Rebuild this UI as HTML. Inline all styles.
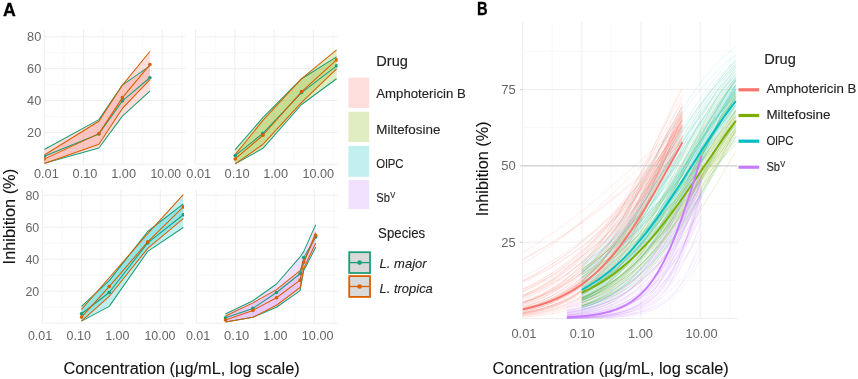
<!DOCTYPE html>
<html><head><meta charset="utf-8"><style>
html,body{margin:0;padding:0;background:#fff;width:858px;height:379px;overflow:hidden}
svg text{font-family:"Liberation Sans", sans-serif}
svg{filter:blur(0.3px)}
</style></head><body>
<svg width="858" height="379" viewBox="0 0 858 379" style="display:block;font-family:'Liberation Sans', sans-serif"><line x1="44.30" y1="148.28" x2="185.40" y2="148.28" stroke="#F5F5F5" stroke-width="0.6"/>
<line x1="44.30" y1="116.44" x2="185.40" y2="116.44" stroke="#F5F5F5" stroke-width="0.6"/>
<line x1="44.30" y1="84.60" x2="185.40" y2="84.60" stroke="#F5F5F5" stroke-width="0.6"/>
<line x1="44.30" y1="52.76" x2="185.40" y2="52.76" stroke="#F5F5F5" stroke-width="0.6"/>
<line x1="63.94" y1="29.50" x2="63.94" y2="164.20" stroke="#F5F5F5" stroke-width="0.6"/>
<line x1="103.20" y1="29.50" x2="103.20" y2="164.20" stroke="#F5F5F5" stroke-width="0.6"/>
<line x1="142.48" y1="29.50" x2="142.48" y2="164.20" stroke="#F5F5F5" stroke-width="0.6"/>
<line x1="181.75" y1="29.50" x2="181.75" y2="164.20" stroke="#F5F5F5" stroke-width="0.6"/>
<line x1="44.30" y1="164.20" x2="185.40" y2="164.20" stroke="#EEEEEE" stroke-width="1"/>
<line x1="44.30" y1="132.36" x2="185.40" y2="132.36" stroke="#EEEEEE" stroke-width="1"/>
<line x1="44.30" y1="100.52" x2="185.40" y2="100.52" stroke="#EEEEEE" stroke-width="1"/>
<line x1="44.30" y1="68.68" x2="185.40" y2="68.68" stroke="#EEEEEE" stroke-width="1"/>
<line x1="44.30" y1="36.84" x2="185.40" y2="36.84" stroke="#EEEEEE" stroke-width="1"/>
<line x1="44.30" y1="29.50" x2="44.30" y2="164.20" stroke="#EEEEEE" stroke-width="1"/>
<line x1="83.57" y1="29.50" x2="83.57" y2="164.20" stroke="#EEEEEE" stroke-width="1"/>
<line x1="122.84" y1="29.50" x2="122.84" y2="164.20" stroke="#EEEEEE" stroke-width="1"/>
<line x1="162.11" y1="29.50" x2="162.11" y2="164.20" stroke="#EEEEEE" stroke-width="1"/>
<line x1="195.60" y1="148.28" x2="337.60" y2="148.28" stroke="#F5F5F5" stroke-width="0.6"/>
<line x1="195.60" y1="116.44" x2="337.60" y2="116.44" stroke="#F5F5F5" stroke-width="0.6"/>
<line x1="195.60" y1="84.60" x2="337.60" y2="84.60" stroke="#F5F5F5" stroke-width="0.6"/>
<line x1="195.60" y1="52.76" x2="337.60" y2="52.76" stroke="#F5F5F5" stroke-width="0.6"/>
<line x1="215.23" y1="29.50" x2="215.23" y2="164.20" stroke="#F5F5F5" stroke-width="0.6"/>
<line x1="254.50" y1="29.50" x2="254.50" y2="164.20" stroke="#F5F5F5" stroke-width="0.6"/>
<line x1="293.77" y1="29.50" x2="293.77" y2="164.20" stroke="#F5F5F5" stroke-width="0.6"/>
<line x1="333.05" y1="29.50" x2="333.05" y2="164.20" stroke="#F5F5F5" stroke-width="0.6"/>
<line x1="195.60" y1="164.20" x2="337.60" y2="164.20" stroke="#EEEEEE" stroke-width="1"/>
<line x1="195.60" y1="132.36" x2="337.60" y2="132.36" stroke="#EEEEEE" stroke-width="1"/>
<line x1="195.60" y1="100.52" x2="337.60" y2="100.52" stroke="#EEEEEE" stroke-width="1"/>
<line x1="195.60" y1="68.68" x2="337.60" y2="68.68" stroke="#EEEEEE" stroke-width="1"/>
<line x1="195.60" y1="36.84" x2="337.60" y2="36.84" stroke="#EEEEEE" stroke-width="1"/>
<line x1="195.60" y1="29.50" x2="195.60" y2="164.20" stroke="#EEEEEE" stroke-width="1"/>
<line x1="234.87" y1="29.50" x2="234.87" y2="164.20" stroke="#EEEEEE" stroke-width="1"/>
<line x1="274.14" y1="29.50" x2="274.14" y2="164.20" stroke="#EEEEEE" stroke-width="1"/>
<line x1="313.41" y1="29.50" x2="313.41" y2="164.20" stroke="#EEEEEE" stroke-width="1"/>
<line x1="42.40" y1="307.20" x2="184.00" y2="307.20" stroke="#F5F5F5" stroke-width="0.6"/>
<line x1="42.40" y1="275.20" x2="184.00" y2="275.20" stroke="#F5F5F5" stroke-width="0.6"/>
<line x1="42.40" y1="243.20" x2="184.00" y2="243.20" stroke="#F5F5F5" stroke-width="0.6"/>
<line x1="42.40" y1="211.20" x2="184.00" y2="211.20" stroke="#F5F5F5" stroke-width="0.6"/>
<line x1="62.05" y1="189.50" x2="62.05" y2="323.20" stroke="#F5F5F5" stroke-width="0.6"/>
<line x1="101.35" y1="189.50" x2="101.35" y2="323.20" stroke="#F5F5F5" stroke-width="0.6"/>
<line x1="140.65" y1="189.50" x2="140.65" y2="323.20" stroke="#F5F5F5" stroke-width="0.6"/>
<line x1="179.95" y1="189.50" x2="179.95" y2="323.20" stroke="#F5F5F5" stroke-width="0.6"/>
<line x1="42.40" y1="323.20" x2="184.00" y2="323.20" stroke="#EEEEEE" stroke-width="1"/>
<line x1="42.40" y1="291.20" x2="184.00" y2="291.20" stroke="#EEEEEE" stroke-width="1"/>
<line x1="42.40" y1="259.20" x2="184.00" y2="259.20" stroke="#EEEEEE" stroke-width="1"/>
<line x1="42.40" y1="227.20" x2="184.00" y2="227.20" stroke="#EEEEEE" stroke-width="1"/>
<line x1="42.40" y1="195.20" x2="184.00" y2="195.20" stroke="#EEEEEE" stroke-width="1"/>
<line x1="42.40" y1="189.50" x2="42.40" y2="323.20" stroke="#EEEEEE" stroke-width="1"/>
<line x1="81.70" y1="189.50" x2="81.70" y2="323.20" stroke="#EEEEEE" stroke-width="1"/>
<line x1="121.00" y1="189.50" x2="121.00" y2="323.20" stroke="#EEEEEE" stroke-width="1"/>
<line x1="160.30" y1="189.50" x2="160.30" y2="323.20" stroke="#EEEEEE" stroke-width="1"/>
<line x1="196.30" y1="307.20" x2="337.60" y2="307.20" stroke="#F5F5F5" stroke-width="0.6"/>
<line x1="196.30" y1="275.20" x2="337.60" y2="275.20" stroke="#F5F5F5" stroke-width="0.6"/>
<line x1="196.30" y1="243.20" x2="337.60" y2="243.20" stroke="#F5F5F5" stroke-width="0.6"/>
<line x1="196.30" y1="211.20" x2="337.60" y2="211.20" stroke="#F5F5F5" stroke-width="0.6"/>
<line x1="215.97" y1="189.50" x2="215.97" y2="323.20" stroke="#F5F5F5" stroke-width="0.6"/>
<line x1="255.30" y1="189.50" x2="255.30" y2="323.20" stroke="#F5F5F5" stroke-width="0.6"/>
<line x1="294.62" y1="189.50" x2="294.62" y2="323.20" stroke="#F5F5F5" stroke-width="0.6"/>
<line x1="333.96" y1="189.50" x2="333.96" y2="323.20" stroke="#F5F5F5" stroke-width="0.6"/>
<line x1="196.30" y1="323.20" x2="337.60" y2="323.20" stroke="#EEEEEE" stroke-width="1"/>
<line x1="196.30" y1="291.20" x2="337.60" y2="291.20" stroke="#EEEEEE" stroke-width="1"/>
<line x1="196.30" y1="259.20" x2="337.60" y2="259.20" stroke="#EEEEEE" stroke-width="1"/>
<line x1="196.30" y1="227.20" x2="337.60" y2="227.20" stroke="#EEEEEE" stroke-width="1"/>
<line x1="196.30" y1="195.20" x2="337.60" y2="195.20" stroke="#EEEEEE" stroke-width="1"/>
<line x1="196.30" y1="189.50" x2="196.30" y2="323.20" stroke="#EEEEEE" stroke-width="1"/>
<line x1="235.63" y1="189.50" x2="235.63" y2="323.20" stroke="#EEEEEE" stroke-width="1"/>
<line x1="274.96" y1="189.50" x2="274.96" y2="323.20" stroke="#EEEEEE" stroke-width="1"/>
<line x1="314.29" y1="189.50" x2="314.29" y2="323.20" stroke="#EEEEEE" stroke-width="1"/>
<clipPath id="cf0"><rect x="44.3" y="20" width="141.10" height="150"/></clipPath><g clip-path="url(#cf0)">
<polygon points="44.30,149.55 98.90,119.62 122.40,85.08 149.90,65.81 149.90,91.13 122.40,116.12 98.90,147.96 44.30,163.24" fill="#F8766D" fill-opacity="0.24" stroke="none"/>
<polygon points="44.30,154.97 98.90,121.22 122.40,85.08 149.90,51.49 149.90,79.66 122.40,108.48 98.90,144.30 44.30,163.56" fill="#F8766D" fill-opacity="0.24" stroke="none"/>
<polyline points="44.30,149.55 98.90,119.62 122.40,85.08 149.90,65.81" fill="none" stroke="#1B9E77" stroke-width="1.05" stroke-linejoin="round"/>
<polyline points="44.30,163.24 98.90,147.96 122.40,116.12 149.90,91.13" fill="none" stroke="#1B9E77" stroke-width="1.05" stroke-linejoin="round"/>
<polyline points="44.30,154.97 98.90,121.22 122.40,85.08 149.90,51.49" fill="none" stroke="#D95F02" stroke-width="1.05" stroke-linejoin="round"/>
<polyline points="44.30,163.56 98.90,144.30 122.40,108.48 149.90,79.66" fill="none" stroke="#D95F02" stroke-width="1.05" stroke-linejoin="round"/>
<polyline points="44.30,156.24 98.90,133.95 122.40,100.84 149.90,77.75" fill="none" stroke="#1B9E77" stroke-width="1.05" stroke-linejoin="round"/>
<circle cx="44.30" cy="156.24" r="1.8" fill="#1B9E77"/>
<circle cx="98.90" cy="133.95" r="1.8" fill="#1B9E77"/>
<circle cx="122.40" cy="100.84" r="1.8" fill="#1B9E77"/>
<circle cx="149.90" cy="77.75" r="1.8" fill="#1B9E77"/>
<polyline points="44.30,159.11 98.90,133.63 122.40,97.65 149.90,64.54" fill="none" stroke="#D95F02" stroke-width="1.05" stroke-linejoin="round"/>
<circle cx="44.30" cy="159.11" r="1.8" fill="#D95F02"/>
<circle cx="98.90" cy="133.63" r="1.8" fill="#D95F02"/>
<circle cx="122.40" cy="97.65" r="1.8" fill="#D95F02"/>
<circle cx="149.90" cy="64.54" r="1.8" fill="#D95F02"/>
</g>
<clipPath id="cf1"><rect x="195.6" y="20" width="142.00" height="150"/></clipPath><g clip-path="url(#cf1)">
<polygon points="235.20,149.71 262.90,117.71 301.60,78.71 336.60,56.90 336.60,78.71 301.60,104.50 262.90,148.28 235.20,163.88" fill="#7CAE00" fill-opacity="0.24" stroke="none"/>
<polygon points="235.20,154.65 262.90,120.42 301.60,78.71 336.60,49.89 336.60,68.84 301.60,102.43 262.90,144.46 235.20,163.88" fill="#7CAE00" fill-opacity="0.24" stroke="none"/>
<polyline points="235.20,149.71 262.90,117.71 301.60,78.71 336.60,56.90" fill="none" stroke="#1B9E77" stroke-width="1.05" stroke-linejoin="round"/>
<polyline points="235.20,163.88 262.90,148.28 301.60,104.50 336.60,78.71" fill="none" stroke="#1B9E77" stroke-width="1.05" stroke-linejoin="round"/>
<polyline points="235.20,154.65 262.90,120.42 301.60,78.71 336.60,49.89" fill="none" stroke="#D95F02" stroke-width="1.05" stroke-linejoin="round"/>
<polyline points="235.20,163.88 262.90,144.46 301.60,102.43 336.60,68.84" fill="none" stroke="#D95F02" stroke-width="1.05" stroke-linejoin="round"/>
<polyline points="235.20,155.60 262.90,133.32 301.60,92.56 336.60,65.81" fill="none" stroke="#1B9E77" stroke-width="1.05" stroke-linejoin="round"/>
<circle cx="235.20" cy="155.60" r="1.8" fill="#1B9E77"/>
<circle cx="262.90" cy="133.32" r="1.8" fill="#1B9E77"/>
<circle cx="301.60" cy="92.56" r="1.8" fill="#1B9E77"/>
<circle cx="336.60" cy="65.81" r="1.8" fill="#1B9E77"/>
<polyline points="235.20,158.95 262.90,135.23 301.60,91.60 336.60,59.92" fill="none" stroke="#D95F02" stroke-width="1.05" stroke-linejoin="round"/>
<circle cx="235.20" cy="158.95" r="1.8" fill="#D95F02"/>
<circle cx="262.90" cy="135.23" r="1.8" fill="#D95F02"/>
<circle cx="301.60" cy="91.60" r="1.8" fill="#D95F02"/>
<circle cx="336.60" cy="59.92" r="1.8" fill="#D95F02"/>
</g>
<clipPath id="cf2"><rect x="42.4" y="180" width="141.60" height="150"/></clipPath><g clip-path="url(#cf2)">
<polygon points="81.50,306.40 109.20,280.64 147.70,231.52 183.30,203.84 183.30,227.52 147.70,251.36 109.20,306.40 81.50,321.12" fill="#00BFC4" fill-opacity="0.24" stroke="none"/>
<polygon points="81.50,309.28 109.20,277.76 147.70,233.60 183.30,194.56 183.30,218.56 147.70,248.32 109.20,296.48 81.50,321.12" fill="#00BFC4" fill-opacity="0.24" stroke="none"/>
<polyline points="81.50,306.40 109.20,280.64 147.70,231.52 183.30,203.84" fill="none" stroke="#1B9E77" stroke-width="1.05" stroke-linejoin="round"/>
<polyline points="81.50,321.12 109.20,306.40 147.70,251.36 183.30,227.52" fill="none" stroke="#1B9E77" stroke-width="1.05" stroke-linejoin="round"/>
<polyline points="81.50,309.28 109.20,277.76 147.70,233.60 183.30,194.56" fill="none" stroke="#D95F02" stroke-width="1.05" stroke-linejoin="round"/>
<polyline points="81.50,321.12 109.20,296.48 147.70,248.32 183.30,218.56" fill="none" stroke="#D95F02" stroke-width="1.05" stroke-linejoin="round"/>
<polyline points="81.50,313.76 109.20,292.48 147.70,242.88 183.30,214.72" fill="none" stroke="#1B9E77" stroke-width="1.05" stroke-linejoin="round"/>
<circle cx="81.50" cy="313.76" r="1.8" fill="#1B9E77"/>
<circle cx="109.20" cy="292.48" r="1.8" fill="#1B9E77"/>
<circle cx="147.70" cy="242.88" r="1.8" fill="#1B9E77"/>
<circle cx="183.30" cy="214.72" r="1.8" fill="#1B9E77"/>
<polyline points="81.50,317.12 109.20,286.56 147.70,241.92 183.30,206.88" fill="none" stroke="#D95F02" stroke-width="1.05" stroke-linejoin="round"/>
<circle cx="81.50" cy="317.12" r="1.8" fill="#D95F02"/>
<circle cx="109.20" cy="286.56" r="1.8" fill="#D95F02"/>
<circle cx="147.70" cy="241.92" r="1.8" fill="#D95F02"/>
<circle cx="183.30" cy="206.88" r="1.8" fill="#D95F02"/>
</g>
<clipPath id="cf3"><rect x="196.3" y="180" width="141.30" height="150"/></clipPath><g clip-path="url(#cf3)">
<polygon points="225.50,314.00 252.90,300.80 276.50,284.00 300.10,256.96 303.70,251.60 315.70,224.64 315.70,247.36 303.70,270.56 300.10,290.56 276.50,307.20 252.90,317.28 225.50,321.92" fill="#C77CFF" fill-opacity="0.24" stroke="none"/>
<polygon points="225.50,316.00 252.90,302.88 276.50,289.60 300.10,270.56 303.70,262.40 315.70,232.80 315.70,243.20 303.70,268.48 300.10,287.52 276.50,305.28 252.90,317.28 225.50,321.92" fill="#C77CFF" fill-opacity="0.24" stroke="none"/>
<polyline points="225.50,314.00 252.90,300.80 276.50,284.00 300.10,256.96 303.70,251.60 315.70,224.64" fill="none" stroke="#1B9E77" stroke-width="1.05" stroke-linejoin="round"/>
<polyline points="225.50,321.92 252.90,317.28 276.50,307.20 300.10,290.56 303.70,270.56 315.70,247.36" fill="none" stroke="#1B9E77" stroke-width="1.05" stroke-linejoin="round"/>
<polyline points="225.50,316.00 252.90,302.88 276.50,289.60 300.10,270.56 303.70,262.40 315.70,232.80" fill="none" stroke="#D95F02" stroke-width="1.05" stroke-linejoin="round"/>
<polyline points="225.50,321.92 252.90,317.28 276.50,305.28 300.10,287.52 303.70,268.48 315.70,243.20" fill="none" stroke="#D95F02" stroke-width="1.05" stroke-linejoin="round"/>
<polyline points="225.50,317.76 252.90,308.40 276.50,292.48 300.10,273.76 303.70,257.60 315.70,236.96" fill="none" stroke="#1B9E77" stroke-width="1.05" stroke-linejoin="round"/>
<circle cx="225.50" cy="317.76" r="1.8" fill="#1B9E77"/>
<circle cx="252.90" cy="308.40" r="1.8" fill="#1B9E77"/>
<circle cx="276.50" cy="292.48" r="1.8" fill="#1B9E77"/>
<circle cx="300.10" cy="273.76" r="1.8" fill="#1B9E77"/>
<circle cx="303.70" cy="257.60" r="1.8" fill="#1B9E77"/>
<circle cx="315.70" cy="236.96" r="1.8" fill="#1B9E77"/>
<polyline points="225.50,320.00 252.90,310.40 276.50,297.76 300.10,280.16 303.70,262.24 315.70,235.20" fill="none" stroke="#D95F02" stroke-width="1.05" stroke-linejoin="round"/>
<circle cx="225.50" cy="320.00" r="1.8" fill="#D95F02"/>
<circle cx="252.90" cy="310.40" r="1.8" fill="#D95F02"/>
<circle cx="276.50" cy="297.76" r="1.8" fill="#D95F02"/>
<circle cx="300.10" cy="280.16" r="1.8" fill="#D95F02"/>
<circle cx="303.70" cy="262.24" r="1.8" fill="#D95F02"/>
<circle cx="315.70" cy="235.20" r="1.8" fill="#D95F02"/>
</g>
<text x="41.30" y="136.86" font-size="12.7" fill="#666666" text-anchor="end" font-weight="normal" font-style="normal" textLength="14.20" lengthAdjust="spacingAndGlyphs" >20</text>
<text x="39.30" y="295.70" font-size="12.7" fill="#666666" text-anchor="end" font-weight="normal" font-style="normal" textLength="13.90" lengthAdjust="spacingAndGlyphs" >20</text>
<text x="41.30" y="105.02" font-size="12.7" fill="#666666" text-anchor="end" font-weight="normal" font-style="normal" textLength="14.20" lengthAdjust="spacingAndGlyphs" >40</text>
<text x="39.30" y="263.70" font-size="12.7" fill="#666666" text-anchor="end" font-weight="normal" font-style="normal" textLength="13.90" lengthAdjust="spacingAndGlyphs" >40</text>
<text x="41.30" y="73.18" font-size="12.7" fill="#666666" text-anchor="end" font-weight="normal" font-style="normal" textLength="14.20" lengthAdjust="spacingAndGlyphs" >60</text>
<text x="39.30" y="231.70" font-size="12.7" fill="#666666" text-anchor="end" font-weight="normal" font-style="normal" textLength="13.90" lengthAdjust="spacingAndGlyphs" >60</text>
<text x="41.30" y="41.34" font-size="12.7" fill="#666666" text-anchor="end" font-weight="normal" font-style="normal" textLength="14.20" lengthAdjust="spacingAndGlyphs" >80</text>
<text x="39.30" y="199.70" font-size="12.7" fill="#666666" text-anchor="end" font-weight="normal" font-style="normal" textLength="13.90" lengthAdjust="spacingAndGlyphs" >80</text>
<text x="34.00" y="178.20" font-size="12.7" fill="#666666" text-anchor="start" font-weight="normal" font-style="normal" textLength="24.70" lengthAdjust="spacingAndGlyphs" >0.01</text>
<text x="72.60" y="178.20" font-size="12.7" fill="#666666" text-anchor="start" font-weight="normal" font-style="normal" textLength="24.80" lengthAdjust="spacingAndGlyphs" >0.10</text>
<text x="111.20" y="178.20" font-size="12.7" fill="#666666" text-anchor="start" font-weight="normal" font-style="normal" textLength="24.80" lengthAdjust="spacingAndGlyphs" >1.00</text>
<text x="150.50" y="178.20" font-size="12.7" fill="#666666" text-anchor="start" font-weight="normal" font-style="normal" textLength="30.50" lengthAdjust="spacingAndGlyphs" >10.00</text>
<text x="186.30" y="178.20" font-size="12.7" fill="#666666" text-anchor="start" font-weight="normal" font-style="normal" textLength="24.80" lengthAdjust="spacingAndGlyphs" >0.01</text>
<text x="224.60" y="178.20" font-size="12.7" fill="#666666" text-anchor="start" font-weight="normal" font-style="normal" textLength="25.10" lengthAdjust="spacingAndGlyphs" >0.10</text>
<text x="263.20" y="178.20" font-size="12.7" fill="#666666" text-anchor="start" font-weight="normal" font-style="normal" textLength="24.80" lengthAdjust="spacingAndGlyphs" >1.00</text>
<text x="302.40" y="178.20" font-size="12.7" fill="#666666" text-anchor="start" font-weight="normal" font-style="normal" textLength="31.70" lengthAdjust="spacingAndGlyphs" >10.00</text>
<text x="27.90" y="340.20" font-size="12.7" fill="#666666" text-anchor="start" font-weight="normal" font-style="normal" textLength="24.20" lengthAdjust="spacingAndGlyphs" >0.01</text>
<text x="66.60" y="340.20" font-size="12.7" fill="#666666" text-anchor="start" font-weight="normal" font-style="normal" textLength="24.30" lengthAdjust="spacingAndGlyphs" >0.10</text>
<text x="105.20" y="340.20" font-size="12.7" fill="#666666" text-anchor="start" font-weight="normal" font-style="normal" textLength="24.20" lengthAdjust="spacingAndGlyphs" >1.00</text>
<text x="144.40" y="340.20" font-size="12.7" fill="#666666" text-anchor="start" font-weight="normal" font-style="normal" textLength="31.10" lengthAdjust="spacingAndGlyphs" >10.00</text>
<text x="185.90" y="340.20" font-size="12.7" fill="#666666" text-anchor="start" font-weight="normal" font-style="normal" textLength="24.40" lengthAdjust="spacingAndGlyphs" >0.01</text>
<text x="224.10" y="340.20" font-size="12.7" fill="#666666" text-anchor="start" font-weight="normal" font-style="normal" textLength="25.20" lengthAdjust="spacingAndGlyphs" >0.10</text>
<text x="263.20" y="340.20" font-size="12.7" fill="#666666" text-anchor="start" font-weight="normal" font-style="normal" textLength="24.30" lengthAdjust="spacingAndGlyphs" >1.00</text>
<text x="301.80" y="340.20" font-size="12.7" fill="#666666" text-anchor="start" font-weight="normal" font-style="normal" textLength="31.70" lengthAdjust="spacingAndGlyphs" >10.00</text>
<text x="0.00" y="0.00" font-size="16" fill="#111" text-anchor="start" font-weight="normal" font-style="normal" stroke="#111" stroke-width="0.1" textLength="95.50" lengthAdjust="spacingAndGlyphs" transform="translate(15.2,264.4) rotate(-90)">Inhibition (%)</text>
<text x="63.40" y="373.60" font-size="16" fill="#111" text-anchor="start" font-weight="normal" font-style="normal" stroke="#111" stroke-width="0.1" textLength="236.30" lengthAdjust="spacingAndGlyphs" >Concentration (µg/mL, log scale)</text>
<text x="3.00" y="15.90" font-size="18" fill="#000" text-anchor="start" font-weight="bold" font-style="normal" stroke="#000" stroke-width="0.3" textLength="12.80" lengthAdjust="spacingAndGlyphs" >A</text>
<text x="376.30" y="66.10" font-size="15.2" fill="#222" text-anchor="start" font-weight="normal" font-style="normal" stroke="#222" stroke-width="0.15" textLength="31.60" lengthAdjust="spacingAndGlyphs" >Drug</text>
<rect x="348.4" y="77.7" width="20.8" height="30.2" fill="#F8766D" fill-opacity="0.24"/>
<text x="376.30" y="98.20" font-size="13.0" fill="#222" text-anchor="start" font-weight="normal" font-style="normal" stroke="#222" stroke-width="0.12" textLength="89.40" lengthAdjust="spacingAndGlyphs" >Amphotericin B</text>
<rect x="348.4" y="111.8" width="20.8" height="30.3" fill="#7CAE00" fill-opacity="0.24"/>
<text x="376.30" y="133.80" font-size="13.0" fill="#222" text-anchor="start" font-weight="normal" font-style="normal" stroke="#222" stroke-width="0.12" textLength="64.10" lengthAdjust="spacingAndGlyphs" >Miltefosine</text>
<rect x="348.4" y="145.9" width="20.8" height="30.9" fill="#00BFC4" fill-opacity="0.24"/>
<text x="376.30" y="168.00" font-size="13.0" fill="#222" text-anchor="start" font-weight="normal" font-style="normal" stroke="#222" stroke-width="0.12" textLength="27.20" lengthAdjust="spacingAndGlyphs" >OlPC</text>
<rect x="348.4" y="180.0" width="20.8" height="29.1" fill="#C77CFF" fill-opacity="0.24"/>
<text x="376.30" y="201.80" font-size="13.0" fill="#222" text-anchor="start" font-weight="normal" font-style="normal" stroke="#222" stroke-width="0.12" textLength="13.60" lengthAdjust="spacingAndGlyphs" >Sb</text>
<text x="390.20" y="197.80" font-size="9.5" fill="#222" text-anchor="start" font-weight="normal" font-style="normal" stroke="#222" stroke-width="0.15" textLength="5.00" lengthAdjust="spacingAndGlyphs" >V</text>
<text x="378.10" y="238.10" font-size="15.2" fill="#222" text-anchor="start" font-weight="normal" font-style="normal" stroke="#222" stroke-width="0.15" textLength="47.10" lengthAdjust="spacingAndGlyphs" >Species</text>
<rect x="349.2" y="252.2" width="20.8" height="20.8" fill="#D9D9D9" stroke="#1B9E77" stroke-width="1.8"/>
<line x1="350" y1="262.6" x2="369.2" y2="262.6" stroke="#1B9E77" stroke-width="1.3"/>
<circle cx="359.6" cy="262.6" r="2.3" fill="#1B9E77"/>
<text x="379.60" y="268.10" font-size="13.0" fill="#222" text-anchor="start" font-weight="normal" font-style="italic" stroke="#222" stroke-width="0.12" textLength="47.00" lengthAdjust="spacingAndGlyphs" >L. major</text>
<rect x="349.2" y="276.1" width="20.8" height="20.8" fill="#D9D9D9" stroke="#D95F02" stroke-width="1.8"/>
<line x1="350" y1="286.5" x2="369.2" y2="286.5" stroke="#D95F02" stroke-width="1.3"/>
<circle cx="359.6" cy="286.5" r="2.3" fill="#D95F02"/>
<text x="379.60" y="293.20" font-size="13.0" fill="#222" text-anchor="start" font-weight="normal" font-style="italic" stroke="#222" stroke-width="0.12" textLength="53.20" lengthAdjust="spacingAndGlyphs" >L. tropica</text>
<line x1="522.6" y1="280.35" x2="737.7" y2="280.35" stroke="#F5F5F5" stroke-width="0.6"/>
<line x1="522.6" y1="204.05" x2="737.7" y2="204.05" stroke="#F5F5F5" stroke-width="0.6"/>
<line x1="522.6" y1="127.75" x2="737.7" y2="127.75" stroke="#F5F5F5" stroke-width="0.6"/>
<line x1="522.6" y1="51.45" x2="737.7" y2="51.45" stroke="#F5F5F5" stroke-width="0.6"/>
<line x1="552.20" y1="21.7" x2="552.20" y2="319.0" stroke="#F5F5F5" stroke-width="0.6"/>
<line x1="611.40" y1="21.7" x2="611.40" y2="319.0" stroke="#F5F5F5" stroke-width="0.6"/>
<line x1="670.60" y1="21.7" x2="670.60" y2="319.0" stroke="#F5F5F5" stroke-width="0.6"/>
<line x1="729.80" y1="21.7" x2="729.80" y2="319.0" stroke="#F5F5F5" stroke-width="0.6"/>
<line x1="522.6" y1="318.50" x2="737.7" y2="318.50" stroke="#EEEEEE" stroke-width="1"/>
<line x1="522.6" y1="242.20" x2="737.7" y2="242.20" stroke="#EEEEEE" stroke-width="1"/>
<line x1="522.6" y1="89.60" x2="737.7" y2="89.60" stroke="#EEEEEE" stroke-width="1"/>
<line x1="522.60" y1="21.7" x2="522.60" y2="319.0" stroke="#EEEEEE" stroke-width="1"/>
<line x1="581.80" y1="21.7" x2="581.80" y2="319.0" stroke="#EEEEEE" stroke-width="1"/>
<line x1="641.00" y1="21.7" x2="641.00" y2="319.0" stroke="#EEEEEE" stroke-width="1"/>
<line x1="700.20" y1="21.7" x2="700.20" y2="319.0" stroke="#EEEEEE" stroke-width="1"/>
<line x1="519.8" y1="242.20" x2="522.6" y2="242.20" stroke="#BDBDBD" stroke-width="0.8"/>
<line x1="519.8" y1="165.90" x2="522.6" y2="165.90" stroke="#BDBDBD" stroke-width="0.8"/>
<line x1="519.8" y1="89.60" x2="522.6" y2="89.60" stroke="#BDBDBD" stroke-width="0.8"/>
<defs><clipPath id="clipB"><rect x="522.6" y="21.7" width="215.1" height="297.3"/></clipPath></defs>
<g clip-path="url(#clipB)">
<path d="M522.60,304.31 L526.59,303.09 L530.59,301.77 L534.58,300.34 L538.58,298.80 L542.57,297.13 L546.57,295.34 L550.56,293.41 L554.56,291.34 L558.55,289.11 L562.54,286.72 L566.54,284.16 L570.53,281.43 L574.53,278.50 L578.52,275.39 L582.52,272.07 L586.51,268.55 L590.51,264.81 L594.50,260.86 L598.50,256.69 L602.49,252.30 L606.48,247.68 L610.48,242.85 L614.47,237.80 L618.47,232.54 L622.46,227.08 L626.46,221.42 L630.45,215.58 L634.45,209.57 L638.44,203.42 L642.43,197.13 L646.43,190.72 L650.42,184.23 L654.42,177.67 L658.41,171.06 L662.41,164.44 L666.40,157.82 L670.40,151.23 L674.39,144.69 L678.38,138.24 L682.38,131.88" fill="none" stroke="#F8766D" stroke-opacity="0.16" stroke-width="0.9"/>
<path d="M522.60,302.37 L526.59,300.97 L530.59,299.47 L534.58,297.84 L538.58,296.09 L542.57,294.20 L546.57,292.17 L550.56,289.99 L554.56,287.64 L558.55,285.12 L562.54,282.43 L566.54,279.55 L570.53,276.47 L574.53,273.20 L578.52,269.71 L582.52,266.01 L586.51,262.10 L590.51,257.96 L594.50,253.59 L598.50,249.00 L602.49,244.19 L606.48,239.16 L610.48,233.91 L614.47,228.45 L618.47,222.79 L622.46,216.94 L626.46,210.92 L630.45,204.74 L634.45,198.43 L638.44,191.99 L642.43,185.46 L646.43,178.85 L650.42,172.19 L654.42,165.51 L658.41,158.83 L662.41,152.18 L666.40,145.58 L670.40,139.06 L674.39,132.64 L678.38,126.33 L682.38,120.17" fill="none" stroke="#F8766D" stroke-opacity="0.16" stroke-width="0.9"/>
<path d="M522.60,291.32 L526.59,289.53 L530.59,287.64 L534.58,285.64 L538.58,283.53 L542.57,281.30 L546.57,278.95 L550.56,276.47 L554.56,273.86 L558.55,271.13 L562.54,268.25 L566.54,265.24 L570.53,262.09 L574.53,258.79 L578.52,255.35 L582.52,251.77 L586.51,248.04 L590.51,244.17 L594.50,240.16 L598.50,236.01 L602.49,231.72 L606.48,227.31 L610.48,222.76 L614.47,218.10 L618.47,213.32 L622.46,208.43 L626.46,203.45 L630.45,198.39 L634.45,193.24 L638.44,188.04 L642.43,182.78 L646.43,177.48 L650.42,172.15 L654.42,166.80 L658.41,161.45 L662.41,156.12 L666.40,150.80 L670.40,145.53 L674.39,140.30 L678.38,135.14 L682.38,130.04" fill="none" stroke="#F8766D" stroke-opacity="0.16" stroke-width="0.9"/>
<path d="M522.60,313.90 L526.59,313.32 L530.59,312.67 L534.58,311.93 L538.58,311.11 L542.57,310.19 L546.57,309.15 L550.56,307.99 L554.56,306.70 L558.55,305.25 L562.54,303.63 L566.54,301.82 L570.53,299.81 L574.53,297.57 L578.52,295.09 L582.52,292.34 L586.51,289.30 L590.51,285.95 L594.50,282.26 L598.50,278.22 L602.49,273.81 L606.48,269.00 L610.48,263.78 L614.47,258.14 L618.47,252.07 L622.46,245.57 L626.46,238.66 L630.45,231.33 L634.45,223.61 L638.44,215.54 L642.43,207.13 L646.43,198.46 L650.42,189.55 L654.42,180.48 L658.41,171.30 L662.41,162.08 L666.40,152.89 L670.40,143.79 L674.39,134.85 L678.38,126.13 L682.38,117.68" fill="none" stroke="#F8766D" stroke-opacity="0.16" stroke-width="0.9"/>
<path d="M522.60,313.37 L526.59,312.74 L530.59,312.02 L534.58,311.22 L538.58,310.33 L542.57,309.33 L546.57,308.21 L550.56,306.95 L554.56,305.56 L558.55,304.00 L562.54,302.27 L566.54,300.34 L570.53,298.19 L574.53,295.82 L578.52,293.19 L582.52,290.29 L586.51,287.09 L590.51,283.57 L594.50,279.72 L598.50,275.51 L602.49,270.93 L606.48,265.95 L610.48,260.57 L614.47,254.78 L618.47,248.57 L622.46,241.95 L626.46,234.93 L630.45,227.51 L634.45,219.74 L638.44,211.63 L642.43,203.22 L646.43,194.57 L650.42,185.72 L654.42,176.74 L658.41,167.68 L662.41,158.60 L666.40,149.58 L670.40,140.67 L674.39,131.94 L678.38,123.43 L682.38,115.20" fill="none" stroke="#F8766D" stroke-opacity="0.16" stroke-width="0.9"/>
<path d="M522.60,309.63 L526.59,308.70 L530.59,307.67 L534.58,306.54 L538.58,305.30 L542.57,303.94 L546.57,302.44 L550.56,300.80 L554.56,299.00 L558.55,297.03 L562.54,294.88 L566.54,292.54 L570.53,289.98 L574.53,287.20 L578.52,284.19 L582.52,280.92 L586.51,277.40 L590.51,273.59 L594.50,269.50 L598.50,265.11 L602.49,260.42 L606.48,255.42 L610.48,250.11 L614.47,244.49 L618.47,238.56 L622.46,232.33 L626.46,225.82 L630.45,219.04 L634.45,212.01 L638.44,204.76 L642.43,197.32 L646.43,189.72 L650.42,181.99 L654.42,174.18 L658.41,166.33 L662.41,158.47 L666.40,150.66 L670.40,142.92 L674.39,135.30 L678.38,127.84 L682.38,120.57" fill="none" stroke="#F8766D" stroke-opacity="0.16" stroke-width="0.9"/>
<path d="M522.60,276.72 L526.59,274.81 L530.59,272.84 L534.58,270.79 L538.58,268.67 L542.57,266.47 L546.57,264.20 L550.56,261.85 L554.56,259.42 L558.55,256.91 L562.54,254.32 L566.54,251.66 L570.53,248.91 L574.53,246.09 L578.52,243.19 L582.52,240.22 L586.51,237.16 L590.51,234.04 L594.50,230.83 L598.50,227.56 L602.49,224.22 L606.48,220.81 L610.48,217.34 L614.47,213.81 L618.47,210.22 L622.46,206.57 L626.46,202.87 L630.45,199.13 L634.45,195.34 L638.44,191.52 L642.43,187.66 L646.43,183.78 L650.42,179.87 L654.42,175.94 L658.41,172.00 L662.41,168.05 L666.40,164.10 L670.40,160.15 L674.39,156.20 L678.38,152.28 L682.38,148.36" fill="none" stroke="#F8766D" stroke-opacity="0.16" stroke-width="0.9"/>
<path d="M522.60,310.97 L526.59,310.15 L530.59,309.25 L534.58,308.25 L538.58,307.15 L542.57,305.93 L546.57,304.60 L550.56,303.12 L554.56,301.50 L558.55,299.72 L562.54,297.77 L566.54,295.63 L570.53,293.28 L574.53,290.73 L578.52,287.94 L582.52,284.90 L586.51,281.60 L590.51,278.03 L594.50,274.17 L598.50,270.01 L602.49,265.54 L606.48,260.75 L610.48,255.63 L614.47,250.18 L618.47,244.41 L622.46,238.31 L626.46,231.90 L630.45,225.19 L634.45,218.20 L638.44,210.95 L642.43,203.47 L646.43,195.79 L650.42,187.96 L654.42,180.00 L658.41,171.96 L662.41,163.89 L666.40,155.83 L670.40,147.83 L674.39,139.93 L678.38,132.17 L682.38,124.58" fill="none" stroke="#F8766D" stroke-opacity="0.16" stroke-width="0.9"/>
<path d="M522.60,263.87 L526.59,261.54 L530.59,259.13 L534.58,256.65 L538.58,254.08 L542.57,251.45 L546.57,248.73 L550.56,245.94 L554.56,243.07 L558.55,240.12 L562.54,237.11 L566.54,234.02 L570.53,230.85 L574.53,227.62 L578.52,224.32 L582.52,220.96 L586.51,217.53 L590.51,214.04 L594.50,210.50 L598.50,206.90 L602.49,203.26 L606.48,199.56 L610.48,195.83 L614.47,192.06 L618.47,188.25 L622.46,184.42 L626.46,180.56 L630.45,176.68 L634.45,172.79 L638.44,168.89 L642.43,164.99 L646.43,161.08 L650.42,157.19 L654.42,153.30 L658.41,149.43 L662.41,145.58 L666.40,141.76 L670.40,137.97 L674.39,134.22 L678.38,130.50 L682.38,126.83" fill="none" stroke="#F8766D" stroke-opacity="0.16" stroke-width="0.9"/>
<path d="M522.60,291.14 L526.59,289.32 L530.59,287.39 L534.58,285.35 L538.58,283.19 L542.57,280.90 L546.57,278.50 L550.56,275.96 L554.56,273.29 L558.55,270.48 L562.54,267.53 L566.54,264.44 L570.53,261.21 L574.53,257.82 L578.52,254.29 L582.52,250.61 L586.51,246.79 L590.51,242.81 L594.50,238.69 L598.50,234.43 L602.49,230.03 L606.48,225.50 L610.48,220.84 L614.47,216.06 L618.47,211.16 L622.46,206.17 L626.46,201.07 L630.45,195.90 L634.45,190.64 L638.44,185.33 L642.43,179.97 L646.43,174.58 L650.42,169.16 L654.42,163.74 L658.41,158.32 L662.41,152.92 L666.40,147.55 L670.40,142.23 L674.39,136.97 L678.38,131.77 L682.38,126.66" fill="none" stroke="#F8766D" stroke-opacity="0.16" stroke-width="0.9"/>
<path d="M522.60,308.46 L526.59,307.44 L530.59,306.31 L534.58,305.07 L538.58,303.72 L542.57,302.24 L546.57,300.61 L550.56,298.84 L554.56,296.90 L558.55,294.78 L562.54,292.48 L566.54,289.98 L570.53,287.27 L574.53,284.33 L578.52,281.14 L582.52,277.71 L586.51,274.02 L590.51,270.05 L594.50,265.79 L598.50,261.25 L602.49,256.42 L606.48,251.28 L610.48,245.85 L614.47,240.12 L618.47,234.11 L622.46,227.81 L626.46,221.26 L630.45,214.46 L634.45,207.44 L638.44,200.23 L642.43,192.85 L646.43,185.33 L650.42,177.72 L654.42,170.06 L658.41,162.37 L662.41,154.69 L666.40,147.08 L670.40,139.56 L674.39,132.16 L678.38,124.93 L682.38,117.90" fill="none" stroke="#F8766D" stroke-opacity="0.16" stroke-width="0.9"/>
<path d="M522.60,308.83 L526.59,307.79 L530.59,306.64 L534.58,305.37 L538.58,303.96 L542.57,302.42 L546.57,300.73 L550.56,298.86 L554.56,296.82 L558.55,294.58 L562.54,292.13 L566.54,289.46 L570.53,286.55 L574.53,283.38 L578.52,279.95 L582.52,276.23 L586.51,272.21 L590.51,267.88 L594.50,263.24 L598.50,258.27 L602.49,252.97 L606.48,247.35 L610.48,241.39 L614.47,235.11 L618.47,228.53 L622.46,221.65 L626.46,214.49 L630.45,207.10 L634.45,199.48 L638.44,191.69 L642.43,183.76 L646.43,175.73 L650.42,167.64 L654.42,159.54 L658.41,151.48 L662.41,143.50 L666.40,135.64 L670.40,127.95 L674.39,120.45 L678.38,113.19 L682.38,106.19" fill="none" stroke="#F8766D" stroke-opacity="0.16" stroke-width="0.9"/>
<path d="M522.60,309.40 L526.59,308.47 L530.59,307.44 L534.58,306.31 L538.58,305.08 L542.57,303.72 L546.57,302.24 L550.56,300.61 L554.56,298.84 L558.55,296.90 L562.54,294.78 L566.54,292.48 L570.53,289.97 L574.53,287.25 L578.52,284.31 L582.52,281.12 L586.51,277.69 L590.51,273.99 L594.50,270.01 L598.50,265.75 L602.49,261.21 L606.48,256.36 L610.48,251.22 L614.47,245.78 L618.47,240.04 L622.46,234.02 L626.46,227.72 L630.45,221.16 L634.45,214.35 L638.44,207.32 L642.43,200.10 L646.43,192.71 L650.42,185.19 L654.42,177.57 L658.41,169.89 L662.41,162.20 L666.40,154.52 L670.40,146.90 L674.39,139.37 L678.38,131.98 L682.38,124.75" fill="none" stroke="#F8766D" stroke-opacity="0.16" stroke-width="0.9"/>
<path d="M522.60,302.22 L526.59,301.00 L530.59,299.69 L534.58,298.29 L538.58,296.79 L542.57,295.19 L546.57,293.48 L550.56,291.66 L554.56,289.72 L558.55,287.65 L562.54,285.46 L566.54,283.12 L570.53,280.65 L574.53,278.03 L578.52,275.26 L582.52,272.33 L586.51,269.24 L590.51,265.99 L594.50,262.56 L598.50,258.97 L602.49,255.20 L606.48,251.26 L610.48,247.15 L614.47,242.87 L618.47,238.42 L622.46,233.80 L626.46,229.02 L630.45,224.09 L634.45,219.01 L638.44,213.80 L642.43,208.45 L646.43,202.99 L650.42,197.43 L654.42,191.78 L658.41,186.06 L662.41,180.27 L666.40,174.45 L670.40,168.60 L674.39,162.74 L678.38,156.89 L682.38,151.07" fill="none" stroke="#F8766D" stroke-opacity="0.16" stroke-width="0.9"/>
<path d="M522.60,312.36 L526.59,311.69 L530.59,310.94 L534.58,310.10 L538.58,309.18 L542.57,308.17 L546.57,307.04 L550.56,305.80 L554.56,304.43 L558.55,302.93 L562.54,301.27 L566.54,299.44 L570.53,297.43 L574.53,295.24 L578.52,292.83 L582.52,290.20 L586.51,287.32 L590.51,284.20 L594.50,280.80 L598.50,277.12 L602.49,273.14 L606.48,268.85 L610.48,264.23 L614.47,259.29 L618.47,254.01 L622.46,248.40 L626.46,242.45 L630.45,236.18 L634.45,229.59 L638.44,222.69 L642.43,215.52 L646.43,208.09 L650.42,200.44 L654.42,192.61 L658.41,184.62 L662.41,176.53 L666.40,168.38 L670.40,160.21 L674.39,152.08 L678.38,144.03 L682.38,136.09" fill="none" stroke="#F8766D" stroke-opacity="0.16" stroke-width="0.9"/>
<path d="M522.60,295.12 L526.59,293.39 L530.59,291.53 L534.58,289.56 L538.58,287.45 L542.57,285.22 L546.57,282.84 L550.56,280.31 L554.56,277.64 L558.55,274.81 L562.54,271.81 L566.54,268.65 L570.53,265.32 L574.53,261.82 L578.52,258.14 L582.52,254.28 L586.51,250.25 L590.51,246.04 L594.50,241.65 L598.50,237.09 L602.49,232.37 L606.48,227.48 L610.48,222.43 L614.47,217.24 L618.47,211.90 L622.46,206.45 L626.46,200.87 L630.45,195.20 L634.45,189.45 L638.44,183.62 L642.43,177.74 L646.43,171.82 L650.42,165.89 L654.42,159.96 L658.41,154.04 L662.41,148.16 L666.40,142.34 L670.40,136.58 L674.39,130.91 L678.38,125.34 L682.38,119.88" fill="none" stroke="#F8766D" stroke-opacity="0.16" stroke-width="0.9"/>
<path d="M522.60,301.47 L526.59,300.05 L530.59,298.53 L534.58,296.89 L538.58,295.13 L542.57,293.23 L546.57,291.20 L550.56,289.02 L554.56,286.69 L558.55,284.19 L562.54,281.53 L566.54,278.69 L570.53,275.66 L574.53,272.45 L578.52,269.04 L582.52,265.43 L586.51,261.62 L590.51,257.59 L594.50,253.36 L598.50,248.92 L602.49,244.27 L606.48,239.41 L610.48,234.34 L614.47,229.09 L618.47,223.64 L622.46,218.02 L626.46,212.23 L630.45,206.30 L634.45,200.23 L638.44,194.04 L642.43,187.75 L646.43,181.39 L650.42,174.97 L654.42,168.52 L658.41,162.06 L662.41,155.62 L666.40,149.21 L670.40,142.86 L674.39,136.59 L678.38,130.42 L682.38,124.37" fill="none" stroke="#F8766D" stroke-opacity="0.16" stroke-width="0.9"/>
<path d="M522.60,311.31 L526.59,310.51 L530.59,309.61 L534.58,308.63 L538.58,307.53 L542.57,306.32 L546.57,304.98 L550.56,303.50 L554.56,301.87 L558.55,300.07 L562.54,298.09 L566.54,295.91 L570.53,293.52 L574.53,290.91 L578.52,288.05 L582.52,284.93 L586.51,281.54 L590.51,277.85 L594.50,273.86 L598.50,269.54 L602.49,264.90 L606.48,259.91 L610.48,254.58 L614.47,248.90 L618.47,242.88 L622.46,236.51 L626.46,229.82 L630.45,222.82 L634.45,215.52 L638.44,207.96 L642.43,200.17 L646.43,192.19 L650.42,184.06 L654.42,175.82 L658.41,167.52 L662.41,159.21 L666.40,150.94 L670.40,142.76 L674.39,134.72 L678.38,126.85 L682.38,119.20" fill="none" stroke="#F8766D" stroke-opacity="0.16" stroke-width="0.9"/>
<path d="M522.60,297.15 L526.59,295.46 L530.59,293.65 L534.58,291.71 L538.58,289.63 L542.57,287.42 L546.57,285.05 L550.56,282.52 L554.56,279.83 L558.55,276.98 L562.54,273.94 L566.54,270.73 L570.53,267.32 L574.53,263.73 L578.52,259.94 L582.52,255.96 L586.51,251.78 L590.51,247.40 L594.50,242.83 L598.50,238.06 L602.49,233.10 L606.48,227.96 L610.48,222.65 L614.47,217.17 L618.47,211.54 L622.46,205.77 L626.46,199.87 L630.45,193.86 L634.45,187.77 L638.44,181.60 L642.43,175.38 L646.43,169.13 L650.42,162.86 L654.42,156.61 L658.41,150.39 L662.41,144.22 L666.40,138.12 L670.40,132.11 L674.39,126.21 L678.38,120.44 L682.38,114.80" fill="none" stroke="#F8766D" stroke-opacity="0.16" stroke-width="0.9"/>
<path d="M522.60,302.86 L526.59,301.63 L530.59,300.30 L534.58,298.88 L538.58,297.35 L542.57,295.71 L546.57,293.96 L550.56,292.09 L554.56,290.09 L558.55,287.95 L562.54,285.67 L566.54,283.24 L570.53,280.66 L574.53,277.92 L578.52,275.01 L582.52,271.93 L586.51,268.67 L590.51,265.24 L594.50,261.61 L598.50,257.80 L602.49,253.81 L606.48,249.62 L610.48,245.24 L614.47,240.68 L618.47,235.94 L622.46,231.01 L626.46,225.92 L630.45,220.66 L634.45,215.25 L638.44,209.70 L642.43,204.01 L646.43,198.21 L650.42,192.32 L654.42,186.34 L658.41,180.29 L662.41,174.20 L666.40,168.08 L670.40,161.96 L674.39,155.85 L678.38,149.77 L682.38,143.74" fill="none" stroke="#F8766D" stroke-opacity="0.16" stroke-width="0.9"/>
<path d="M522.60,295.35 L526.59,293.74 L530.59,292.02 L534.58,290.20 L538.58,288.27 L542.57,286.21 L546.57,284.04 L550.56,281.74 L554.56,279.31 L558.55,276.74 L562.54,274.04 L566.54,271.19 L570.53,268.19 L574.53,265.04 L578.52,261.74 L582.52,258.28 L586.51,254.67 L590.51,250.90 L594.50,246.97 L598.50,242.89 L602.49,238.65 L606.48,234.27 L610.48,229.73 L614.47,225.06 L618.47,220.25 L622.46,215.32 L626.46,210.27 L630.45,205.10 L634.45,199.85 L638.44,194.50 L642.43,189.08 L646.43,183.60 L650.42,178.08 L654.42,172.52 L658.41,166.94 L662.41,161.36 L666.40,155.80 L670.40,150.26 L674.39,144.76 L678.38,139.31 L682.38,133.94" fill="none" stroke="#F8766D" stroke-opacity="0.16" stroke-width="0.9"/>
<path d="M522.60,305.95 L526.59,304.64 L530.59,303.19 L534.58,301.61 L538.58,299.88 L542.57,297.98 L546.57,295.90 L550.56,293.63 L554.56,291.15 L558.55,288.45 L562.54,285.52 L566.54,282.34 L570.53,278.90 L574.53,275.18 L578.52,271.18 L582.52,266.88 L586.51,262.27 L590.51,257.35 L594.50,252.11 L598.50,246.56 L602.49,240.70 L606.48,234.53 L610.48,228.06 L614.47,221.32 L618.47,214.32 L622.46,207.08 L626.46,199.64 L630.45,192.02 L634.45,184.27 L638.44,176.42 L642.43,168.52 L646.43,160.60 L650.42,152.71 L654.42,144.89 L658.41,137.18 L662.41,129.62 L666.40,122.24 L670.40,115.08 L674.39,108.17 L678.38,101.51 L682.38,95.15" fill="none" stroke="#F8766D" stroke-opacity="0.16" stroke-width="0.9"/>
<path d="M522.60,309.12 L526.59,308.22 L530.59,307.24 L534.58,306.17 L538.58,305.00 L542.57,303.73 L546.57,302.34 L550.56,300.84 L554.56,299.20 L558.55,297.42 L562.54,295.49 L566.54,293.40 L570.53,291.14 L574.53,288.69 L578.52,286.05 L582.52,283.21 L586.51,280.15 L590.51,276.88 L594.50,273.36 L598.50,269.61 L602.49,265.61 L606.48,261.35 L610.48,256.83 L614.47,252.06 L618.47,247.02 L622.46,241.72 L626.46,236.17 L630.45,230.37 L634.45,224.34 L638.44,218.08 L642.43,211.62 L646.43,204.97 L650.42,198.16 L654.42,191.21 L658.41,184.16 L662.41,177.02 L666.40,169.84 L670.40,162.63 L674.39,155.44 L678.38,148.30 L682.38,141.24" fill="none" stroke="#F8766D" stroke-opacity="0.16" stroke-width="0.9"/>
<path d="M522.60,259.68 L526.59,257.59 L530.59,255.44 L534.58,253.24 L538.58,250.98 L542.57,248.66 L546.57,246.29 L550.56,243.86 L554.56,241.38 L558.55,238.85 L562.54,236.26 L566.54,233.62 L570.53,230.93 L574.53,228.19 L578.52,225.40 L582.52,222.56 L586.51,219.68 L590.51,216.75 L594.50,213.78 L598.50,210.76 L602.49,207.71 L606.48,204.63 L610.48,201.50 L614.47,198.35 L618.47,195.17 L622.46,191.96 L626.46,188.72 L630.45,185.47 L634.45,182.19 L638.44,178.90 L642.43,175.60 L646.43,172.29 L650.42,168.98 L654.42,165.66 L658.41,162.34 L662.41,159.03 L666.40,155.72 L670.40,152.42 L674.39,149.13 L678.38,145.86 L682.38,142.61" fill="none" stroke="#F8766D" stroke-opacity="0.16" stroke-width="0.9"/>
<path d="M522.60,302.32 L526.59,300.88 L530.59,299.31 L534.58,297.61 L538.58,295.78 L542.57,293.80 L546.57,291.67 L550.56,289.37 L554.56,286.89 L558.55,284.23 L562.54,281.38 L566.54,278.32 L570.53,275.05 L574.53,271.57 L578.52,267.85 L582.52,263.91 L586.51,259.73 L590.51,255.31 L594.50,250.66 L598.50,245.76 L602.49,240.62 L606.48,235.25 L610.48,229.65 L614.47,223.84 L618.47,217.83 L622.46,211.63 L626.46,205.25 L630.45,198.73 L634.45,192.08 L638.44,185.32 L642.43,178.49 L646.43,171.60 L650.42,164.69 L654.42,157.79 L658.41,150.92 L662.41,144.11 L666.40,137.39 L670.40,130.78 L674.39,124.31 L678.38,117.99 L682.38,111.85" fill="none" stroke="#F8766D" stroke-opacity="0.16" stroke-width="0.9"/>
<path d="M522.60,309.87 L526.59,308.94 L530.59,307.92 L534.58,306.78 L538.58,305.53 L542.57,304.16 L546.57,302.64 L550.56,300.98 L554.56,299.15 L558.55,297.15 L562.54,294.95 L566.54,292.55 L570.53,289.93 L574.53,287.08 L578.52,283.98 L582.52,280.61 L586.51,276.96 L590.51,273.03 L594.50,268.79 L598.50,264.24 L602.49,259.37 L606.48,254.17 L610.48,248.65 L614.47,242.80 L618.47,236.63 L622.46,230.15 L626.46,223.38 L630.45,216.33 L634.45,209.03 L638.44,201.52 L642.43,193.81 L646.43,185.96 L650.42,177.99 L654.42,169.96 L658.41,161.91 L662.41,153.87 L666.40,145.91 L670.40,138.05 L674.39,130.35 L678.38,122.83 L682.38,115.53" fill="none" stroke="#F8766D" stroke-opacity="0.16" stroke-width="0.9"/>
<path d="M522.60,282.62 L526.59,280.78 L530.59,278.87 L534.58,276.86 L538.58,274.78 L542.57,272.61 L546.57,270.35 L550.56,268.00 L554.56,265.56 L558.55,263.03 L562.54,260.40 L566.54,257.68 L570.53,254.87 L574.53,251.96 L578.52,248.96 L582.52,245.86 L586.51,242.67 L590.51,239.39 L594.50,236.01 L598.50,232.55 L602.49,229.00 L606.48,225.36 L610.48,221.64 L614.47,217.85 L618.47,213.98 L622.46,210.04 L626.46,206.04 L630.45,201.97 L634.45,197.86 L638.44,193.69 L642.43,189.48 L646.43,185.23 L650.42,180.95 L654.42,176.64 L658.41,172.32 L662.41,167.99 L666.40,163.66 L670.40,159.33 L674.39,155.01 L678.38,150.70 L682.38,146.43" fill="none" stroke="#F8766D" stroke-opacity="0.16" stroke-width="0.9"/>
<path d="M522.60,312.60 L526.59,311.93 L530.59,311.19 L534.58,310.36 L538.58,309.44 L542.57,308.43 L546.57,307.30 L550.56,306.05 L554.56,304.67 L558.55,303.15 L562.54,301.47 L566.54,299.61 L570.53,297.57 L574.53,295.32 L578.52,292.86 L582.52,290.15 L586.51,287.20 L590.51,283.98 L594.50,280.47 L598.50,276.66 L602.49,272.53 L606.48,268.07 L610.48,263.28 L614.47,258.13 L618.47,252.64 L622.46,246.79 L626.46,240.58 L630.45,234.04 L634.45,227.17 L638.44,219.99 L642.43,212.52 L646.43,204.80 L650.42,196.86 L654.42,188.74 L658.41,180.48 L662.41,172.14 L666.40,163.76 L670.40,155.40 L674.39,147.10 L678.38,138.90 L682.38,130.87" fill="none" stroke="#F8766D" stroke-opacity="0.16" stroke-width="0.9"/>
<path d="M522.60,314.96 L526.59,314.48 L530.59,313.93 L534.58,313.31 L538.58,312.61 L542.57,311.82 L546.57,310.92 L550.56,309.91 L554.56,308.76 L558.55,307.47 L562.54,306.01 L566.54,304.37 L570.53,302.53 L574.53,300.46 L578.52,298.14 L582.52,295.55 L586.51,292.65 L590.51,289.43 L594.50,285.86 L598.50,281.90 L602.49,277.54 L606.48,272.74 L610.48,267.49 L614.47,261.77 L618.47,255.57 L622.46,248.88 L626.46,241.71 L630.45,234.06 L634.45,225.95 L638.44,217.43 L642.43,208.52 L646.43,199.29 L650.42,189.80 L654.42,180.11 L658.41,170.31 L662.41,160.47 L666.40,150.67 L670.40,141.00 L674.39,131.53 L678.38,122.33 L682.38,113.46" fill="none" stroke="#F8766D" stroke-opacity="0.16" stroke-width="0.9"/>
<path d="M522.60,303.44 L526.59,302.00 L530.59,300.43 L534.58,298.72 L538.58,296.87 L542.57,294.85 L546.57,292.67 L550.56,290.30 L554.56,287.74 L558.55,284.98 L562.54,282.00 L566.54,278.79 L570.53,275.35 L574.53,271.66 L578.52,267.72 L582.52,263.52 L586.51,259.05 L590.51,254.31 L594.50,249.30 L598.50,244.01 L602.49,238.47 L606.48,232.66 L610.48,226.60 L614.47,220.31 L618.47,213.80 L622.46,207.08 L626.46,200.20 L630.45,193.16 L634.45,186.00 L638.44,178.74 L642.43,171.43 L646.43,164.10 L650.42,156.77 L654.42,149.48 L658.41,142.27 L662.41,135.17 L666.40,128.20 L670.40,121.39 L674.39,114.78 L678.38,108.37 L682.38,102.19" fill="none" stroke="#F8766D" stroke-opacity="0.16" stroke-width="0.9"/>
<path d="M522.60,309.58 L526.59,308.59 L530.59,307.50 L534.58,306.29 L538.58,304.95 L542.57,303.47 L546.57,301.84 L550.56,300.05 L554.56,298.08 L558.55,295.91 L562.54,293.53 L566.54,290.93 L570.53,288.08 L574.53,284.98 L578.52,281.60 L582.52,277.94 L586.51,273.96 L590.51,269.68 L594.50,265.06 L598.50,260.11 L602.49,254.81 L606.48,249.17 L610.48,243.18 L614.47,236.86 L618.47,230.21 L622.46,223.24 L626.46,215.99 L630.45,208.48 L634.45,200.73 L638.44,192.79 L642.43,184.70 L646.43,176.50 L650.42,168.24 L654.42,159.96 L658.41,151.72 L662.41,143.56 L666.40,135.53 L670.40,127.67 L674.39,120.02 L678.38,112.62 L682.38,105.49" fill="none" stroke="#F8766D" stroke-opacity="0.16" stroke-width="0.9"/>
<path d="M522.60,295.92 L526.59,294.15 L530.59,292.24 L534.58,290.21 L538.58,288.03 L542.57,285.71 L546.57,283.23 L550.56,280.60 L554.56,277.79 L558.55,274.81 L562.54,271.65 L566.54,268.31 L570.53,264.78 L574.53,261.05 L578.52,257.13 L582.52,253.01 L586.51,248.70 L590.51,244.19 L594.50,239.48 L598.50,234.59 L602.49,229.51 L606.48,224.26 L610.48,218.84 L614.47,213.26 L618.47,207.54 L622.46,201.69 L626.46,195.72 L630.45,189.66 L634.45,183.52 L638.44,177.33 L642.43,171.09 L646.43,164.84 L650.42,158.59 L654.42,152.37 L658.41,146.19 L662.41,140.08 L666.40,134.05 L670.40,128.12 L674.39,122.31 L678.38,116.64 L682.38,111.11" fill="none" stroke="#F8766D" stroke-opacity="0.16" stroke-width="0.9"/>
<path d="M522.60,289.27 L526.59,287.39 L530.59,285.41 L534.58,283.31 L538.58,281.10 L542.57,278.77 L546.57,276.32 L550.56,273.74 L554.56,271.03 L558.55,268.20 L562.54,265.22 L566.54,262.11 L570.53,258.86 L574.53,255.47 L578.52,251.94 L582.52,248.27 L586.51,244.46 L590.51,240.52 L594.50,236.43 L598.50,232.22 L602.49,227.87 L606.48,223.41 L610.48,218.82 L614.47,214.12 L618.47,209.32 L622.46,204.43 L626.46,199.44 L630.45,194.39 L634.45,189.26 L638.44,184.08 L642.43,178.86 L646.43,173.61 L650.42,168.34 L654.42,163.06 L658.41,157.79 L662.41,152.54 L666.40,147.32 L670.40,142.14 L674.39,137.02 L678.38,131.97 L682.38,127.00" fill="none" stroke="#F8766D" stroke-opacity="0.16" stroke-width="0.9"/>
<path d="M522.60,280.40 L526.59,278.46 L530.59,276.43 L534.58,274.32 L538.58,272.13 L542.57,269.84 L546.57,267.46 L550.56,265.00 L554.56,262.44 L558.55,259.78 L562.54,257.03 L566.54,254.19 L570.53,251.25 L574.53,248.21 L578.52,245.08 L582.52,241.86 L586.51,238.54 L590.51,235.13 L594.50,231.63 L598.50,228.05 L602.49,224.38 L606.48,220.63 L610.48,216.81 L614.47,212.91 L618.47,208.94 L622.46,204.90 L626.46,200.81 L630.45,196.67 L634.45,192.47 L638.44,188.24 L642.43,183.97 L646.43,179.66 L650.42,175.34 L654.42,171.00 L658.41,166.66 L662.41,162.31 L666.40,157.97 L670.40,153.64 L674.39,149.33 L678.38,145.05 L682.38,140.80" fill="none" stroke="#F8766D" stroke-opacity="0.16" stroke-width="0.9"/>
<path d="M522.60,315.18 L526.59,314.72 L530.59,314.21 L534.58,313.63 L538.58,312.97 L542.57,312.23 L546.57,311.38 L550.56,310.43 L554.56,309.35 L558.55,308.13 L562.54,306.75 L566.54,305.21 L570.53,303.46 L574.53,301.51 L578.52,299.31 L582.52,296.86 L586.51,294.11 L590.51,291.05 L594.50,287.65 L598.50,283.89 L602.49,279.72 L606.48,275.14 L610.48,270.11 L614.47,264.62 L618.47,258.65 L622.46,252.19 L626.46,245.25 L630.45,237.82 L634.45,229.93 L638.44,221.60 L642.43,212.87 L646.43,203.79 L650.42,194.41 L654.42,184.80 L658.41,175.04 L662.41,165.20 L666.40,155.36 L670.40,145.62 L674.39,136.04 L678.38,126.69 L682.38,117.66" fill="none" stroke="#F8766D" stroke-opacity="0.16" stroke-width="0.9"/>
<path d="M522.60,252.61 L526.59,250.20 L530.59,247.73 L534.58,245.20 L538.58,242.61 L542.57,239.96 L546.57,237.24 L550.56,234.47 L554.56,231.64 L558.55,228.76 L562.54,225.82 L566.54,222.82 L570.53,219.78 L574.53,216.68 L578.52,213.54 L582.52,210.35 L586.51,207.11 L590.51,203.84 L594.50,200.53 L598.50,197.19 L602.49,193.81 L606.48,190.40 L610.48,186.97 L614.47,183.52 L618.47,180.05 L622.46,176.56 L626.46,173.07 L630.45,169.56 L634.45,166.06 L638.44,162.55 L642.43,159.04 L646.43,155.54 L650.42,152.06 L654.42,148.59 L658.41,145.13 L662.41,141.70 L666.40,138.29 L670.40,134.91 L674.39,131.56 L678.38,128.25 L682.38,124.97" fill="none" stroke="#F8766D" stroke-opacity="0.16" stroke-width="0.9"/>
<path d="M522.60,307.30 L526.59,306.15 L530.59,304.88 L534.58,303.49 L538.58,301.96 L542.57,300.29 L546.57,298.46 L550.56,296.46 L554.56,294.28 L558.55,291.90 L562.54,289.32 L566.54,286.51 L570.53,283.46 L574.53,280.17 L578.52,276.62 L582.52,272.79 L586.51,268.68 L590.51,264.27 L594.50,259.57 L598.50,254.56 L602.49,249.25 L606.48,243.63 L610.48,237.71 L614.47,231.50 L618.47,225.01 L622.46,218.26 L626.46,211.27 L630.45,204.07 L634.45,196.68 L638.44,189.13 L642.43,181.47 L646.43,173.73 L650.42,165.94 L654.42,158.16 L658.41,150.42 L662.41,142.75 L666.40,135.21 L670.40,127.81 L674.39,120.61 L678.38,113.61 L682.38,106.86" fill="none" stroke="#F8766D" stroke-opacity="0.16" stroke-width="0.9"/>
<path d="M522.60,291.73 L526.59,290.08 L530.59,288.35 L534.58,286.53 L538.58,284.61 L542.57,282.59 L546.57,280.47 L550.56,278.24 L554.56,275.90 L558.55,273.44 L562.54,270.87 L566.54,268.18 L570.53,265.38 L574.53,262.45 L578.52,259.39 L582.52,256.21 L586.51,252.91 L590.51,249.48 L594.50,245.93 L598.50,242.25 L602.49,238.45 L606.48,234.53 L610.48,230.49 L614.47,226.34 L618.47,222.08 L622.46,217.71 L626.46,213.25 L630.45,208.70 L634.45,204.06 L638.44,199.35 L642.43,194.57 L646.43,189.73 L650.42,184.84 L654.42,179.90 L658.41,174.95 L662.41,169.97 L666.40,164.98 L670.40,159.99 L674.39,155.02 L678.38,150.07 L682.38,145.15" fill="none" stroke="#F8766D" stroke-opacity="0.16" stroke-width="0.9"/>
<path d="M522.60,313.52 L526.59,312.90 L530.59,312.19 L534.58,311.40 L538.58,310.52 L542.57,309.52 L546.57,308.41 L550.56,307.17 L554.56,305.78 L558.55,304.22 L562.54,302.49 L566.54,300.55 L570.53,298.41 L574.53,296.02 L578.52,293.38 L582.52,290.45 L586.51,287.22 L590.51,283.67 L594.50,279.77 L598.50,275.51 L602.49,270.86 L606.48,265.81 L610.48,260.34 L614.47,254.45 L618.47,248.13 L622.46,241.39 L626.46,234.24 L630.45,226.68 L634.45,218.76 L638.44,210.50 L642.43,201.94 L646.43,193.14 L650.42,184.14 L654.42,175.02 L658.41,165.83 L662.41,156.64 L666.40,147.51 L670.40,138.52 L674.39,129.72 L678.38,121.17 L682.38,112.91" fill="none" stroke="#F8766D" stroke-opacity="0.16" stroke-width="0.9"/>
<path d="M522.60,309.00 L526.59,308.04 L530.59,306.99 L534.58,305.83 L538.58,304.57 L542.57,303.19 L546.57,301.68 L550.56,300.03 L554.56,298.23 L558.55,296.26 L562.54,294.13 L566.54,291.81 L570.53,289.28 L574.53,286.55 L578.52,283.60 L582.52,280.41 L586.51,276.97 L590.51,273.28 L594.50,269.32 L598.50,265.08 L602.49,260.56 L606.48,255.75 L610.48,250.66 L614.47,245.27 L618.47,239.60 L622.46,233.65 L626.46,227.43 L630.45,220.96 L634.45,214.26 L638.44,207.34 L642.43,200.23 L646.43,192.96 L650.42,185.56 L654.42,178.06 L658.41,170.51 L662.41,162.93 L666.40,155.37 L670.40,147.86 L674.39,140.43 L678.38,133.13 L682.38,125.99" fill="none" stroke="#F8766D" stroke-opacity="0.16" stroke-width="0.9"/>
<path d="M522.60,315.62 L526.59,315.21 L530.59,314.75 L534.58,314.22 L538.58,313.62 L542.57,312.94 L546.57,312.17 L550.56,311.29 L554.56,310.30 L558.55,309.17 L562.54,307.89 L566.54,306.44 L570.53,304.80 L574.53,302.96 L578.52,300.88 L582.52,298.54 L586.51,295.91 L590.51,292.97 L594.50,289.68 L598.50,286.02 L602.49,281.96 L606.48,277.47 L610.48,272.52 L614.47,267.09 L618.47,261.15 L622.46,254.71 L626.46,247.75 L630.45,240.27 L634.45,232.30 L638.44,223.85 L642.43,214.96 L646.43,205.69 L650.42,196.09 L654.42,186.24 L658.41,176.21 L662.41,166.09 L666.40,155.97 L670.40,145.93 L674.39,136.07 L678.38,126.46 L682.38,117.17" fill="none" stroke="#F8766D" stroke-opacity="0.16" stroke-width="0.9"/>
<path d="M522.60,311.13 L526.59,310.33 L530.59,309.44 L534.58,308.46 L538.58,307.37 L542.57,306.18 L546.57,304.86 L550.56,303.41 L554.56,301.81 L558.55,300.06 L562.54,298.13 L566.54,296.02 L570.53,293.71 L574.53,291.18 L578.52,288.42 L582.52,285.42 L586.51,282.16 L590.51,278.62 L594.50,274.80 L598.50,270.67 L602.49,266.24 L606.48,261.48 L610.48,256.39 L614.47,250.98 L618.47,245.24 L622.46,239.17 L626.46,232.78 L630.45,226.09 L634.45,219.11 L638.44,211.87 L642.43,204.40 L646.43,196.72 L650.42,188.88 L654.42,180.91 L658.41,172.86 L662.41,164.77 L666.40,156.68 L670.40,148.65 L674.39,140.71 L678.38,132.91 L682.38,125.29" fill="none" stroke="#F8766D" stroke-opacity="0.16" stroke-width="0.9"/>
<path d="M522.60,281.44 L526.59,279.64 L530.59,277.76 L534.58,275.81 L538.58,273.78 L542.57,271.67 L546.57,269.48 L550.56,267.21 L554.56,264.85 L558.55,262.41 L562.54,259.89 L566.54,257.27 L570.53,254.58 L574.53,251.79 L578.52,248.92 L582.52,245.97 L586.51,242.93 L590.51,239.80 L594.50,236.59 L598.50,233.30 L602.49,229.93 L606.48,226.48 L610.48,222.96 L614.47,219.36 L618.47,215.70 L622.46,211.97 L626.46,208.18 L630.45,204.33 L634.45,200.43 L638.44,196.48 L642.43,192.49 L646.43,188.46 L650.42,184.40 L654.42,180.31 L658.41,176.20 L662.41,172.07 L666.40,167.94 L670.40,163.80 L674.39,159.66 L678.38,155.54 L682.38,151.43" fill="none" stroke="#F8766D" stroke-opacity="0.16" stroke-width="0.9"/>
<path d="M522.60,313.39 L526.59,312.77 L530.59,312.07 L534.58,311.29 L538.58,310.42 L542.57,309.45 L546.57,308.36 L550.56,307.15 L554.56,305.80 L558.55,304.30 L562.54,302.63 L566.54,300.77 L570.53,298.72 L574.53,296.44 L578.52,293.92 L582.52,291.14 L586.51,288.09 L590.51,284.73 L594.50,281.06 L598.50,277.04 L602.49,272.67 L606.48,267.93 L610.48,262.80 L614.47,257.27 L618.47,251.35 L622.46,245.02 L626.46,238.30 L630.45,231.20 L634.45,223.73 L638.44,215.92 L642.43,207.81 L646.43,199.43 L650.42,190.84 L654.42,182.08 L658.41,173.21 L662.41,164.29 L666.40,155.38 L670.40,146.55 L674.39,137.84 L678.38,129.32 L682.38,121.04" fill="none" stroke="#F8766D" stroke-opacity="0.16" stroke-width="0.9"/>
<path d="M522.60,259.24 L526.59,257.10 L530.59,254.91 L534.58,252.66 L538.58,250.35 L542.57,247.98 L546.57,245.56 L550.56,243.08 L554.56,240.55 L558.55,237.96 L562.54,235.31 L566.54,232.62 L570.53,229.86 L574.53,227.06 L578.52,224.21 L582.52,221.31 L586.51,218.36 L590.51,215.37 L594.50,212.33 L598.50,209.26 L602.49,206.14 L606.48,202.99 L610.48,199.80 L614.47,196.58 L618.47,193.34 L622.46,190.06 L626.46,186.77 L630.45,183.45 L634.45,180.12 L638.44,176.78 L642.43,173.42 L646.43,170.06 L650.42,166.69 L654.42,163.32 L658.41,159.95 L662.41,156.59 L666.40,153.24 L670.40,149.90 L674.39,146.58 L678.38,143.27 L682.38,139.99" fill="none" stroke="#F8766D" stroke-opacity="0.16" stroke-width="0.9"/>
<path d="M522.60,306.35 L526.59,305.27 L530.59,304.11 L534.58,302.84 L538.58,301.47 L542.57,299.99 L546.57,298.38 L550.56,296.65 L554.56,294.79 L558.55,292.77 L562.54,290.61 L566.54,288.28 L570.53,285.77 L574.53,283.09 L578.52,280.22 L582.52,277.16 L586.51,273.88 L590.51,270.40 L594.50,266.70 L598.50,262.77 L602.49,258.62 L606.48,254.24 L610.48,249.63 L614.47,244.78 L618.47,239.72 L622.46,234.43 L626.46,228.92 L630.45,223.21 L634.45,217.30 L638.44,211.22 L642.43,204.98 L646.43,198.59 L650.42,192.08 L654.42,185.47 L658.41,178.78 L662.41,172.04 L666.40,165.28 L670.40,158.53 L674.39,151.80 L678.38,145.12 L682.38,138.53" fill="none" stroke="#F8766D" stroke-opacity="0.16" stroke-width="0.9"/>
<path d="M522.60,289.57 L526.59,287.94 L530.59,286.24 L534.58,284.45 L538.58,282.57 L542.57,280.60 L546.57,278.54 L550.56,276.39 L554.56,274.14 L558.55,271.79 L562.54,269.34 L566.54,266.79 L570.53,264.14 L574.53,261.37 L578.52,258.50 L582.52,255.53 L586.51,252.44 L590.51,249.25 L594.50,245.95 L598.50,242.55 L602.49,239.04 L606.48,235.42 L610.48,231.71 L614.47,227.89 L618.47,223.98 L622.46,219.98 L626.46,215.90 L630.45,211.73 L634.45,207.48 L638.44,203.16 L642.43,198.78 L646.43,194.34 L650.42,189.85 L654.42,185.32 L658.41,180.76 L662.41,176.16 L666.40,171.55 L670.40,166.93 L674.39,162.30 L678.38,157.68 L682.38,153.08" fill="none" stroke="#F8766D" stroke-opacity="0.16" stroke-width="0.9"/>
<path d="M522.60,310.08 L526.59,309.16 L530.59,308.14 L534.58,307.01 L538.58,305.77 L542.57,304.40 L546.57,302.89 L550.56,301.23 L554.56,299.40 L558.55,297.39 L562.54,295.19 L566.54,292.78 L570.53,290.15 L574.53,287.27 L578.52,284.15 L582.52,280.75 L586.51,277.07 L590.51,273.09 L594.50,268.80 L598.50,264.18 L602.49,259.24 L606.48,253.97 L610.48,248.36 L614.47,242.42 L618.47,236.15 L622.46,229.56 L626.46,222.67 L630.45,215.51 L634.45,208.09 L638.44,200.45 L642.43,192.62 L646.43,184.64 L650.42,176.56 L654.42,168.42 L658.41,160.26 L662.41,152.14 L666.40,144.09 L670.40,136.17 L674.39,128.40 L678.38,120.84 L682.38,113.52" fill="none" stroke="#F8766D" stroke-opacity="0.16" stroke-width="0.9"/>
<path d="M522.60,310.01 L526.59,309.14 L530.59,308.17 L534.58,307.11 L538.58,305.95 L542.57,304.67 L546.57,303.27 L550.56,301.73 L554.56,300.05 L558.55,298.22 L562.54,296.21 L566.54,294.03 L570.53,291.65 L574.53,289.06 L578.52,286.26 L582.52,283.22 L586.51,279.93 L590.51,276.39 L594.50,272.57 L598.50,268.48 L602.49,264.10 L606.48,259.42 L610.48,254.44 L614.47,249.17 L618.47,243.59 L622.46,237.72 L626.46,231.56 L630.45,225.13 L634.45,218.44 L638.44,211.51 L642.43,204.37 L646.43,197.04 L650.42,189.57 L654.42,181.97 L658.41,174.29 L662.41,166.57 L666.40,158.85 L670.40,151.16 L674.39,143.55 L678.38,136.05 L682.38,128.69" fill="none" stroke="#F8766D" stroke-opacity="0.16" stroke-width="0.9"/>
<path d="M522.60,309.39 L526.59,308.51 L530.59,307.53 L534.58,306.47 L538.58,305.31 L542.57,304.04 L546.57,302.65 L550.56,301.14 L554.56,299.50 L558.55,297.71 L562.54,295.77 L566.54,293.66 L570.53,291.37 L574.53,288.90 L578.52,286.22 L582.52,283.34 L586.51,280.23 L590.51,276.90 L594.50,273.32 L598.50,269.49 L602.49,265.40 L606.48,261.04 L610.48,256.42 L614.47,251.53 L618.47,246.36 L622.46,240.93 L626.46,235.23 L630.45,229.28 L634.45,223.09 L638.44,216.67 L642.43,210.04 L646.43,203.22 L650.42,196.24 L654.42,189.13 L658.41,181.91 L662.41,174.62 L666.40,167.29 L670.40,159.95 L674.39,152.64 L678.38,145.39 L682.38,138.24" fill="none" stroke="#F8766D" stroke-opacity="0.16" stroke-width="0.9"/>
<path d="M522.60,295.61 L526.59,293.93 L530.59,292.13 L534.58,290.22 L538.58,288.19 L542.57,286.03 L546.57,283.74 L550.56,281.30 L554.56,278.72 L558.55,275.99 L562.54,273.10 L566.54,270.05 L570.53,266.84 L574.53,263.46 L578.52,259.91 L582.52,256.19 L586.51,252.30 L590.51,248.23 L594.50,243.99 L598.50,239.58 L602.49,235.01 L606.48,230.27 L610.48,225.38 L614.47,220.34 L618.47,215.16 L622.46,209.85 L626.46,204.42 L630.45,198.88 L634.45,193.25 L638.44,187.55 L642.43,181.78 L646.43,175.96 L650.42,170.12 L654.42,164.26 L658.41,158.41 L662.41,152.58 L666.40,146.79 L670.40,141.05 L674.39,135.39 L678.38,129.81 L682.38,124.33" fill="none" stroke="#F8766D" stroke-opacity="0.16" stroke-width="0.9"/>
<path d="M522.60,313.09 L526.59,312.42 L530.59,311.66 L534.58,310.82 L538.58,309.88 L542.57,308.82 L546.57,307.64 L550.56,306.32 L554.56,304.85 L558.55,303.21 L562.54,301.38 L566.54,299.35 L570.53,297.10 L574.53,294.61 L578.52,291.85 L582.52,288.81 L586.51,285.46 L590.51,281.78 L594.50,277.75 L598.50,273.36 L602.49,268.59 L606.48,263.41 L610.48,257.83 L614.47,251.83 L618.47,245.42 L622.46,238.59 L626.46,231.37 L630.45,223.77 L634.45,215.82 L638.44,207.55 L642.43,199.01 L646.43,190.25 L650.42,181.32 L654.42,172.28 L658.41,163.19 L662.41,154.13 L666.40,145.14 L670.40,136.31 L674.39,127.67 L678.38,119.29 L682.38,111.20" fill="none" stroke="#F8766D" stroke-opacity="0.16" stroke-width="0.9"/>
<path d="M522.60,296.39 L526.59,294.88 L530.59,293.28 L534.58,291.58 L538.58,289.78 L542.57,287.87 L546.57,285.85 L550.56,283.71 L554.56,281.45 L558.55,279.06 L562.54,276.55 L566.54,273.90 L570.53,271.11 L574.53,268.19 L578.52,265.12 L582.52,261.90 L586.51,258.54 L590.51,255.03 L594.50,251.37 L598.50,247.56 L602.49,243.60 L606.48,239.50 L610.48,235.25 L614.47,230.86 L618.47,226.34 L622.46,221.68 L626.46,216.91 L630.45,212.02 L634.45,207.02 L638.44,201.93 L642.43,196.75 L646.43,191.49 L650.42,186.17 L654.42,180.80 L658.41,175.39 L662.41,169.96 L666.40,164.52 L670.40,159.08 L674.39,153.66 L678.38,148.27 L682.38,142.93" fill="none" stroke="#F8766D" stroke-opacity="0.16" stroke-width="0.9"/>
<path d="M522.60,314.14 L526.59,313.54 L530.59,312.87 L534.58,312.11 L538.58,311.24 L542.57,310.27 L546.57,309.16 L550.56,307.91 L554.56,306.50 L558.55,304.92 L562.54,303.13 L566.54,301.13 L570.53,298.88 L574.53,296.36 L578.52,293.54 L582.52,290.40 L586.51,286.92 L590.51,283.05 L594.50,278.78 L598.50,274.09 L602.49,268.94 L606.48,263.32 L610.48,257.21 L614.47,250.62 L618.47,243.53 L622.46,235.96 L626.46,227.92 L630.45,219.45 L634.45,210.59 L638.44,201.38 L642.43,191.89 L646.43,182.20 L650.42,172.36 L654.42,162.47 L658.41,152.61 L662.41,142.87 L666.40,133.31 L670.40,124.01 L674.39,115.03 L678.38,106.44 L682.38,98.26" fill="none" stroke="#F8766D" stroke-opacity="0.16" stroke-width="0.9"/>
<path d="M522.60,280.96 L526.59,278.98 L530.59,276.91 L534.58,274.75 L538.58,272.49 L542.57,270.14 L546.57,267.70 L550.56,265.15 L554.56,262.51 L558.55,259.76 L562.54,256.92 L566.54,253.97 L570.53,250.92 L574.53,247.77 L578.52,244.52 L582.52,241.17 L586.51,237.72 L590.51,234.17 L594.50,230.53 L598.50,226.79 L602.49,222.97 L606.48,219.06 L610.48,215.07 L614.47,211.01 L618.47,206.87 L622.46,202.67 L626.46,198.40 L630.45,194.09 L634.45,189.72 L638.44,185.32 L642.43,180.88 L646.43,176.42 L650.42,171.93 L654.42,167.44 L658.41,162.95 L662.41,158.46 L666.40,153.98 L670.40,149.52 L674.39,145.10 L678.38,140.70 L682.38,136.35" fill="none" stroke="#F8766D" stroke-opacity="0.16" stroke-width="0.9"/>
<path d="M522.60,303.35 L526.59,302.01 L530.59,300.56 L534.58,298.98 L538.58,297.28 L542.57,295.45 L546.57,293.47 L550.56,291.33 L554.56,289.03 L558.55,286.56 L562.54,283.91 L566.54,281.07 L570.53,278.03 L574.53,274.78 L578.52,271.32 L582.52,267.63 L586.51,263.73 L590.51,259.59 L594.50,255.21 L598.50,250.61 L602.49,245.76 L606.48,240.69 L610.48,235.39 L614.47,229.86 L618.47,224.13 L622.46,218.20 L626.46,212.08 L630.45,205.80 L634.45,199.36 L638.44,192.80 L642.43,186.13 L646.43,179.39 L650.42,172.59 L654.42,165.76 L658.41,158.94 L662.41,152.14 L666.40,145.40 L670.40,138.74 L674.39,132.18 L678.38,125.75 L682.38,119.47" fill="none" stroke="#F8766D" stroke-opacity="0.16" stroke-width="0.9"/>
<path d="M522.60,313.11 L526.59,312.39 L530.59,311.57 L534.58,310.65 L538.58,309.60 L542.57,308.43 L546.57,307.10 L550.56,305.61 L554.56,303.93 L558.55,302.05 L562.54,299.94 L566.54,297.57 L570.53,294.93 L574.53,291.99 L578.52,288.72 L582.52,285.09 L586.51,281.09 L590.51,276.67 L594.50,271.83 L598.50,266.53 L602.49,260.77 L606.48,254.54 L610.48,247.82 L614.47,240.62 L618.47,232.96 L622.46,224.85 L626.46,216.33 L630.45,207.45 L634.45,198.25 L638.44,188.79 L642.43,179.16 L646.43,169.41 L650.42,159.64 L654.42,149.92 L658.41,140.33 L662.41,130.94 L666.40,121.82 L670.40,113.03 L674.39,104.63 L678.38,96.64 L682.38,89.11" fill="none" stroke="#F8766D" stroke-opacity="0.16" stroke-width="0.9"/>
<path d="M522.60,312.07 L526.59,311.24 L530.59,310.30 L534.58,309.25 L538.58,308.06 L542.57,306.73 L546.57,305.24 L550.56,303.57 L554.56,301.70 L558.55,299.60 L562.54,297.27 L566.54,294.68 L570.53,291.79 L574.53,288.60 L578.52,285.07 L582.52,281.17 L586.51,276.90 L590.51,272.22 L594.50,267.11 L598.50,261.57 L602.49,255.57 L606.48,249.12 L610.48,242.22 L614.47,234.87 L618.47,227.10 L622.46,218.93 L626.46,210.40 L630.45,201.56 L634.45,192.45 L638.44,183.15 L642.43,173.71 L646.43,164.22 L650.42,154.73 L654.42,145.34 L658.41,136.09 L662.41,127.07 L666.40,118.34 L670.40,109.93 L674.39,101.90 L678.38,94.28 L682.38,87.08" fill="none" stroke="#F8766D" stroke-opacity="0.16" stroke-width="0.9"/>
<path d="M522.60,297.03 L526.59,295.51 L530.59,293.90 L534.58,292.18 L538.58,290.35 L542.57,288.41 L546.57,286.35 L550.56,284.17 L554.56,281.87 L558.55,279.42 L562.54,276.84 L566.54,274.12 L570.53,271.26 L574.53,268.24 L578.52,265.07 L582.52,261.75 L586.51,258.26 L590.51,254.62 L594.50,250.82 L598.50,246.87 L602.49,242.75 L606.48,238.48 L610.48,234.05 L614.47,229.48 L618.47,224.77 L622.46,219.92 L626.46,214.94 L630.45,209.84 L634.45,204.63 L638.44,199.33 L642.43,193.94 L646.43,188.47 L650.42,182.95 L654.42,177.38 L658.41,171.78 L662.41,166.16 L666.40,160.54 L670.40,154.94 L674.39,149.37 L678.38,143.84 L682.38,138.37" fill="none" stroke="#F8766D" stroke-opacity="0.16" stroke-width="0.9"/>
<path d="M522.60,314.46 L526.59,313.95 L530.59,313.37 L534.58,312.72 L538.58,311.99 L542.57,311.17 L546.57,310.26 L550.56,309.22 L554.56,308.07 L558.55,306.78 L562.54,305.33 L566.54,303.71 L570.53,301.91 L574.53,299.90 L578.52,297.67 L582.52,295.19 L586.51,292.44 L590.51,289.40 L594.50,286.04 L598.50,282.36 L602.49,278.31 L606.48,273.88 L610.48,269.06 L614.47,263.83 L618.47,258.17 L622.46,252.09 L626.46,245.57 L630.45,238.63 L634.45,231.28 L638.44,223.53 L642.43,215.42 L646.43,206.98 L650.42,198.27 L654.42,189.33 L658.41,180.22 L662.41,171.01 L666.40,161.76 L670.40,152.54 L674.39,143.41 L678.38,134.45 L682.38,125.71" fill="none" stroke="#F8766D" stroke-opacity="0.16" stroke-width="0.9"/>
<path d="M522.60,309.17 L526.59,308.21 L530.59,307.15 L534.58,305.98 L538.58,304.70 L542.57,303.29 L546.57,301.75 L550.56,300.07 L554.56,298.22 L558.55,296.21 L562.54,294.01 L566.54,291.62 L570.53,289.01 L574.53,286.19 L578.52,283.13 L582.52,279.82 L586.51,276.25 L590.51,272.40 L594.50,268.27 L598.50,263.86 L602.49,259.14 L606.48,254.12 L610.48,248.80 L614.47,243.17 L618.47,237.25 L622.46,231.03 L626.46,224.55 L630.45,217.80 L634.45,210.82 L638.44,203.62 L642.43,196.24 L646.43,188.71 L650.42,181.07 L654.42,173.34 L658.41,165.58 L662.41,157.82 L666.40,150.10 L670.40,142.47 L674.39,134.95 L678.38,127.58 L682.38,120.40" fill="none" stroke="#F8766D" stroke-opacity="0.16" stroke-width="0.9"/>
<path d="M522.60,308.53 L526.59,307.55 L530.59,306.47 L534.58,305.30 L538.58,304.02 L542.57,302.62 L546.57,301.10 L550.56,299.44 L554.56,297.63 L558.55,295.66 L562.54,293.52 L566.54,291.21 L570.53,288.70 L574.53,285.98 L578.52,283.06 L582.52,279.90 L586.51,276.51 L590.51,272.87 L594.50,268.98 L598.50,264.82 L602.49,260.39 L606.48,255.69 L610.48,250.72 L614.47,245.46 L618.47,239.94 L622.46,234.15 L626.46,228.10 L630.45,221.81 L634.45,215.29 L638.44,208.56 L642.43,201.65 L646.43,194.58 L650.42,187.38 L654.42,180.08 L658.41,172.72 L662.41,165.32 L666.40,157.92 L670.40,150.57 L674.39,143.28 L678.38,136.10 L682.38,129.05" fill="none" stroke="#F8766D" stroke-opacity="0.16" stroke-width="0.9"/>
<path d="M522.60,304.61 L526.59,303.39 L530.59,302.06 L534.58,300.62 L538.58,299.07 L542.57,297.39 L546.57,295.57 L550.56,293.62 L554.56,291.51 L558.55,289.24 L562.54,286.81 L566.54,284.19 L570.53,281.39 L574.53,278.40 L578.52,275.20 L582.52,271.79 L586.51,268.17 L590.51,264.32 L594.50,260.25 L598.50,255.95 L602.49,251.41 L606.48,246.65 L610.48,241.65 L614.47,236.43 L618.47,231.00 L622.46,225.35 L626.46,219.50 L630.45,213.47 L634.45,207.27 L638.44,200.91 L642.43,194.43 L646.43,187.84 L650.42,181.16 L654.42,174.43 L658.41,167.66 L662.41,160.88 L666.40,154.12 L670.40,147.41 L674.39,140.77 L678.38,134.23 L682.38,127.81" fill="none" stroke="#F8766D" stroke-opacity="0.16" stroke-width="0.9"/>
<path d="M522.60,310.50 L526.59,309.62 L530.59,308.65 L534.58,307.57 L538.58,306.38 L542.57,305.06 L546.57,303.61 L550.56,302.02 L554.56,300.26 L558.55,298.33 L562.54,296.20 L566.54,293.88 L570.53,291.33 L574.53,288.56 L578.52,285.53 L582.52,282.23 L586.51,278.65 L590.51,274.78 L594.50,270.60 L598.50,266.10 L602.49,261.27 L606.48,256.10 L610.48,250.60 L614.47,244.76 L618.47,238.58 L622.46,232.08 L626.46,225.27 L630.45,218.17 L634.45,210.81 L638.44,203.21 L642.43,195.40 L646.43,187.44 L650.42,179.35 L654.42,171.18 L658.41,162.98 L662.41,154.80 L666.40,146.69 L670.40,138.68 L674.39,130.83 L678.38,123.16 L682.38,115.73" fill="none" stroke="#F8766D" stroke-opacity="0.16" stroke-width="0.9"/>
<path d="M522.60,312.54 L526.59,311.85 L530.59,311.08 L534.58,310.22 L538.58,309.27 L542.57,308.21 L546.57,307.03 L550.56,305.73 L554.56,304.28 L558.55,302.68 L562.54,300.91 L566.54,298.95 L570.53,296.80 L574.53,294.42 L578.52,291.81 L582.52,288.95 L586.51,285.82 L590.51,282.39 L594.50,278.67 L598.50,274.62 L602.49,270.23 L606.48,265.49 L610.48,260.40 L614.47,254.93 L618.47,249.10 L622.46,242.90 L626.46,236.34 L630.45,229.43 L634.45,222.19 L638.44,214.65 L642.43,206.83 L646.43,198.77 L650.42,190.52 L654.42,182.11 L658.41,173.60 L662.41,165.05 L666.40,156.50 L670.40,148.01 L674.39,139.63 L678.38,131.41 L682.38,123.39" fill="none" stroke="#F8766D" stroke-opacity="0.16" stroke-width="0.9"/>
<path d="M522.60,316.29 L526.59,315.95 L530.59,315.57 L534.58,315.12 L538.58,314.60 L542.57,314.01 L546.57,313.33 L550.56,312.55 L554.56,311.66 L558.55,310.63 L562.54,309.46 L566.54,308.11 L570.53,306.58 L574.53,304.82 L578.52,302.83 L582.52,300.55 L586.51,297.98 L590.51,295.06 L594.50,291.77 L598.50,288.06 L602.49,283.91 L606.48,279.27 L610.48,274.11 L614.47,268.39 L618.47,262.10 L622.46,255.22 L626.46,247.74 L630.45,239.66 L634.45,231.00 L638.44,221.79 L642.43,212.10 L646.43,201.97 L650.42,191.49 L654.42,180.77 L658.41,169.89 L662.41,158.96 L666.40,148.12 L670.40,137.44 L674.39,127.05 L678.38,117.04 L682.38,107.47" fill="none" stroke="#F8766D" stroke-opacity="0.16" stroke-width="0.9"/>
<path d="M522.60,299.46 L526.59,297.93 L530.59,296.29 L534.58,294.53 L538.58,292.64 L542.57,290.62 L546.57,288.45 L550.56,286.14 L554.56,283.67 L558.55,281.04 L562.54,278.24 L566.54,275.27 L570.53,272.11 L574.53,268.77 L578.52,265.23 L582.52,261.50 L586.51,257.58 L590.51,253.45 L594.50,249.12 L598.50,244.60 L602.49,239.87 L606.48,234.96 L610.48,229.85 L614.47,224.57 L618.47,219.11 L622.46,213.50 L626.46,207.74 L630.45,201.85 L634.45,195.84 L638.44,189.74 L642.43,183.55 L646.43,177.31 L650.42,171.03 L654.42,164.73 L658.41,158.43 L662.41,152.16 L666.40,145.94 L670.40,139.78 L674.39,133.71 L678.38,127.75 L682.38,121.90" fill="none" stroke="#F8766D" stroke-opacity="0.16" stroke-width="0.9"/>
<path d="M522.60,307.81 L526.59,306.81 L530.59,305.72 L534.58,304.53 L538.58,303.24 L542.57,301.83 L546.57,300.31 L550.56,298.65 L554.56,296.86 L558.55,294.91 L562.54,292.81 L566.54,290.54 L570.53,288.09 L574.53,285.45 L578.52,282.61 L582.52,279.56 L586.51,276.30 L590.51,272.80 L594.50,269.08 L598.50,265.11 L602.49,260.89 L606.48,256.42 L610.48,251.70 L614.47,246.73 L618.47,241.50 L622.46,236.03 L626.46,230.33 L630.45,224.39 L634.45,218.24 L638.44,211.89 L642.43,205.36 L646.43,198.67 L650.42,191.84 L654.42,184.91 L658.41,177.90 L662.41,170.83 L666.40,163.75 L670.40,156.67 L674.39,149.63 L678.38,142.66 L682.38,135.79" fill="none" stroke="#F8766D" stroke-opacity="0.16" stroke-width="0.9"/>
<path d="M522.60,302.99 L526.59,301.69 L530.59,300.29 L534.58,298.79 L538.58,297.16 L542.57,295.42 L546.57,293.54 L550.56,291.52 L554.56,289.36 L558.55,287.05 L562.54,284.57 L566.54,281.93 L570.53,279.11 L574.53,276.10 L578.52,272.91 L582.52,269.52 L586.51,265.93 L590.51,262.13 L594.50,258.13 L598.50,253.92 L602.49,249.49 L606.48,244.85 L610.48,240.01 L614.47,234.96 L618.47,229.71 L622.46,224.28 L626.46,218.66 L630.45,212.88 L634.45,206.95 L638.44,200.88 L642.43,194.69 L646.43,188.40 L650.42,182.03 L654.42,175.60 L658.41,169.14 L662.41,162.66 L666.40,156.20 L670.40,149.78 L674.39,143.41 L678.38,137.12 L682.38,130.93" fill="none" stroke="#F8766D" stroke-opacity="0.16" stroke-width="0.9"/>
<path d="M522.60,288.91 L526.59,287.12 L530.59,285.23 L534.58,283.25 L538.58,281.16 L542.57,278.97 L546.57,276.67 L550.56,274.26 L554.56,271.73 L558.55,269.08 L562.54,266.32 L566.54,263.44 L570.53,260.43 L574.53,257.30 L578.52,254.04 L582.52,250.66 L586.51,247.15 L590.51,243.52 L594.50,239.77 L598.50,235.89 L602.49,231.90 L606.48,227.80 L610.48,223.58 L614.47,219.26 L618.47,214.84 L622.46,210.32 L626.46,205.72 L630.45,201.04 L634.45,196.29 L638.44,191.48 L642.43,186.61 L646.43,181.71 L650.42,176.76 L654.42,171.80 L658.41,166.82 L662.41,161.84 L666.40,156.87 L670.40,151.92 L674.39,146.99 L678.38,142.11 L682.38,137.28" fill="none" stroke="#F8766D" stroke-opacity="0.16" stroke-width="0.9"/>
<path d="M522.60,309.76 L526.59,308.84 L530.59,307.83 L534.58,306.71 L538.58,305.49 L542.57,304.14 L546.57,302.66 L550.56,301.04 L554.56,299.26 L558.55,297.32 L562.54,295.19 L566.54,292.87 L570.53,290.35 L574.53,287.60 L578.52,284.61 L582.52,281.38 L586.51,277.88 L590.51,274.11 L594.50,270.06 L598.50,265.71 L602.49,261.05 L606.48,256.09 L610.48,250.81 L614.47,245.22 L618.47,239.33 L622.46,233.13 L626.46,226.65 L630.45,219.90 L634.45,212.89 L638.44,205.66 L642.43,198.23 L646.43,190.64 L650.42,182.92 L654.42,175.12 L658.41,167.26 L662.41,159.40 L666.40,151.57 L670.40,143.81 L674.39,136.17 L678.38,128.68 L682.38,121.38" fill="none" stroke="#F8766D" stroke-opacity="0.16" stroke-width="0.9"/>
<path d="M522.60,302.52 L526.59,301.22 L530.59,299.83 L534.58,298.33 L538.58,296.72 L542.57,294.99 L546.57,293.13 L550.56,291.15 L554.56,289.02 L558.55,286.75 L562.54,284.32 L566.54,281.74 L570.53,278.99 L574.53,276.06 L578.52,272.96 L582.52,269.67 L586.51,266.19 L590.51,262.51 L594.50,258.64 L598.50,254.57 L602.49,250.30 L606.48,245.83 L610.48,241.17 L614.47,236.31 L618.47,231.26 L622.46,226.03 L626.46,220.63 L630.45,215.07 L634.45,209.35 L638.44,203.50 L642.43,197.53 L646.43,191.46 L650.42,185.30 L654.42,179.08 L658.41,172.81 L662.41,166.52 L666.40,160.23 L670.40,153.96 L674.39,147.72 L678.38,141.55 L682.38,135.46" fill="none" stroke="#F8766D" stroke-opacity="0.16" stroke-width="0.9"/>
<path d="M522.60,307.17 L526.59,306.03 L530.59,304.77 L534.58,303.39 L538.58,301.89 L542.57,300.24 L546.57,298.44 L550.56,296.48 L554.56,294.34 L558.55,292.02 L562.54,289.49 L566.54,286.75 L570.53,283.78 L574.53,280.58 L578.52,277.12 L582.52,273.40 L586.51,269.41 L590.51,265.14 L594.50,260.58 L598.50,255.73 L602.49,250.59 L606.48,245.15 L610.48,239.42 L614.47,233.41 L618.47,227.12 L622.46,220.58 L626.46,213.80 L630.45,206.80 L634.45,199.61 L638.44,192.26 L642.43,184.78 L646.43,177.21 L650.42,169.58 L654.42,161.94 L658.41,154.31 L662.41,146.74 L666.40,139.27 L670.40,131.93 L674.39,124.74 L678.38,117.75 L682.38,110.98" fill="none" stroke="#F8766D" stroke-opacity="0.16" stroke-width="0.9"/>
<path d="M522.60,316.97 L526.59,316.72 L530.59,316.42 L534.58,316.08 L538.58,315.68 L542.57,315.22 L546.57,314.68 L550.56,314.05 L554.56,313.33 L558.55,312.49 L562.54,311.51 L566.54,310.38 L570.53,309.07 L574.53,307.57 L578.52,305.82 L582.52,303.82 L586.51,301.52 L590.51,298.88 L594.50,295.86 L598.50,292.43 L602.49,288.52 L606.48,284.11 L610.48,279.13 L614.47,273.56 L618.47,267.34 L622.46,260.46 L626.46,252.90 L630.45,244.64 L634.45,235.70 L638.44,226.12 L642.43,215.93 L646.43,205.22 L650.42,194.08 L654.42,182.62 L658.41,170.96 L662.41,159.25 L666.40,147.61 L670.40,136.18 L674.39,125.09 L678.38,114.45 L682.38,104.34" fill="none" stroke="#F8766D" stroke-opacity="0.16" stroke-width="0.9"/>
<path d="M522.60,298.46 L526.59,296.91 L530.59,295.27 L534.58,293.50 L538.58,291.62 L542.57,289.61 L546.57,287.46 L550.56,285.17 L554.56,282.74 L558.55,280.15 L562.54,277.41 L566.54,274.50 L570.53,271.43 L574.53,268.18 L578.52,264.75 L582.52,261.14 L586.51,257.35 L590.51,253.37 L594.50,249.21 L598.50,244.86 L602.49,240.33 L606.48,235.62 L610.48,230.74 L614.47,225.69 L618.47,220.48 L622.46,215.12 L626.46,209.62 L630.45,204.00 L634.45,198.26 L638.44,192.43 L642.43,186.51 L646.43,180.53 L650.42,174.51 L654.42,168.45 L658.41,162.39 L662.41,156.34 L666.40,150.32 L670.40,144.35 L674.39,138.45 L678.38,132.63 L682.38,126.91" fill="none" stroke="#F8766D" stroke-opacity="0.16" stroke-width="0.9"/>
<path d="M581.80,290.62 L585.65,288.63 L589.50,286.50 L593.35,284.25 L597.20,281.86 L601.06,279.33 L604.91,276.64 L608.76,273.81 L612.61,270.82 L616.46,267.67 L620.31,264.35 L624.16,260.86 L628.01,257.21 L631.86,253.38 L635.71,249.39 L639.57,245.22 L643.42,240.89 L647.27,236.38 L651.12,231.72 L654.97,226.90 L658.82,221.94 L662.67,216.83 L666.52,211.59 L670.37,206.23 L674.23,200.75 L678.08,195.19 L681.93,189.54 L685.78,183.82 L689.63,178.05 L693.48,172.25 L697.33,166.43 L701.18,160.61 L705.03,154.80 L708.88,149.02 L712.74,143.30 L716.59,137.63 L720.44,132.05 L724.29,126.56 L728.14,121.18 L731.99,115.91 L735.84,110.78" fill="none" stroke="#7CAE00" stroke-opacity="0.17" stroke-width="0.9"/>
<path d="M581.80,294.96 L585.65,292.85 L589.50,290.58 L593.35,288.13 L597.20,285.50 L601.06,282.66 L604.91,279.61 L608.76,276.34 L612.61,272.85 L616.46,269.12 L620.31,265.15 L624.16,260.93 L628.01,256.46 L631.86,251.74 L635.71,246.76 L639.57,241.54 L643.42,236.06 L647.27,230.35 L651.12,224.41 L654.97,218.25 L658.82,211.90 L662.67,205.36 L666.52,198.66 L670.37,191.83 L674.23,184.89 L678.08,177.87 L681.93,170.80 L685.78,163.71 L689.63,156.62 L693.48,149.58 L697.33,142.61 L701.18,135.73 L705.03,128.98 L708.88,122.38 L712.74,115.95 L716.59,109.72 L720.44,103.69 L724.29,97.89 L728.14,92.32 L731.99,87.00 L735.84,81.93" fill="none" stroke="#7CAE00" stroke-opacity="0.17" stroke-width="0.9"/>
<path d="M581.80,297.54 L585.65,295.95 L589.50,294.26 L593.35,292.45 L597.20,290.51 L601.06,288.45 L604.91,286.26 L608.76,283.92 L612.61,281.44 L616.46,278.81 L620.31,276.02 L624.16,273.07 L628.01,269.95 L631.86,266.66 L635.71,263.19 L639.57,259.55 L643.42,255.73 L647.27,251.72 L651.12,247.54 L654.97,243.17 L658.82,238.63 L662.67,233.92 L666.52,229.04 L670.37,224.00 L674.23,218.80 L678.08,213.46 L681.93,207.99 L685.78,202.40 L689.63,196.70 L693.48,190.92 L697.33,185.05 L701.18,179.13 L705.03,173.17 L708.88,167.19 L712.74,161.20 L716.59,155.23 L720.44,149.29 L724.29,143.40 L728.14,137.58 L731.99,131.84 L735.84,126.20" fill="none" stroke="#7CAE00" stroke-opacity="0.17" stroke-width="0.9"/>
<path d="M581.80,306.20 L585.65,305.08 L589.50,303.87 L593.35,302.55 L597.20,301.12 L601.06,299.56 L604.91,297.88 L608.76,296.07 L612.61,294.10 L616.46,291.98 L620.31,289.69 L624.16,287.23 L628.01,284.59 L631.86,281.75 L635.71,278.70 L639.57,275.45 L643.42,271.98 L647.27,268.28 L651.12,264.34 L654.97,260.18 L658.82,255.76 L662.67,251.11 L666.52,246.22 L670.37,241.08 L674.23,235.71 L678.08,230.11 L681.93,224.29 L685.78,218.27 L689.63,212.06 L693.48,205.67 L697.33,199.13 L701.18,192.46 L705.03,185.69 L708.88,178.83 L712.74,171.92 L716.59,164.98 L720.44,158.05 L724.29,151.15 L728.14,144.32 L731.99,137.56 L735.84,130.93" fill="none" stroke="#7CAE00" stroke-opacity="0.17" stroke-width="0.9"/>
<path d="M581.80,269.26 L585.65,266.88 L589.50,264.41 L593.35,261.85 L597.20,259.20 L601.06,256.46 L604.91,253.62 L608.76,250.69 L612.61,247.67 L616.46,244.55 L620.31,241.34 L624.16,238.04 L628.01,234.65 L631.86,231.18 L635.71,227.62 L639.57,223.97 L643.42,220.25 L647.27,216.45 L651.12,212.58 L654.97,208.65 L658.82,204.65 L662.67,200.59 L666.52,196.48 L670.37,192.32 L674.23,188.13 L678.08,183.89 L681.93,179.63 L685.78,175.35 L689.63,171.05 L693.48,166.75 L697.33,162.44 L701.18,158.14 L705.03,153.85 L708.88,149.58 L712.74,145.34 L716.59,141.13 L720.44,136.95 L724.29,132.83 L728.14,128.75 L731.99,124.72 L735.84,120.76" fill="none" stroke="#7CAE00" stroke-opacity="0.17" stroke-width="0.9"/>
<path d="M581.80,293.31 L585.65,291.52 L589.50,289.63 L593.35,287.61 L597.20,285.47 L601.06,283.20 L604.91,280.80 L608.76,278.26 L612.61,275.57 L616.46,272.74 L620.31,269.76 L624.16,266.61 L628.01,263.31 L631.86,259.85 L635.71,256.22 L639.57,252.44 L643.42,248.48 L647.27,244.37 L651.12,240.09 L654.97,235.65 L658.82,231.06 L662.67,226.32 L666.52,221.44 L670.37,216.42 L674.23,211.28 L678.08,206.02 L681.93,200.66 L685.78,195.21 L689.63,189.67 L693.48,184.07 L697.33,178.43 L701.18,172.74 L705.03,167.04 L708.88,161.34 L712.74,155.64 L716.59,149.98 L720.44,144.36 L724.29,138.80 L728.14,133.31 L731.99,127.91 L735.84,122.61" fill="none" stroke="#7CAE00" stroke-opacity="0.17" stroke-width="0.9"/>
<path d="M581.80,284.41 L585.65,281.46 L589.50,278.28 L593.35,274.88 L597.20,271.25 L601.06,267.36 L604.91,263.23 L608.76,258.85 L612.61,254.20 L616.46,249.29 L620.31,244.13 L624.16,238.71 L628.01,233.04 L631.86,227.13 L635.71,221.00 L639.57,214.65 L643.42,208.11 L647.27,201.39 L651.12,194.53 L654.97,187.55 L658.82,180.47 L662.67,173.33 L666.52,166.15 L670.37,158.98 L674.23,151.83 L678.08,144.75 L681.93,137.76 L685.78,130.89 L689.63,124.16 L693.48,117.61 L697.33,111.25 L701.18,105.10 L705.03,99.17 L708.88,93.49 L712.74,88.05 L716.59,82.86 L720.44,77.94 L724.29,73.28 L728.14,68.87 L731.99,64.72 L735.84,60.82" fill="none" stroke="#7CAE00" stroke-opacity="0.17" stroke-width="0.9"/>
<path d="M581.80,293.80 L585.65,291.58 L589.50,289.18 L593.35,286.59 L597.20,283.81 L601.06,280.81 L604.91,277.59 L608.76,274.14 L612.61,270.45 L616.46,266.52 L620.31,262.34 L624.16,257.90 L628.01,253.20 L631.86,248.24 L635.71,243.02 L639.57,237.55 L643.42,231.84 L647.27,225.88 L651.12,219.71 L654.97,213.32 L658.82,206.75 L662.67,200.00 L666.52,193.12 L670.37,186.11 L674.23,179.02 L678.08,171.88 L681.93,164.70 L685.78,157.53 L689.63,150.40 L693.48,143.34 L697.33,136.37 L701.18,129.53 L705.03,122.84 L708.88,116.33 L712.74,110.01 L716.59,103.90 L720.44,98.03 L724.29,92.39 L728.14,87.01 L731.99,81.88 L735.84,77.01" fill="none" stroke="#7CAE00" stroke-opacity="0.17" stroke-width="0.9"/>
<path d="M581.80,290.09 L585.65,287.73 L589.50,285.19 L593.35,282.46 L597.20,279.55 L601.06,276.44 L604.91,273.12 L608.76,269.59 L612.61,265.84 L616.46,261.87 L620.31,257.67 L624.16,253.24 L628.01,248.58 L631.86,243.69 L635.71,238.58 L639.57,233.24 L643.42,227.69 L647.27,221.94 L651.12,216.00 L654.97,209.88 L658.82,203.61 L662.67,197.20 L666.52,190.66 L670.37,184.04 L674.23,177.34 L678.08,170.60 L681.93,163.85 L685.78,157.10 L689.63,150.38 L693.48,143.72 L697.33,137.15 L701.18,130.69 L705.03,124.36 L708.88,118.18 L712.74,112.17 L716.59,106.34 L720.44,100.71 L724.29,95.29 L728.14,90.09 L731.99,85.11 L735.84,80.36" fill="none" stroke="#7CAE00" stroke-opacity="0.17" stroke-width="0.9"/>
<path d="M581.80,300.61 L585.65,299.18 L589.50,297.65 L593.35,296.00 L597.20,294.24 L601.06,292.35 L604.91,290.32 L608.76,288.16 L612.61,285.86 L616.46,283.39 L620.31,280.77 L624.16,277.99 L628.01,275.03 L631.86,271.89 L635.71,268.57 L639.57,265.06 L643.42,261.36 L647.27,257.46 L651.12,253.37 L654.97,249.09 L658.82,244.60 L662.67,239.93 L666.52,235.06 L670.37,230.02 L674.23,224.79 L678.08,219.40 L681.93,213.86 L685.78,208.16 L689.63,202.34 L693.48,196.40 L697.33,190.37 L701.18,184.25 L705.03,178.08 L708.88,171.86 L712.74,165.63 L716.59,159.40 L720.44,153.18 L724.29,147.01 L728.14,140.90 L731.99,134.88 L735.84,128.95" fill="none" stroke="#7CAE00" stroke-opacity="0.17" stroke-width="0.9"/>
<path d="M581.80,292.85 L585.65,290.97 L589.50,288.97 L593.35,286.84 L597.20,284.58 L601.06,282.18 L604.91,279.63 L608.76,276.92 L612.61,274.07 L616.46,271.05 L620.31,267.86 L624.16,264.51 L628.01,260.99 L631.86,257.29 L635.71,253.41 L639.57,249.36 L643.42,245.14 L647.27,240.74 L651.12,236.17 L654.97,231.44 L658.82,226.55 L662.67,221.50 L666.52,216.31 L670.37,210.98 L674.23,205.54 L678.08,199.98 L681.93,194.32 L685.78,188.59 L689.63,182.78 L693.48,176.93 L697.33,171.04 L701.18,165.14 L705.03,159.24 L708.88,153.36 L712.74,147.52 L716.59,141.73 L720.44,136.01 L724.29,130.38 L728.14,124.85 L731.99,119.43 L735.84,114.14" fill="none" stroke="#7CAE00" stroke-opacity="0.17" stroke-width="0.9"/>
<path d="M581.80,300.48 L585.65,298.89 L589.50,297.17 L593.35,295.31 L597.20,293.31 L601.06,291.14 L604.91,288.81 L608.76,286.31 L612.61,283.62 L616.46,280.74 L620.31,277.65 L624.16,274.36 L628.01,270.84 L631.86,267.10 L635.71,263.14 L639.57,258.93 L643.42,254.49 L647.27,249.81 L651.12,244.90 L654.97,239.75 L658.82,234.37 L662.67,228.77 L666.52,222.95 L670.37,216.94 L674.23,210.74 L678.08,204.38 L681.93,197.87 L685.78,191.23 L689.63,184.50 L693.48,177.69 L697.33,170.84 L701.18,163.96 L705.03,157.10 L708.88,150.26 L712.74,143.49 L716.59,136.81 L720.44,130.25 L724.29,123.82 L728.14,117.55 L731.99,111.45 L735.84,105.55" fill="none" stroke="#7CAE00" stroke-opacity="0.17" stroke-width="0.9"/>
<path d="M581.80,299.93 L585.65,298.52 L589.50,297.01 L593.35,295.39 L597.20,293.66 L601.06,291.82 L604.91,289.86 L608.76,287.76 L612.61,285.53 L616.46,283.16 L620.31,280.64 L624.16,277.97 L628.01,275.14 L631.86,272.15 L635.71,268.99 L639.57,265.66 L643.42,262.16 L647.27,258.48 L651.12,254.62 L654.97,250.58 L658.82,246.36 L662.67,241.97 L666.52,237.40 L670.37,232.65 L674.23,227.75 L678.08,222.69 L681.93,217.47 L685.78,212.12 L689.63,206.64 L693.48,201.04 L697.33,195.34 L701.18,189.56 L705.03,183.70 L708.88,177.79 L712.74,171.85 L716.59,165.89 L720.44,159.92 L724.29,153.98 L728.14,148.07 L731.99,142.21 L735.84,136.43" fill="none" stroke="#7CAE00" stroke-opacity="0.17" stroke-width="0.9"/>
<path d="M581.80,300.12 L585.65,298.44 L589.50,296.61 L593.35,294.63 L597.20,292.49 L601.06,290.18 L604.91,287.69 L608.76,285.00 L612.61,282.10 L616.46,279.00 L620.31,275.67 L624.16,272.11 L628.01,268.31 L631.86,264.26 L635.71,259.96 L639.57,255.41 L643.42,250.60 L647.27,245.54 L651.12,240.22 L654.97,234.65 L658.82,228.85 L662.67,222.82 L666.52,216.57 L670.37,210.12 L674.23,203.50 L678.08,196.73 L681.93,189.82 L685.78,182.82 L689.63,175.74 L693.48,168.61 L697.33,161.48 L701.18,154.36 L705.03,147.30 L708.88,140.32 L712.74,133.44 L716.59,126.70 L720.44,120.12 L724.29,113.72 L728.14,107.52 L731.99,101.54 L735.84,95.79" fill="none" stroke="#7CAE00" stroke-opacity="0.17" stroke-width="0.9"/>
<path d="M581.80,305.52 L585.65,304.00 L589.50,302.30 L593.35,300.42 L597.20,298.34 L601.06,296.03 L604.91,293.49 L608.76,290.68 L612.61,287.60 L616.46,284.21 L620.31,280.50 L624.16,276.46 L628.01,272.06 L631.86,267.29 L635.71,262.14 L639.57,256.59 L643.42,250.65 L647.27,244.31 L651.12,237.58 L654.97,230.47 L658.82,223.00 L662.67,215.20 L666.52,207.11 L670.37,198.75 L674.23,190.18 L678.08,181.46 L681.93,172.63 L685.78,163.75 L689.63,154.89 L693.48,146.10 L697.33,137.44 L701.18,128.97 L705.03,120.74 L708.88,112.78 L712.74,105.14 L716.59,97.84 L720.44,90.92 L724.29,84.37 L728.14,78.22 L731.99,72.47 L735.84,67.12" fill="none" stroke="#7CAE00" stroke-opacity="0.17" stroke-width="0.9"/>
<path d="M581.80,299.33 L585.65,297.61 L589.50,295.75 L593.35,293.75 L597.20,291.58 L601.06,289.24 L604.91,286.72 L608.76,284.02 L612.61,281.11 L616.46,277.99 L620.31,274.66 L624.16,271.11 L628.01,267.32 L631.86,263.29 L635.71,259.02 L639.57,254.50 L643.42,249.74 L647.27,244.73 L651.12,239.48 L654.97,234.00 L658.82,228.28 L662.67,222.34 L666.52,216.20 L670.37,209.87 L674.23,203.37 L678.08,196.73 L681.93,189.96 L685.78,183.09 L689.63,176.15 L693.48,169.17 L697.33,162.17 L701.18,155.19 L705.03,148.25 L708.88,141.39 L712.74,134.63 L716.59,127.99 L720.44,121.50 L724.29,115.18 L728.14,109.06 L731.99,103.14 L735.84,97.43" fill="none" stroke="#7CAE00" stroke-opacity="0.17" stroke-width="0.9"/>
<path d="M581.80,298.06 L585.65,296.46 L589.50,294.74 L593.35,292.90 L597.20,290.93 L601.06,288.82 L604.91,286.57 L608.76,284.18 L612.61,281.63 L616.46,278.91 L620.31,276.03 L624.16,272.98 L628.01,269.74 L631.86,266.32 L635.71,262.72 L639.57,258.92 L643.42,254.94 L647.27,250.75 L651.12,246.38 L654.97,241.81 L658.82,237.06 L662.67,232.12 L666.52,227.01 L670.37,221.72 L674.23,216.28 L678.08,210.69 L681.93,204.97 L685.78,199.12 L689.63,193.17 L693.48,187.14 L697.33,181.03 L701.18,174.88 L705.03,168.69 L708.88,162.50 L712.74,156.32 L716.59,150.17 L720.44,144.07 L724.29,138.04 L728.14,132.10 L731.99,126.27 L735.84,120.56" fill="none" stroke="#7CAE00" stroke-opacity="0.17" stroke-width="0.9"/>
<path d="M581.80,298.48 L585.65,296.89 L589.50,295.17 L593.35,293.34 L597.20,291.37 L601.06,289.26 L604.91,287.01 L608.76,284.60 L612.61,282.04 L616.46,279.31 L620.31,276.41 L624.16,273.33 L628.01,270.07 L631.86,266.62 L635.71,262.97 L639.57,259.13 L643.42,255.09 L647.27,250.85 L651.12,246.42 L654.97,241.78 L658.82,236.96 L662.67,231.94 L666.52,226.74 L670.37,221.37 L674.23,215.83 L678.08,210.15 L681.93,204.32 L685.78,198.38 L689.63,192.33 L693.48,186.19 L697.33,179.99 L701.18,173.73 L705.03,167.45 L708.88,161.17 L712.74,154.90 L716.59,148.67 L720.44,142.50 L724.29,136.40 L728.14,130.40 L731.99,124.52 L735.84,118.76" fill="none" stroke="#7CAE00" stroke-opacity="0.17" stroke-width="0.9"/>
<path d="M581.80,293.01 L585.65,290.89 L589.50,288.61 L593.35,286.16 L597.20,283.53 L601.06,280.72 L604.91,277.72 L608.76,274.53 L612.61,271.12 L616.46,267.51 L620.31,263.67 L624.16,259.62 L628.01,255.34 L631.86,250.84 L635.71,246.11 L639.57,241.15 L643.42,235.98 L647.27,230.60 L651.12,225.01 L654.97,219.23 L658.82,213.27 L662.67,207.14 L666.52,200.87 L670.37,194.48 L674.23,187.97 L678.08,181.38 L681.93,174.74 L685.78,168.06 L689.63,161.37 L693.48,154.70 L697.33,148.07 L701.18,141.51 L705.03,135.04 L708.88,128.68 L712.74,122.46 L716.59,116.39 L720.44,110.50 L724.29,104.78 L728.14,99.27 L731.99,93.96 L735.84,88.86" fill="none" stroke="#7CAE00" stroke-opacity="0.17" stroke-width="0.9"/>
<path d="M581.80,270.91 L585.65,268.21 L589.50,265.40 L593.35,262.46 L597.20,259.40 L601.06,256.22 L604.91,252.90 L608.76,249.46 L612.61,245.90 L616.46,242.21 L620.31,238.40 L624.16,234.47 L628.01,230.42 L631.86,226.25 L635.71,221.98 L639.57,217.60 L643.42,213.13 L647.27,208.56 L651.12,203.91 L654.97,199.18 L658.82,194.39 L662.67,189.53 L666.52,184.63 L670.37,179.68 L674.23,174.71 L678.08,169.72 L681.93,164.72 L685.78,159.72 L689.63,154.74 L693.48,149.78 L697.33,144.85 L701.18,139.97 L705.03,135.14 L708.88,130.37 L712.74,125.68 L716.59,121.07 L720.44,116.54 L724.29,112.11 L728.14,107.79 L731.99,103.56 L735.84,99.45" fill="none" stroke="#7CAE00" stroke-opacity="0.17" stroke-width="0.9"/>
<path d="M581.80,305.87 L585.65,304.65 L589.50,303.31 L593.35,301.86 L597.20,300.28 L601.06,298.55 L604.91,296.68 L608.76,294.64 L612.61,292.43 L616.46,290.04 L620.31,287.45 L624.16,284.65 L628.01,281.64 L631.86,278.39 L635.71,274.91 L639.57,271.18 L643.42,267.20 L647.27,262.95 L651.12,258.43 L654.97,253.64 L658.82,248.58 L662.67,243.24 L666.52,237.64 L670.37,231.78 L674.23,225.67 L678.08,219.32 L681.93,212.76 L685.78,206.00 L689.63,199.06 L693.48,191.98 L697.33,184.78 L701.18,177.50 L705.03,170.16 L708.88,162.80 L712.74,155.46 L716.59,148.16 L720.44,140.95 L724.29,133.85 L728.14,126.89 L731.99,120.10 L735.84,113.50" fill="none" stroke="#7CAE00" stroke-opacity="0.17" stroke-width="0.9"/>
<path d="M581.80,299.63 L585.65,297.79 L589.50,295.79 L593.35,293.61 L597.20,291.25 L601.06,288.68 L604.91,285.91 L608.76,282.90 L612.61,279.66 L616.46,276.17 L620.31,272.42 L624.16,268.40 L628.01,264.11 L631.86,259.53 L635.71,254.66 L639.57,249.51 L643.42,244.06 L647.27,238.34 L651.12,232.33 L654.97,226.07 L658.82,219.55 L662.67,212.80 L666.52,205.84 L670.37,198.70 L674.23,191.41 L678.08,183.99 L681.93,176.49 L685.78,168.93 L689.63,161.36 L693.48,153.81 L697.33,146.33 L701.18,138.93 L705.03,131.66 L708.88,124.56 L712.74,117.64 L716.59,110.94 L720.44,104.47 L724.29,98.25 L728.14,92.30 L731.99,86.63 L735.84,81.25" fill="none" stroke="#7CAE00" stroke-opacity="0.17" stroke-width="0.9"/>
<path d="M581.80,285.97 L585.65,283.59 L589.50,281.06 L593.35,278.37 L597.20,275.52 L601.06,272.51 L604.91,269.32 L608.76,265.96 L612.61,262.41 L616.46,258.68 L620.31,254.77 L624.16,250.68 L628.01,246.40 L631.86,241.93 L635.71,237.29 L639.57,232.47 L643.42,227.48 L647.27,222.33 L651.12,217.03 L654.97,211.58 L658.82,206.00 L662.67,200.30 L666.52,194.50 L670.37,188.62 L674.23,182.66 L678.08,176.65 L681.93,170.61 L685.78,164.55 L689.63,158.50 L693.48,152.47 L697.33,146.49 L701.18,140.56 L705.03,134.71 L708.88,128.95 L712.74,123.31 L716.59,117.78 L720.44,112.40 L724.29,107.16 L728.14,102.08 L731.99,97.17 L735.84,92.42" fill="none" stroke="#7CAE00" stroke-opacity="0.17" stroke-width="0.9"/>
<path d="M581.80,306.02 L585.65,304.90 L589.50,303.69 L593.35,302.37 L597.20,300.95 L601.06,299.40 L604.91,297.73 L608.76,295.92 L612.61,293.98 L616.46,291.88 L620.31,289.61 L624.16,287.18 L628.01,284.57 L631.86,281.76 L635.71,278.77 L639.57,275.56 L643.42,272.14 L647.27,268.50 L651.12,264.64 L654.97,260.54 L658.82,256.21 L662.67,251.65 L666.52,246.85 L670.37,241.81 L674.23,236.55 L678.08,231.06 L681.93,225.36 L685.78,219.45 L689.63,213.36 L693.48,207.09 L697.33,200.67 L701.18,194.12 L705.03,187.46 L708.88,180.71 L712.74,173.90 L716.59,167.07 L720.44,160.22 L724.29,153.40 L728.14,146.63 L731.99,139.94 L735.84,133.35" fill="none" stroke="#7CAE00" stroke-opacity="0.17" stroke-width="0.9"/>
<path d="M581.80,292.26 L585.65,290.60 L589.50,288.85 L593.35,286.99 L597.20,285.04 L601.06,282.98 L604.91,280.81 L608.76,278.52 L612.61,276.12 L616.46,273.60 L620.31,270.96 L624.16,268.19 L628.01,265.30 L631.86,262.27 L635.71,259.12 L639.57,255.83 L643.42,252.40 L647.27,248.85 L651.12,245.16 L654.97,241.34 L658.82,237.39 L662.67,233.31 L666.52,229.12 L670.37,224.80 L674.23,220.37 L678.08,215.83 L681.93,211.19 L685.78,206.45 L689.63,201.63 L693.48,196.74 L697.33,191.77 L701.18,186.75 L705.03,181.68 L708.88,176.58 L712.74,171.46 L716.59,166.32 L720.44,161.18 L724.29,156.05 L728.14,150.94 L731.99,145.87 L735.84,140.84" fill="none" stroke="#7CAE00" stroke-opacity="0.17" stroke-width="0.9"/>
<path d="M581.80,300.28 L585.65,298.62 L589.50,296.83 L593.35,294.89 L597.20,292.79 L601.06,290.52 L604.91,288.07 L608.76,285.44 L612.61,282.60 L616.46,279.56 L620.31,276.30 L624.16,272.81 L628.01,269.10 L631.86,265.14 L635.71,260.93 L639.57,256.47 L643.42,251.77 L647.27,246.81 L651.12,241.60 L654.97,236.14 L658.82,230.45 L662.67,224.53 L666.52,218.40 L670.37,212.06 L674.23,205.55 L678.08,198.88 L681.93,192.07 L685.78,185.16 L689.63,178.16 L693.48,171.11 L697.33,164.04 L701.18,156.98 L705.03,149.95 L708.88,142.99 L712.74,136.13 L716.59,129.39 L720.44,122.80 L724.29,116.38 L728.14,110.15 L731.99,104.13 L735.84,98.33" fill="none" stroke="#7CAE00" stroke-opacity="0.17" stroke-width="0.9"/>
<path d="M581.80,276.22 L585.65,274.26 L589.50,272.22 L593.35,270.11 L597.20,267.92 L601.06,265.65 L604.91,263.31 L608.76,260.88 L612.61,258.37 L616.46,255.78 L620.31,253.11 L624.16,250.35 L628.01,247.52 L631.86,244.60 L635.71,241.60 L639.57,238.52 L643.42,235.37 L647.27,232.14 L651.12,228.83 L654.97,225.45 L658.82,222.00 L662.67,218.48 L666.52,214.90 L670.37,211.26 L674.23,207.56 L678.08,203.80 L681.93,200.00 L685.78,196.15 L689.63,192.26 L693.48,188.33 L697.33,184.38 L701.18,180.39 L705.03,176.39 L708.88,172.38 L712.74,168.35 L716.59,164.32 L720.44,160.30 L724.29,156.28 L728.14,152.27 L731.99,148.29 L735.84,144.32" fill="none" stroke="#7CAE00" stroke-opacity="0.17" stroke-width="0.9"/>
<path d="M581.80,288.60 L585.65,286.43 L589.50,284.12 L593.35,281.66 L597.20,279.06 L601.06,276.30 L604.91,273.38 L608.76,270.29 L612.61,267.03 L616.46,263.61 L620.31,260.00 L624.16,256.22 L628.01,252.26 L631.86,248.12 L635.71,243.80 L639.57,239.31 L643.42,234.65 L647.27,229.82 L651.12,224.82 L654.97,219.68 L658.82,214.39 L662.67,208.97 L666.52,203.43 L670.37,197.78 L674.23,192.04 L678.08,186.22 L681.93,180.34 L685.78,174.41 L689.63,168.46 L693.48,162.51 L697.33,156.56 L701.18,150.64 L705.03,144.77 L708.88,138.96 L712.74,133.23 L716.59,127.59 L720.44,122.07 L724.29,116.66 L728.14,111.39 L731.99,106.27 L735.84,101.30" fill="none" stroke="#7CAE00" stroke-opacity="0.17" stroke-width="0.9"/>
<path d="M581.80,298.81 L585.65,297.19 L589.50,295.45 L593.35,293.57 L597.20,291.56 L601.06,289.41 L604.91,287.10 L608.76,284.63 L612.61,281.99 L616.46,279.17 L620.31,276.18 L624.16,272.99 L628.01,269.61 L631.86,266.03 L635.71,262.24 L639.57,258.25 L643.42,254.04 L647.27,249.63 L651.12,245.00 L654.97,240.17 L658.82,235.13 L662.67,229.90 L666.52,224.47 L670.37,218.87 L674.23,213.10 L678.08,207.18 L681.93,201.11 L685.78,194.93 L689.63,188.65 L693.48,182.29 L697.33,175.87 L701.18,169.42 L705.03,162.95 L708.88,156.50 L712.74,150.07 L716.59,143.71 L720.44,137.42 L724.29,131.23 L728.14,125.15 L731.99,119.22 L735.84,113.43" fill="none" stroke="#7CAE00" stroke-opacity="0.17" stroke-width="0.9"/>
<path d="M581.80,299.34 L585.65,297.47 L589.50,295.44 L593.35,293.22 L597.20,290.82 L601.06,288.21 L604.91,285.38 L608.76,282.32 L612.61,279.02 L616.46,275.47 L620.31,271.66 L624.16,267.57 L628.01,263.21 L631.86,258.55 L635.71,253.61 L639.57,248.38 L643.42,242.85 L647.27,237.05 L651.12,230.96 L654.97,224.62 L658.82,218.02 L662.67,211.20 L666.52,204.18 L670.37,196.97 L674.23,189.62 L678.08,182.15 L681.93,174.61 L685.78,167.02 L689.63,159.42 L693.48,151.86 L697.33,144.37 L701.18,136.98 L705.03,129.73 L708.88,122.65 L712.74,115.76 L716.59,109.10 L720.44,102.68 L724.29,96.52 L728.14,90.63 L731.99,85.02 L735.84,79.70" fill="none" stroke="#7CAE00" stroke-opacity="0.17" stroke-width="0.9"/>
<path d="M581.80,307.65 L585.65,306.62 L589.50,305.49 L593.35,304.26 L597.20,302.92 L601.06,301.45 L604.91,299.86 L608.76,298.14 L612.61,296.26 L616.46,294.23 L620.31,292.02 L624.16,289.64 L628.01,287.07 L631.86,284.30 L635.71,281.32 L639.57,278.11 L643.42,274.68 L647.27,271.00 L651.12,267.08 L654.97,262.90 L658.82,258.46 L662.67,253.77 L666.52,248.80 L670.37,243.58 L674.23,238.10 L678.08,232.37 L681.93,226.39 L685.78,220.19 L689.63,213.77 L693.48,207.17 L697.33,200.39 L701.18,193.46 L705.03,186.42 L708.88,179.28 L712.74,172.09 L716.59,164.86 L720.44,157.65 L724.29,150.46 L728.14,143.35 L731.99,136.34 L735.84,129.45" fill="none" stroke="#7CAE00" stroke-opacity="0.17" stroke-width="0.9"/>
<path d="M581.80,303.21 L585.65,301.70 L589.50,300.06 L593.35,298.27 L597.20,296.32 L601.06,294.19 L604.91,291.89 L608.76,289.38 L612.61,286.67 L616.46,283.73 L620.31,280.57 L624.16,277.15 L628.01,273.49 L631.86,269.56 L635.71,265.35 L639.57,260.87 L643.42,256.10 L647.27,251.04 L651.12,245.70 L654.97,240.07 L658.82,234.17 L662.67,227.99 L666.52,221.57 L670.37,214.91 L674.23,208.03 L678.08,200.97 L681.93,193.74 L685.78,186.38 L689.63,178.92 L693.48,171.40 L697.33,163.85 L701.18,156.31 L705.03,148.82 L708.88,141.41 L712.74,134.12 L716.59,126.97 L720.44,120.01 L724.29,113.25 L728.14,106.71 L731.99,100.42 L735.84,94.39" fill="none" stroke="#7CAE00" stroke-opacity="0.17" stroke-width="0.9"/>
<path d="M581.80,291.13 L585.65,289.35 L589.50,287.47 L593.35,285.48 L597.20,283.39 L601.06,281.17 L604.91,278.84 L608.76,276.39 L612.61,273.80 L616.46,271.09 L620.31,268.25 L624.16,265.27 L628.01,262.15 L631.86,258.89 L635.71,255.50 L639.57,251.96 L643.42,248.28 L647.27,244.46 L651.12,240.50 L654.97,236.41 L658.82,232.18 L662.67,227.82 L666.52,223.34 L670.37,218.74 L674.23,214.03 L678.08,209.21 L681.93,204.30 L685.78,199.30 L689.63,194.23 L693.48,189.08 L697.33,183.89 L701.18,178.65 L705.03,173.38 L708.88,168.10 L712.74,162.81 L716.59,157.52 L720.44,152.26 L724.29,147.03 L728.14,141.84 L731.99,136.71 L735.84,131.65" fill="none" stroke="#7CAE00" stroke-opacity="0.17" stroke-width="0.9"/>
<path d="M581.80,294.96 L585.65,293.14 L589.50,291.20 L593.35,289.11 L597.20,286.89 L601.06,284.53 L604.91,282.00 L608.76,279.32 L612.61,276.47 L616.46,273.45 L620.31,270.26 L624.16,266.88 L628.01,263.31 L631.86,259.56 L635.71,255.61 L639.57,251.48 L643.42,247.15 L647.27,242.63 L651.12,237.92 L654.97,233.03 L658.82,227.96 L662.67,222.72 L666.52,217.32 L670.37,211.78 L674.23,206.09 L678.08,200.29 L681.93,194.38 L685.78,188.37 L689.63,182.30 L693.48,176.17 L697.33,170.01 L701.18,163.83 L705.03,157.67 L708.88,151.53 L712.74,145.43 L716.59,139.40 L720.44,133.46 L724.29,127.62 L728.14,121.89 L731.99,116.30 L735.84,110.85" fill="none" stroke="#7CAE00" stroke-opacity="0.17" stroke-width="0.9"/>
<path d="M581.80,302.67 L585.65,301.12 L589.50,299.43 L593.35,297.59 L597.20,295.59 L601.06,293.41 L604.91,291.05 L608.76,288.48 L612.61,285.71 L616.46,282.71 L620.31,279.47 L624.16,275.99 L628.01,272.25 L631.86,268.25 L635.71,263.98 L639.57,259.42 L643.42,254.58 L647.27,249.46 L651.12,244.05 L654.97,238.36 L658.82,232.40 L662.67,226.18 L666.52,219.71 L670.37,213.01 L674.23,206.10 L678.08,199.02 L681.93,191.78 L685.78,184.42 L689.63,176.97 L693.48,169.46 L697.33,161.94 L701.18,154.44 L705.03,146.99 L708.88,139.64 L712.74,132.41 L716.59,125.33 L720.44,118.43 L724.29,111.75 L728.14,105.29 L731.99,99.08 L735.84,93.14" fill="none" stroke="#7CAE00" stroke-opacity="0.17" stroke-width="0.9"/>
<path d="M581.80,274.62 L585.65,272.53 L589.50,270.37 L593.35,268.12 L597.20,265.79 L601.06,263.38 L604.91,260.88 L608.76,258.29 L612.61,255.62 L616.46,252.86 L620.31,250.02 L624.16,247.08 L628.01,244.06 L631.86,240.96 L635.71,237.77 L639.57,234.50 L643.42,231.15 L647.27,227.72 L651.12,224.21 L654.97,220.63 L658.82,216.98 L662.67,213.26 L666.52,209.48 L670.37,205.64 L674.23,201.74 L678.08,197.80 L681.93,193.81 L685.78,189.78 L689.63,185.71 L693.48,181.62 L697.33,177.50 L701.18,173.37 L705.03,169.22 L708.88,165.07 L712.74,160.93 L716.59,156.78 L720.44,152.66 L724.29,148.55 L728.14,144.47 L731.99,140.41 L735.84,136.40" fill="none" stroke="#7CAE00" stroke-opacity="0.17" stroke-width="0.9"/>
<path d="M581.80,292.56 L585.65,290.50 L589.50,288.30 L593.35,285.95 L597.20,283.43 L601.06,280.75 L604.91,277.90 L608.76,274.86 L612.61,271.64 L616.46,268.22 L620.31,264.61 L624.16,260.80 L628.01,256.78 L631.86,252.56 L635.71,248.13 L639.57,243.50 L643.42,238.67 L647.27,233.64 L651.12,228.42 L654.97,223.02 L658.82,217.44 L662.67,211.71 L666.52,205.83 L670.37,199.82 L674.23,193.70 L678.08,187.49 L681.93,181.20 L685.78,174.86 L689.63,168.48 L693.48,162.10 L697.33,155.73 L701.18,149.40 L705.03,143.12 L708.88,136.92 L712.74,130.82 L716.59,124.84 L720.44,118.98 L724.29,113.28 L728.14,107.74 L731.99,102.37 L735.84,97.19" fill="none" stroke="#7CAE00" stroke-opacity="0.17" stroke-width="0.9"/>
<path d="M581.80,297.46 L585.65,295.85 L589.50,294.13 L593.35,292.30 L597.20,290.34 L601.06,288.24 L604.91,286.01 L608.76,283.64 L612.61,281.12 L616.46,278.44 L620.31,275.60 L624.16,272.59 L628.01,269.41 L631.86,266.06 L635.71,262.53 L639.57,258.81 L643.42,254.92 L647.27,250.83 L651.12,246.57 L654.97,242.12 L658.82,237.49 L662.67,232.69 L666.52,227.72 L670.37,222.58 L674.23,217.29 L678.08,211.86 L681.93,206.30 L685.78,200.62 L689.63,194.84 L693.48,188.97 L697.33,183.02 L701.18,177.03 L705.03,171.00 L708.88,164.95 L712.74,158.91 L716.59,152.89 L720.44,146.91 L724.29,140.99 L728.14,135.14 L731.99,129.39 L735.84,123.75" fill="none" stroke="#7CAE00" stroke-opacity="0.17" stroke-width="0.9"/>
<path d="M581.80,300.41 L585.65,298.99 L589.50,297.47 L593.35,295.84 L597.20,294.09 L601.06,292.22 L604.91,290.22 L608.76,288.09 L612.61,285.82 L616.46,283.39 L620.31,280.82 L624.16,278.08 L628.01,275.17 L631.86,272.09 L635.71,268.84 L639.57,265.40 L643.42,261.78 L647.27,257.97 L651.12,253.97 L654.97,249.78 L658.82,245.41 L662.67,240.84 L666.52,236.09 L670.37,231.16 L674.23,226.06 L678.08,220.80 L681.93,215.38 L685.78,209.82 L689.63,204.12 L693.48,198.31 L697.33,192.40 L701.18,186.41 L705.03,180.36 L708.88,174.25 L712.74,168.12 L716.59,161.98 L720.44,155.86 L724.29,149.77 L728.14,143.73 L731.99,137.76 L735.84,131.87" fill="none" stroke="#7CAE00" stroke-opacity="0.17" stroke-width="0.9"/>
<path d="M581.80,297.99 L585.65,296.43 L589.50,294.77 L593.35,292.99 L597.20,291.09 L601.06,289.07 L604.91,286.91 L608.76,284.62 L612.61,282.18 L616.46,279.59 L620.31,276.84 L624.16,273.94 L628.01,270.86 L631.86,267.62 L635.71,264.20 L639.57,260.60 L643.42,256.83 L647.27,252.87 L651.12,248.73 L654.97,244.42 L658.82,239.92 L662.67,235.25 L666.52,230.41 L670.37,225.41 L674.23,220.25 L678.08,214.94 L681.93,209.50 L685.78,203.94 L689.63,198.26 L693.48,192.49 L697.33,186.64 L701.18,180.73 L705.03,174.77 L708.88,168.79 L712.74,162.80 L716.59,156.81 L720.44,150.86 L724.29,144.95 L728.14,139.10 L731.99,133.33 L735.84,127.66" fill="none" stroke="#7CAE00" stroke-opacity="0.17" stroke-width="0.9"/>
<path d="M581.80,309.60 L585.65,308.70 L589.50,307.71 L593.35,306.63 L597.20,305.44 L601.06,304.14 L604.91,302.71 L608.76,301.15 L612.61,299.45 L616.46,297.60 L620.31,295.57 L624.16,293.37 L628.01,290.98 L631.86,288.39 L635.71,285.57 L639.57,282.54 L643.42,279.26 L647.27,275.73 L651.12,271.94 L654.97,267.87 L658.82,263.53 L662.67,258.90 L666.52,253.99 L670.37,248.78 L674.23,243.28 L678.08,237.50 L681.93,231.45 L685.78,225.13 L689.63,218.56 L693.48,211.76 L697.33,204.75 L701.18,197.57 L705.03,190.24 L708.88,182.78 L712.74,175.25 L716.59,167.67 L720.44,160.08 L724.29,152.52 L728.14,145.03 L731.99,137.64 L735.84,130.38" fill="none" stroke="#7CAE00" stroke-opacity="0.17" stroke-width="0.9"/>
<path d="M581.80,291.19 L585.65,289.39 L589.50,287.49 L593.35,285.47 L597.20,283.34 L601.06,281.10 L604.91,278.73 L608.76,276.23 L612.61,273.60 L616.46,270.84 L620.31,267.95 L624.16,264.91 L628.01,261.73 L631.86,258.41 L635.71,254.94 L639.57,251.33 L643.42,247.57 L647.27,243.67 L651.12,239.63 L654.97,235.45 L658.82,231.13 L662.67,226.68 L666.52,222.10 L670.37,217.40 L674.23,212.59 L678.08,207.68 L681.93,202.67 L685.78,197.57 L689.63,192.40 L693.48,187.17 L697.33,181.88 L701.18,176.56 L705.03,171.20 L708.88,165.84 L712.74,160.48 L716.59,155.13 L720.44,149.80 L724.29,144.52 L728.14,139.28 L731.99,134.12 L735.84,129.02" fill="none" stroke="#7CAE00" stroke-opacity="0.17" stroke-width="0.9"/>
<path d="M581.80,274.34 L585.65,272.30 L589.50,270.19 L593.35,267.99 L597.20,265.72 L601.06,263.37 L604.91,260.94 L608.76,258.43 L612.61,255.84 L616.46,253.16 L620.31,250.40 L624.16,247.56 L628.01,244.64 L631.86,241.63 L635.71,238.55 L639.57,235.39 L643.42,232.15 L647.27,228.83 L651.12,225.45 L654.97,221.99 L658.82,218.46 L662.67,214.87 L666.52,211.22 L670.37,207.51 L674.23,203.74 L678.08,199.93 L681.93,196.07 L685.78,192.17 L689.63,188.23 L693.48,184.27 L697.33,180.28 L701.18,176.26 L705.03,172.24 L708.88,168.20 L712.74,164.16 L716.59,160.13 L720.44,156.10 L724.29,152.09 L728.14,148.09 L731.99,144.12 L735.84,140.18" fill="none" stroke="#7CAE00" stroke-opacity="0.17" stroke-width="0.9"/>
<path d="M581.80,278.75 L585.65,276.53 L589.50,274.20 L593.35,271.77 L597.20,269.23 L601.06,266.58 L604.91,263.82 L608.76,260.95 L612.61,257.96 L616.46,254.85 L620.31,251.63 L624.16,248.30 L628.01,244.84 L631.86,241.28 L635.71,237.60 L639.57,233.82 L643.42,229.92 L647.27,225.92 L651.12,221.82 L654.97,217.63 L658.82,213.35 L662.67,208.98 L666.52,204.53 L670.37,200.02 L674.23,195.43 L678.08,190.80 L681.93,186.11 L685.78,181.39 L689.63,176.63 L693.48,171.86 L697.33,167.07 L701.18,162.28 L705.03,157.50 L708.88,152.73 L712.74,147.99 L716.59,143.29 L720.44,138.63 L724.29,134.02 L728.14,129.47 L731.99,124.99 L735.84,120.58" fill="none" stroke="#7CAE00" stroke-opacity="0.17" stroke-width="0.9"/>
<path d="M581.80,291.16 L585.65,289.19 L589.50,287.09 L593.35,284.86 L597.20,282.49 L601.06,279.98 L604.91,277.32 L608.76,274.51 L612.61,271.54 L616.46,268.40 L620.31,265.11 L624.16,261.64 L628.01,258.00 L631.86,254.19 L635.71,250.20 L639.57,246.04 L643.42,241.72 L647.27,237.22 L651.12,232.56 L654.97,227.74 L658.82,222.77 L662.67,217.65 L666.52,212.40 L670.37,207.02 L674.23,201.53 L678.08,195.95 L681.93,190.27 L685.78,184.53 L689.63,178.74 L693.48,172.90 L697.33,167.05 L701.18,161.19 L705.03,155.35 L708.88,149.53 L712.74,143.77 L716.59,138.06 L720.44,132.44 L724.29,126.91 L728.14,121.49 L731.99,116.19 L735.84,111.02" fill="none" stroke="#7CAE00" stroke-opacity="0.17" stroke-width="0.9"/>
<path d="M581.80,288.44 L585.65,286.44 L589.50,284.34 L593.35,282.11 L597.20,279.76 L601.06,277.28 L604.91,274.66 L608.76,271.91 L612.61,269.03 L616.46,265.99 L620.31,262.82 L624.16,259.49 L628.01,256.02 L631.86,252.39 L635.71,248.62 L639.57,244.70 L643.42,240.63 L647.27,236.41 L651.12,232.06 L654.97,227.57 L658.82,222.94 L662.67,218.19 L666.52,213.33 L670.37,208.35 L674.23,203.28 L678.08,198.11 L681.93,192.87 L685.78,187.56 L689.63,182.20 L693.48,176.79 L697.33,171.36 L701.18,165.91 L705.03,160.46 L708.88,155.03 L712.74,149.63 L716.59,144.26 L720.44,138.95 L724.29,133.71 L728.14,128.54 L731.99,123.47 L735.84,118.49" fill="none" stroke="#7CAE00" stroke-opacity="0.17" stroke-width="0.9"/>
<path d="M581.80,305.95 L585.65,304.65 L589.50,303.21 L593.35,301.64 L597.20,299.91 L601.06,298.02 L604.91,295.95 L608.76,293.69 L612.61,291.22 L616.46,288.54 L620.31,285.62 L624.16,282.46 L628.01,279.04 L631.86,275.34 L635.71,271.36 L639.57,267.08 L643.42,262.50 L647.27,257.61 L651.12,252.41 L654.97,246.89 L658.82,241.06 L662.67,234.93 L666.52,228.50 L670.37,221.79 L674.23,214.83 L678.08,207.63 L681.93,200.22 L685.78,192.64 L689.63,184.92 L693.48,177.10 L697.33,169.22 L701.18,161.32 L705.03,153.44 L708.88,145.64 L712.74,137.94 L716.59,130.38 L720.44,123.00 L724.29,115.84 L728.14,108.91 L731.99,102.25 L735.84,95.87" fill="none" stroke="#7CAE00" stroke-opacity="0.17" stroke-width="0.9"/>
<path d="M581.80,302.39 L585.65,301.01 L589.50,299.53 L593.35,297.93 L597.20,296.21 L601.06,294.35 L604.91,292.36 L608.76,290.21 L612.61,287.91 L616.46,285.45 L620.31,282.81 L624.16,279.99 L628.01,276.98 L631.86,273.78 L635.71,270.37 L639.57,266.76 L643.42,262.93 L647.27,258.89 L651.12,254.63 L654.97,250.15 L658.82,245.45 L662.67,240.53 L666.52,235.40 L670.37,230.07 L674.23,224.53 L678.08,218.81 L681.93,212.92 L685.78,206.87 L689.63,200.67 L693.48,194.35 L697.33,187.93 L701.18,181.43 L705.03,174.87 L708.88,168.28 L712.74,161.67 L716.59,155.09 L720.44,148.54 L724.29,142.06 L728.14,135.66 L731.99,129.38 L735.84,123.22" fill="none" stroke="#7CAE00" stroke-opacity="0.17" stroke-width="0.9"/>
<path d="M581.80,282.95 L585.65,280.47 L589.50,277.84 L593.35,275.06 L597.20,272.12 L601.06,269.02 L604.91,265.76 L608.76,262.33 L612.61,258.73 L616.46,254.95 L620.31,251.01 L624.16,246.89 L628.01,242.60 L631.86,238.14 L635.71,233.52 L639.57,228.73 L643.42,223.80 L647.27,218.71 L651.12,213.49 L654.97,208.15 L658.82,202.69 L662.67,197.13 L666.52,191.48 L670.37,185.75 L674.23,179.97 L678.08,174.15 L681.93,168.30 L685.78,162.45 L689.63,156.61 L693.48,150.79 L697.33,145.02 L701.18,139.31 L705.03,133.68 L708.88,128.13 L712.74,122.69 L716.59,117.37 L720.44,112.17 L724.29,107.11 L728.14,102.20 L731.99,97.45 L735.84,92.85" fill="none" stroke="#7CAE00" stroke-opacity="0.17" stroke-width="0.9"/>
<path d="M581.80,293.46 L585.65,291.75 L589.50,289.95 L593.35,288.03 L597.20,286.00 L601.06,283.85 L604.91,281.58 L608.76,279.18 L612.61,276.65 L616.46,273.99 L620.31,271.19 L624.16,268.24 L628.01,265.15 L631.86,261.91 L635.71,258.52 L639.57,254.98 L643.42,251.29 L647.27,247.44 L651.12,243.45 L654.97,239.30 L658.82,235.01 L662.67,230.58 L666.52,226.02 L670.37,221.32 L674.23,216.49 L678.08,211.55 L681.93,206.51 L685.78,201.36 L689.63,196.13 L693.48,190.82 L697.33,185.46 L701.18,180.04 L705.03,174.58 L708.88,169.11 L712.74,163.62 L716.59,158.14 L720.44,152.68 L724.29,147.26 L728.14,141.88 L731.99,136.56 L735.84,131.32" fill="none" stroke="#7CAE00" stroke-opacity="0.17" stroke-width="0.9"/>
<path d="M581.80,268.37 L585.65,265.93 L589.50,263.39 L593.35,260.76 L597.20,258.04 L601.06,255.22 L604.91,252.30 L608.76,249.29 L612.61,246.18 L616.46,242.97 L620.31,239.68 L624.16,236.29 L628.01,232.81 L631.86,229.24 L635.71,225.58 L639.57,221.85 L643.42,218.03 L647.27,214.14 L651.12,210.17 L654.97,206.15 L658.82,202.06 L662.67,197.91 L666.52,193.71 L670.37,189.47 L674.23,185.20 L678.08,180.89 L681.93,176.56 L685.78,172.21 L689.63,167.84 L693.48,163.48 L697.33,159.12 L701.18,154.77 L705.03,150.44 L708.88,146.14 L712.74,141.86 L716.59,137.63 L720.44,133.44 L724.29,129.30 L728.14,125.21 L731.99,121.19 L735.84,117.24" fill="none" stroke="#7CAE00" stroke-opacity="0.17" stroke-width="0.9"/>
<path d="M581.80,304.59 L585.65,303.31 L589.50,301.91 L593.35,300.39 L597.20,298.74 L601.06,296.95 L604.91,295.01 L608.76,292.91 L612.61,290.64 L616.46,288.20 L620.31,285.57 L624.16,282.73 L628.01,279.69 L631.86,276.43 L635.71,272.95 L639.57,269.23 L643.42,265.26 L647.27,261.05 L651.12,256.59 L654.97,251.88 L658.82,246.91 L662.67,241.69 L666.52,236.22 L670.37,230.52 L674.23,224.58 L678.08,218.43 L681.93,212.08 L685.78,205.55 L689.63,198.86 L693.48,192.03 L697.33,185.10 L701.18,178.08 L705.03,171.01 L708.88,163.92 L712.74,156.84 L716.59,149.79 L720.44,142.82 L724.29,135.94 L728.14,129.19 L731.99,122.58 L735.84,116.15" fill="none" stroke="#7CAE00" stroke-opacity="0.17" stroke-width="0.9"/>
<path d="M581.80,297.48 L585.65,295.87 L589.50,294.14 L593.35,292.30 L597.20,290.34 L601.06,288.24 L604.91,286.00 L608.76,283.62 L612.61,281.09 L616.46,278.40 L620.31,275.55 L624.16,272.53 L628.01,269.34 L631.86,265.97 L635.71,262.42 L639.57,258.69 L643.42,254.78 L647.27,250.67 L651.12,246.39 L654.97,241.92 L658.82,237.27 L662.67,232.45 L666.52,227.45 L670.37,222.29 L674.23,216.98 L678.08,211.52 L681.93,205.94 L685.78,200.23 L689.63,194.43 L693.48,188.53 L697.33,182.57 L701.18,176.55 L705.03,170.50 L708.88,164.44 L712.74,158.38 L716.59,152.35 L720.44,146.35 L724.29,140.42 L728.14,134.57 L731.99,128.81 L735.84,123.16" fill="none" stroke="#7CAE00" stroke-opacity="0.17" stroke-width="0.9"/>
<path d="M581.80,287.39 L585.65,285.04 L589.50,282.53 L593.35,279.86 L597.20,277.02 L601.06,274.00 L604.91,270.81 L608.76,267.43 L612.61,263.86 L616.46,260.11 L620.31,256.16 L624.16,252.01 L628.01,247.67 L631.86,243.13 L635.71,238.40 L639.57,233.49 L643.42,228.39 L647.27,223.12 L651.12,217.69 L654.97,212.11 L658.82,206.38 L662.67,200.53 L666.52,194.57 L670.37,188.52 L674.23,182.40 L678.08,176.22 L681.93,170.00 L685.78,163.78 L689.63,157.56 L693.48,151.37 L697.33,145.22 L701.18,139.14 L705.03,133.15 L708.88,127.27 L712.74,121.50 L716.59,115.87 L720.44,110.39 L724.29,105.07 L728.14,99.92 L731.99,94.94 L735.84,90.15" fill="none" stroke="#7CAE00" stroke-opacity="0.17" stroke-width="0.9"/>
<path d="M581.80,269.38 L585.65,266.92 L589.50,264.38 L593.35,261.73 L597.20,258.99 L601.06,256.15 L604.91,253.20 L608.76,250.16 L612.61,247.02 L616.46,243.78 L620.31,240.44 L624.16,237.00 L628.01,233.47 L631.86,229.85 L635.71,226.14 L639.57,222.34 L643.42,218.46 L647.27,214.50 L651.12,210.47 L654.97,206.37 L658.82,202.20 L662.67,197.97 L666.52,193.70 L670.37,189.38 L674.23,185.01 L678.08,180.62 L681.93,176.20 L685.78,171.77 L689.63,167.32 L693.48,162.87 L697.33,158.43 L701.18,154.00 L705.03,149.59 L708.88,145.21 L712.74,140.86 L716.59,136.55 L720.44,132.29 L724.29,128.09 L728.14,123.94 L731.99,119.86 L735.84,115.86" fill="none" stroke="#7CAE00" stroke-opacity="0.17" stroke-width="0.9"/>
<path d="M581.80,297.81 L585.65,295.97 L589.50,293.98 L593.35,291.82 L597.20,289.50 L601.06,287.00 L604.91,284.31 L608.76,281.42 L612.61,278.32 L616.46,275.01 L620.31,271.47 L624.16,267.70 L628.01,263.69 L631.86,259.44 L635.71,254.95 L639.57,250.20 L643.42,245.21 L647.27,239.98 L651.12,234.50 L654.97,228.80 L658.82,222.88 L662.67,216.74 L666.52,210.42 L670.37,203.93 L674.23,197.29 L678.08,190.52 L681.93,183.65 L685.78,176.71 L689.63,169.72 L693.48,162.71 L697.33,155.72 L701.18,148.77 L705.03,141.89 L708.88,135.11 L712.74,128.46 L716.59,121.95 L720.44,115.62 L724.29,109.47 L728.14,103.52 L731.99,97.80 L735.84,92.31" fill="none" stroke="#7CAE00" stroke-opacity="0.17" stroke-width="0.9"/>
<path d="M581.80,277.97 L585.65,275.55 L589.50,273.01 L593.35,270.34 L597.20,267.55 L601.06,264.63 L604.91,261.59 L608.76,258.41 L612.61,255.10 L616.46,251.66 L620.31,248.08 L624.16,244.37 L628.01,240.54 L631.86,236.57 L635.71,232.48 L639.57,228.27 L643.42,223.94 L647.27,219.49 L651.12,214.94 L654.97,210.30 L658.82,205.56 L662.67,200.73 L666.52,195.84 L670.37,190.87 L674.23,185.86 L678.08,180.80 L681.93,175.70 L685.78,170.58 L689.63,165.46 L693.48,160.33 L697.33,155.22 L701.18,150.13 L705.03,145.07 L708.88,140.06 L712.74,135.11 L716.59,130.22 L720.44,125.42 L724.29,120.69 L728.14,116.06 L731.99,111.53 L735.84,107.11" fill="none" stroke="#7CAE00" stroke-opacity="0.17" stroke-width="0.9"/>
<path d="M581.80,273.61 L585.65,271.31 L589.50,268.92 L593.35,266.43 L597.20,263.85 L601.06,261.16 L604.91,258.38 L608.76,255.49 L612.61,252.50 L616.46,249.41 L620.31,246.22 L624.16,242.93 L628.01,239.55 L631.86,236.06 L635.71,232.48 L639.57,228.80 L643.42,225.04 L647.27,221.19 L651.12,217.25 L654.97,213.24 L658.82,209.15 L662.67,205.00 L666.52,200.78 L670.37,196.51 L674.23,192.18 L678.08,187.81 L681.93,183.40 L685.78,178.97 L689.63,174.51 L693.48,170.04 L697.33,165.56 L701.18,161.08 L705.03,156.60 L708.88,152.15 L712.74,147.72 L716.59,143.31 L720.44,138.95 L724.29,134.63 L728.14,130.37 L731.99,126.16 L735.84,122.01" fill="none" stroke="#7CAE00" stroke-opacity="0.17" stroke-width="0.9"/>
<path d="M581.80,281.91 L585.65,279.82 L589.50,277.63 L593.35,275.32 L597.20,272.92 L601.06,270.40 L604.91,267.77 L608.76,265.03 L612.61,262.17 L616.46,259.20 L620.31,256.11 L624.16,252.90 L628.01,249.57 L631.86,246.12 L635.71,242.56 L639.57,238.88 L643.42,235.08 L647.27,231.18 L651.12,227.17 L654.97,223.06 L658.82,218.84 L662.67,214.54 L666.52,210.14 L670.37,205.67 L674.23,201.11 L678.08,196.50 L681.93,191.82 L685.78,187.09 L689.63,182.32 L693.48,177.52 L697.33,172.69 L701.18,167.85 L705.03,163.01 L708.88,158.17 L712.74,153.35 L716.59,148.55 L720.44,143.79 L724.29,139.07 L728.14,134.41 L731.99,129.80 L735.84,125.26" fill="none" stroke="#7CAE00" stroke-opacity="0.17" stroke-width="0.9"/>
<path d="M581.80,272.14 L585.65,269.29 L589.50,266.30 L593.35,263.17 L597.20,259.89 L601.06,256.47 L604.91,252.90 L608.76,249.18 L612.61,245.32 L616.46,241.31 L620.31,237.16 L624.16,232.87 L628.01,228.45 L631.86,223.89 L635.71,219.22 L639.57,214.42 L643.42,209.52 L647.27,204.51 L651.12,199.42 L654.97,194.24 L658.82,189.00 L662.67,183.70 L666.52,178.35 L670.37,172.98 L674.23,167.59 L678.08,162.19 L681.93,156.80 L685.78,151.44 L689.63,146.11 L693.48,140.83 L697.33,135.61 L701.18,130.46 L705.03,125.40 L708.88,120.43 L712.74,115.57 L716.59,110.82 L720.44,106.18 L724.29,101.68 L728.14,97.30 L731.99,93.06 L735.84,88.97" fill="none" stroke="#7CAE00" stroke-opacity="0.17" stroke-width="0.9"/>
<path d="M581.80,297.87 L585.65,296.09 L589.50,294.17 L593.35,292.10 L597.20,289.87 L601.06,287.47 L604.91,284.89 L608.76,282.13 L612.61,279.18 L616.46,276.02 L620.31,272.65 L624.16,269.07 L628.01,265.27 L631.86,261.23 L635.71,256.97 L639.57,252.47 L643.42,247.74 L647.27,242.78 L651.12,237.59 L654.97,232.18 L658.82,226.56 L662.67,220.73 L666.52,214.71 L670.37,208.52 L674.23,202.18 L678.08,195.69 L681.93,189.10 L685.78,182.41 L689.63,175.66 L693.48,168.87 L697.33,162.07 L701.18,155.28 L705.03,148.54 L708.88,141.86 L712.74,135.28 L716.59,128.81 L720.44,122.48 L724.29,116.31 L728.14,110.32 L731.99,104.52 L735.84,98.92" fill="none" stroke="#7CAE00" stroke-opacity="0.17" stroke-width="0.9"/>
<path d="M581.80,293.24 L585.65,291.24 L589.50,289.10 L593.35,286.82 L597.20,284.37 L601.06,281.76 L604.91,278.98 L608.76,276.03 L612.61,272.89 L616.46,269.56 L620.31,266.04 L624.16,262.32 L628.01,258.40 L631.86,254.28 L635.71,249.96 L639.57,245.43 L643.42,240.70 L647.27,235.77 L651.12,230.65 L654.97,225.35 L658.82,219.87 L662.67,214.23 L666.52,208.44 L670.37,202.51 L674.23,196.46 L678.08,190.31 L681.93,184.08 L685.78,177.79 L689.63,171.45 L693.48,165.10 L697.33,158.75 L701.18,152.42 L705.03,146.14 L708.88,139.93 L712.74,133.80 L716.59,127.78 L720.44,121.89 L724.29,116.13 L728.14,110.53 L731.99,105.10 L735.84,99.84" fill="none" stroke="#7CAE00" stroke-opacity="0.17" stroke-width="0.9"/>
<path d="M581.80,303.02 L585.65,301.64 L589.50,300.15 L593.35,298.54 L597.20,296.79 L601.06,294.91 L604.91,292.88 L608.76,290.69 L612.61,288.33 L616.46,285.79 L620.31,283.07 L624.16,280.16 L628.01,277.04 L631.86,273.72 L635.71,270.17 L639.57,266.40 L643.42,262.40 L647.27,258.17 L651.12,253.70 L654.97,248.99 L658.82,244.05 L662.67,238.87 L666.52,233.47 L670.37,227.84 L674.23,222.01 L678.08,215.98 L681.93,209.78 L685.78,203.41 L689.63,196.89 L693.48,190.26 L697.33,183.53 L701.18,176.73 L705.03,169.89 L708.88,163.03 L712.74,156.19 L716.59,149.38 L720.44,142.64 L724.29,135.99 L728.14,129.45 L731.99,123.06 L735.84,116.82" fill="none" stroke="#7CAE00" stroke-opacity="0.17" stroke-width="0.9"/>
<path d="M581.80,300.42 L585.65,298.85 L589.50,297.16 L593.35,295.34 L597.20,293.38 L601.06,291.27 L604.91,288.99 L608.76,286.55 L612.61,283.93 L616.46,281.13 L620.31,278.14 L624.16,274.94 L628.01,271.53 L631.86,267.91 L635.71,264.07 L639.57,260.01 L643.42,255.72 L647.27,251.20 L651.12,246.44 L654.97,241.47 L658.82,236.27 L662.67,230.85 L666.52,225.23 L670.37,219.41 L674.23,213.41 L678.08,207.24 L681.93,200.92 L685.78,194.47 L689.63,187.91 L693.48,181.27 L697.33,174.57 L701.18,167.84 L705.03,161.10 L708.88,154.38 L712.74,147.70 L716.59,141.09 L720.44,134.58 L724.29,128.18 L728.14,121.93 L731.99,115.82 L735.84,109.90" fill="none" stroke="#7CAE00" stroke-opacity="0.17" stroke-width="0.9"/>
<path d="M581.80,305.91 L585.65,304.68 L589.50,303.34 L593.35,301.87 L597.20,300.28 L601.06,298.53 L604.91,296.64 L608.76,294.58 L612.61,292.34 L616.46,289.92 L620.31,287.29 L624.16,284.46 L628.01,281.40 L631.86,278.11 L635.71,274.57 L639.57,270.78 L643.42,266.73 L647.27,262.41 L651.12,257.81 L654.97,252.94 L658.82,247.79 L662.67,242.36 L666.52,236.66 L670.37,230.70 L674.23,224.49 L678.08,218.04 L681.93,211.37 L685.78,204.51 L689.63,197.47 L693.48,190.30 L697.33,183.01 L701.18,175.64 L705.03,168.22 L708.88,160.79 L712.74,153.39 L716.59,146.05 L720.44,138.79 L724.29,131.67 L728.14,124.69 L731.99,117.90 L735.84,111.31" fill="none" stroke="#7CAE00" stroke-opacity="0.17" stroke-width="0.9"/>
<path d="M581.80,283.40 L585.65,280.66 L589.50,277.74 L593.35,274.62 L597.20,271.31 L601.06,267.80 L604.91,264.08 L608.76,260.16 L612.61,256.02 L616.46,251.66 L620.31,247.09 L624.16,242.31 L628.01,237.32 L631.86,232.13 L635.71,226.74 L639.57,221.16 L643.42,215.41 L647.27,209.50 L651.12,203.44 L654.97,197.25 L658.82,190.95 L662.67,184.56 L666.52,178.11 L670.37,171.61 L674.23,165.09 L678.08,158.58 L681.93,152.09 L685.78,145.65 L689.63,139.28 L693.48,133.01 L697.33,126.85 L701.18,120.83 L705.03,114.95 L708.88,109.24 L712.74,103.71 L716.59,98.37 L720.44,93.23 L724.29,88.29 L728.14,83.56 L731.99,79.04 L735.84,74.74" fill="none" stroke="#7CAE00" stroke-opacity="0.17" stroke-width="0.9"/>
<path d="M581.80,305.82 L585.65,304.66 L589.50,303.40 L593.35,302.03 L597.20,300.55 L601.06,298.94 L604.91,297.19 L608.76,295.31 L612.61,293.27 L616.46,291.07 L620.31,288.70 L624.16,286.15 L628.01,283.40 L631.86,280.46 L635.71,277.31 L639.57,273.94 L643.42,270.35 L647.27,266.52 L651.12,262.45 L654.97,258.15 L658.82,253.59 L662.67,248.80 L666.52,243.76 L670.37,238.47 L674.23,232.96 L678.08,227.21 L681.93,221.26 L685.78,215.10 L689.63,208.75 L693.48,202.25 L697.33,195.59 L701.18,188.82 L705.03,181.96 L708.88,175.03 L712.74,168.06 L716.59,161.08 L720.44,154.12 L724.29,147.22 L728.14,140.38 L731.99,133.66 L735.84,127.06" fill="none" stroke="#7CAE00" stroke-opacity="0.17" stroke-width="0.9"/>
<path d="M581.80,287.34 L585.65,285.17 L589.50,282.86 L593.35,280.42 L597.20,277.83 L601.06,275.10 L604.91,272.22 L608.76,269.18 L612.61,265.98 L616.46,262.63 L620.31,259.10 L624.16,255.41 L628.01,251.56 L631.86,247.53 L635.71,243.34 L639.57,238.99 L643.42,234.48 L647.27,229.81 L651.12,225.00 L654.97,220.04 L658.82,214.95 L662.67,209.73 L666.52,204.39 L670.37,198.96 L674.23,193.44 L678.08,187.84 L681.93,182.17 L685.78,176.47 L689.63,170.73 L693.48,164.98 L697.33,159.23 L701.18,153.50 L705.03,147.81 L708.88,142.17 L712.74,136.59 L716.59,131.09 L720.44,125.69 L724.29,120.39 L728.14,115.21 L731.99,110.16 L735.84,105.25" fill="none" stroke="#7CAE00" stroke-opacity="0.17" stroke-width="0.9"/>
<path d="M581.80,297.90 L585.65,295.78 L589.50,293.45 L593.35,290.92 L597.20,288.15 L601.06,285.15 L604.91,281.88 L608.76,278.34 L612.61,274.51 L616.46,270.39 L620.31,265.95 L624.16,261.20 L628.01,256.13 L631.86,250.73 L635.71,245.00 L639.57,238.95 L643.42,232.59 L647.27,225.92 L651.12,218.98 L654.97,211.78 L658.82,204.34 L662.67,196.70 L666.52,188.90 L670.37,180.98 L674.23,172.97 L678.08,164.92 L681.93,156.88 L685.78,148.89 L689.63,140.99 L693.48,133.22 L697.33,125.63 L701.18,118.25 L705.03,111.11 L708.88,104.23 L712.74,97.64 L716.59,91.35 L720.44,85.38 L724.29,79.73 L728.14,74.41 L731.99,69.41 L735.84,64.74" fill="none" stroke="#7CAE00" stroke-opacity="0.17" stroke-width="0.9"/>
<path d="M581.80,306.93 L585.65,305.94 L589.50,304.87 L593.35,303.71 L597.20,302.45 L601.06,301.10 L604.91,299.64 L608.76,298.06 L612.61,296.37 L616.46,294.54 L620.31,292.58 L624.16,290.47 L628.01,288.21 L631.86,285.79 L635.71,283.20 L639.57,280.44 L643.42,277.49 L647.27,274.35 L651.12,271.02 L654.97,267.48 L658.82,263.73 L662.67,259.77 L666.52,255.60 L670.37,251.21 L674.23,246.61 L678.08,241.79 L681.93,236.77 L685.78,231.54 L689.63,226.11 L693.48,220.50 L697.33,214.71 L701.18,208.76 L705.03,202.67 L708.88,196.45 L712.74,190.12 L716.59,183.71 L720.44,177.23 L724.29,170.71 L728.14,164.17 L731.99,157.64 L735.84,151.14" fill="none" stroke="#7CAE00" stroke-opacity="0.17" stroke-width="0.9"/>
<path d="M581.80,287.15 L585.65,285.21 L589.50,283.18 L593.35,281.03 L597.20,278.78 L601.06,276.41 L604.91,273.93 L608.76,271.32 L612.61,268.59 L616.46,265.73 L620.31,262.75 L624.16,259.64 L628.01,256.40 L631.86,253.02 L635.71,249.52 L639.57,245.88 L643.42,242.11 L647.27,238.22 L651.12,234.20 L654.97,230.06 L658.82,225.80 L662.67,221.43 L666.52,216.95 L670.37,212.37 L674.23,207.69 L678.08,202.93 L681.93,198.09 L685.78,193.18 L689.63,188.21 L693.48,183.20 L697.33,178.14 L701.18,173.06 L705.03,167.96 L708.88,162.86 L712.74,157.76 L716.59,152.68 L720.44,147.64 L724.29,142.63 L728.14,137.67 L731.99,132.77 L735.84,127.95" fill="none" stroke="#7CAE00" stroke-opacity="0.17" stroke-width="0.9"/>
<path d="M581.80,305.78 L585.65,304.44 L589.50,302.97 L593.35,301.35 L597.20,299.57 L601.06,297.62 L604.91,295.49 L608.76,293.16 L612.61,290.61 L616.46,287.84 L620.31,284.83 L624.16,281.56 L628.01,278.01 L631.86,274.19 L635.71,270.07 L639.57,265.65 L643.42,260.91 L647.27,255.85 L651.12,250.47 L654.97,244.77 L658.82,238.75 L662.67,232.42 L666.52,225.80 L670.37,218.90 L674.23,211.74 L678.08,204.35 L681.93,196.77 L685.78,189.03 L689.63,181.16 L693.48,173.21 L697.33,165.21 L701.18,157.22 L705.03,149.28 L708.88,141.43 L712.74,133.71 L716.59,126.16 L720.44,118.81 L724.29,111.70 L728.14,104.84 L731.99,98.27 L735.84,92.00" fill="none" stroke="#7CAE00" stroke-opacity="0.17" stroke-width="0.9"/>
<path d="M581.80,302.19 L585.65,300.80 L589.50,299.29 L593.35,297.67 L597.20,295.91 L601.06,294.03 L604.91,292.00 L608.76,289.81 L612.61,287.47 L616.46,284.96 L620.31,282.28 L624.16,279.41 L628.01,276.35 L631.86,273.09 L635.71,269.63 L639.57,265.95 L643.42,262.06 L647.27,257.95 L651.12,253.62 L654.97,249.06 L658.82,244.29 L662.67,239.30 L666.52,234.09 L670.37,228.68 L674.23,223.07 L678.08,217.28 L681.93,211.31 L685.78,205.19 L689.63,198.93 L693.48,192.55 L697.33,186.07 L701.18,179.52 L705.03,172.92 L708.88,166.29 L712.74,159.66 L716.59,153.05 L720.44,146.49 L724.29,140.00 L728.14,133.61 L731.99,127.34 L735.84,121.20" fill="none" stroke="#7CAE00" stroke-opacity="0.17" stroke-width="0.9"/>
<path d="M581.80,282.63 L585.65,280.45 L589.50,278.15 L593.35,275.74 L597.20,273.21 L601.06,270.56 L604.91,267.78 L608.76,264.87 L612.61,261.84 L616.46,258.67 L620.31,255.38 L624.16,251.95 L628.01,248.39 L631.86,244.69 L635.71,240.87 L639.57,236.92 L643.42,232.84 L647.27,228.64 L651.12,224.32 L654.97,219.89 L658.82,215.36 L662.67,210.72 L666.52,205.99 L670.37,201.18 L674.23,196.29 L678.08,191.34 L681.93,186.33 L685.78,181.27 L689.63,176.19 L693.48,171.07 L697.33,165.95 L701.18,160.83 L705.03,155.71 L708.88,150.62 L712.74,145.57 L716.59,140.56 L720.44,135.60 L724.29,130.72 L728.14,125.90 L731.99,121.17 L735.84,116.53" fill="none" stroke="#7CAE00" stroke-opacity="0.17" stroke-width="0.9"/>
<path d="M581.80,299.90 L585.65,298.39 L589.50,296.77 L593.35,295.03 L597.20,293.16 L601.06,291.15 L604.91,289.01 L608.76,286.71 L612.61,284.26 L616.46,281.64 L620.31,278.85 L624.16,275.89 L628.01,272.74 L631.86,269.40 L635.71,265.87 L639.57,262.14 L643.42,258.21 L647.27,254.08 L651.12,249.74 L654.97,245.20 L658.82,240.46 L662.67,235.52 L666.52,230.39 L670.37,225.08 L674.23,219.59 L678.08,213.94 L681.93,208.14 L685.78,202.21 L689.63,196.15 L693.48,189.99 L697.33,183.76 L701.18,177.46 L705.03,171.12 L708.88,164.76 L712.74,158.41 L716.59,152.09 L720.44,145.81 L724.29,139.60 L728.14,133.47 L731.99,127.46 L735.84,121.57" fill="none" stroke="#7CAE00" stroke-opacity="0.17" stroke-width="0.9"/>
<path d="M581.80,288.43 L585.65,286.05 L589.50,283.51 L593.35,280.79 L597.20,277.90 L601.06,274.82 L604.91,271.54 L608.76,268.07 L612.61,264.40 L616.46,260.51 L620.31,256.42 L624.16,252.12 L628.01,247.61 L631.86,242.88 L635.71,237.96 L639.57,232.82 L643.42,227.50 L647.27,221.99 L651.12,216.30 L654.97,210.46 L658.82,204.46 L662.67,198.34 L666.52,192.10 L670.37,185.78 L674.23,179.38 L678.08,172.94 L681.93,166.47 L685.78,159.99 L689.63,153.54 L693.48,147.14 L697.33,140.80 L701.18,134.54 L705.03,128.40 L708.88,122.38 L712.74,116.51 L716.59,110.79 L720.44,105.25 L724.29,99.89 L728.14,94.73 L731.99,89.76 L735.84,85.00" fill="none" stroke="#00BFC4" stroke-opacity="0.13" stroke-width="0.9"/>
<path d="M581.80,274.89 L585.65,272.20 L589.50,269.38 L593.35,266.41 L597.20,263.31 L601.06,260.07 L604.91,256.68 L608.76,253.15 L612.61,249.48 L616.46,245.66 L620.31,241.70 L624.16,237.60 L628.01,233.36 L631.86,228.98 L635.71,224.48 L639.57,219.86 L643.42,215.12 L647.27,210.27 L651.12,205.32 L654.97,200.28 L658.82,195.16 L662.67,189.97 L666.52,184.72 L670.37,179.43 L674.23,174.10 L678.08,168.76 L681.93,163.41 L685.78,158.06 L689.63,152.73 L693.48,147.44 L697.33,142.19 L701.18,136.99 L705.03,131.87 L708.88,126.82 L712.74,121.87 L716.59,117.01 L720.44,112.26 L724.29,107.63 L728.14,103.12 L731.99,98.74 L735.84,94.49" fill="none" stroke="#00BFC4" stroke-opacity="0.13" stroke-width="0.9"/>
<path d="M581.80,298.82 L585.65,296.93 L589.50,294.86 L593.35,292.62 L597.20,290.18 L601.06,287.54 L604.91,284.68 L608.76,281.60 L612.61,278.27 L616.46,274.70 L620.31,270.86 L624.16,266.75 L628.01,262.37 L631.86,257.71 L635.71,252.76 L639.57,247.52 L643.42,242.00 L647.27,236.21 L651.12,230.14 L654.97,223.81 L658.82,217.25 L662.67,210.46 L666.52,203.47 L670.37,196.32 L674.23,189.02 L678.08,181.61 L681.93,174.12 L685.78,166.59 L689.63,159.07 L693.48,151.57 L697.33,144.14 L701.18,136.82 L705.03,129.63 L708.88,122.61 L712.74,115.79 L716.59,109.18 L720.44,102.81 L724.29,96.69 L728.14,90.84 L731.99,85.27 L735.84,79.99" fill="none" stroke="#00BFC4" stroke-opacity="0.13" stroke-width="0.9"/>
<path d="M581.80,272.75 L585.65,269.85 L589.50,266.81 L593.35,263.62 L597.20,260.27 L601.06,256.77 L604.91,253.12 L608.76,249.31 L612.61,245.35 L616.46,241.24 L620.31,236.98 L624.16,232.56 L628.01,228.01 L631.86,223.32 L635.71,218.50 L639.57,213.56 L643.42,208.51 L647.27,203.35 L651.12,198.10 L654.97,192.77 L658.82,187.37 L662.67,181.92 L666.52,176.42 L670.37,170.89 L674.23,165.36 L678.08,159.82 L681.93,154.30 L685.78,148.81 L689.63,143.36 L693.48,137.98 L697.33,132.66 L701.18,127.43 L705.03,122.29 L708.88,117.26 L712.74,112.34 L716.59,107.55 L720.44,102.88 L724.29,98.36 L728.14,93.98 L731.99,89.74 L735.84,85.66" fill="none" stroke="#00BFC4" stroke-opacity="0.13" stroke-width="0.9"/>
<path d="M581.80,312.05 L585.65,311.21 L589.50,310.26 L593.35,309.19 L597.20,307.99 L601.06,306.65 L604.91,305.13 L608.76,303.44 L612.61,301.54 L616.46,299.41 L620.31,297.04 L624.16,294.40 L628.01,291.47 L631.86,288.22 L635.71,284.63 L639.57,280.67 L643.42,276.31 L647.27,271.55 L651.12,266.35 L654.97,260.70 L658.82,254.60 L662.67,248.04 L666.52,241.02 L670.37,233.56 L674.23,225.67 L678.08,217.38 L681.93,208.73 L685.78,199.78 L689.63,190.57 L693.48,181.18 L697.33,171.66 L701.18,162.11 L705.03,152.58 L708.88,143.15 L712.74,133.90 L716.59,124.89 L720.44,116.18 L724.29,107.81 L728.14,99.83 L731.99,92.28 L735.84,85.17" fill="none" stroke="#00BFC4" stroke-opacity="0.13" stroke-width="0.9"/>
<path d="M581.80,271.62 L585.65,267.73 L589.50,263.58 L593.35,259.18 L597.20,254.51 L601.06,249.58 L604.91,244.38 L608.76,238.93 L612.61,233.22 L616.46,227.26 L620.31,221.08 L624.16,214.68 L628.01,208.08 L631.86,201.31 L635.71,194.38 L639.57,187.33 L643.42,180.19 L647.27,172.99 L651.12,165.75 L654.97,158.51 L658.82,151.31 L662.67,144.17 L666.52,137.12 L670.37,130.21 L674.23,123.44 L678.08,116.85 L681.93,110.46 L685.78,104.28 L689.63,98.34 L693.48,92.64 L697.33,87.19 L701.18,82.01 L705.03,77.09 L708.88,72.43 L712.74,68.04 L716.59,63.90 L720.44,60.02 L724.29,56.39 L728.14,52.99 L731.99,49.83 L735.84,46.88" fill="none" stroke="#00BFC4" stroke-opacity="0.13" stroke-width="0.9"/>
<path d="M581.80,299.04 L585.65,297.24 L589.50,295.29 L593.35,293.18 L597.20,290.89 L601.06,288.42 L604.91,285.75 L608.76,282.88 L612.61,279.79 L616.46,276.47 L620.31,272.92 L624.16,269.13 L628.01,265.08 L631.86,260.78 L635.71,256.22 L639.57,251.39 L643.42,246.30 L647.27,240.95 L651.12,235.35 L654.97,229.50 L658.82,223.42 L662.67,217.11 L666.52,210.60 L670.37,203.91 L674.23,197.05 L678.08,190.07 L681.93,182.98 L685.78,175.81 L689.63,168.60 L693.48,161.38 L697.33,154.17 L701.18,147.02 L705.03,139.96 L708.88,133.00 L712.74,126.19 L716.59,119.54 L720.44,113.08 L724.29,106.83 L728.14,100.80 L731.99,95.01 L735.84,89.47" fill="none" stroke="#00BFC4" stroke-opacity="0.13" stroke-width="0.9"/>
<path d="M581.80,305.57 L585.65,304.13 L589.50,302.54 L593.35,300.78 L597.20,298.84 L601.06,296.71 L604.91,294.36 L608.76,291.79 L612.61,288.97 L616.46,285.88 L620.31,282.51 L624.16,278.85 L628.01,274.88 L631.86,270.58 L635.71,265.94 L639.57,260.95 L643.42,255.61 L647.27,249.91 L651.12,243.85 L654.97,237.43 L658.82,230.68 L662.67,223.60 L666.52,216.22 L670.37,208.57 L674.23,200.68 L678.08,192.58 L681.93,184.33 L685.78,175.97 L689.63,167.54 L693.48,159.11 L697.33,150.72 L701.18,142.41 L705.03,134.25 L708.88,126.28 L712.74,118.53 L716.59,111.04 L720.44,103.84 L724.29,96.96 L728.14,90.41 L731.99,84.21 L735.84,78.37" fill="none" stroke="#00BFC4" stroke-opacity="0.13" stroke-width="0.9"/>
<path d="M581.80,293.25 L585.65,291.22 L589.50,289.06 L593.35,286.73 L597.20,284.25 L601.06,281.60 L604.91,278.77 L608.76,275.77 L612.61,272.57 L616.46,269.18 L620.31,265.59 L624.16,261.80 L628.01,257.80 L631.86,253.60 L635.71,249.18 L639.57,244.56 L643.42,239.73 L647.27,234.70 L651.12,229.47 L654.97,224.06 L658.82,218.47 L662.67,212.72 L666.52,206.81 L670.37,200.77 L674.23,194.62 L678.08,188.36 L681.93,182.03 L685.78,175.64 L689.63,169.21 L693.48,162.78 L697.33,156.35 L701.18,149.96 L705.03,143.63 L708.88,137.37 L712.74,131.21 L716.59,125.17 L720.44,119.26 L724.29,113.50 L728.14,107.90 L731.99,102.49 L735.84,97.26" fill="none" stroke="#00BFC4" stroke-opacity="0.13" stroke-width="0.9"/>
<path d="M581.80,271.41 L585.65,269.13 L589.50,266.75 L593.35,264.29 L597.20,261.74 L601.06,259.09 L604.91,256.35 L608.76,253.52 L612.61,250.60 L616.46,247.58 L620.31,244.48 L624.16,241.28 L628.01,237.99 L631.86,234.61 L635.71,231.14 L639.57,227.59 L643.42,223.96 L647.27,220.25 L651.12,216.47 L654.97,212.61 L658.82,208.69 L662.67,204.70 L666.52,200.66 L670.37,196.56 L674.23,192.42 L678.08,188.24 L681.93,184.02 L685.78,179.78 L689.63,175.51 L693.48,171.23 L697.33,166.94 L701.18,162.65 L705.03,158.36 L708.88,154.09 L712.74,149.83 L716.59,145.60 L720.44,141.40 L724.29,137.24 L728.14,133.12 L731.99,129.05 L735.84,125.04" fill="none" stroke="#00BFC4" stroke-opacity="0.13" stroke-width="0.9"/>
<path d="M581.80,288.05 L585.65,285.48 L589.50,282.73 L593.35,279.78 L597.20,276.62 L601.06,273.25 L604.91,269.66 L608.76,265.85 L612.61,261.80 L616.46,257.51 L620.31,252.99 L624.16,248.23 L628.01,243.23 L631.86,237.99 L635.71,232.53 L639.57,226.85 L643.42,220.96 L647.27,214.88 L651.12,208.62 L654.97,202.19 L658.82,195.63 L662.67,188.95 L666.52,182.18 L670.37,175.35 L674.23,168.47 L678.08,161.59 L681.93,154.72 L685.78,147.90 L689.63,141.15 L693.48,134.50 L697.33,127.97 L701.18,121.59 L705.03,115.37 L708.88,109.33 L712.74,103.49 L716.59,97.87 L720.44,92.46 L724.29,87.29 L728.14,82.35 L731.99,77.64 L735.84,73.18" fill="none" stroke="#00BFC4" stroke-opacity="0.13" stroke-width="0.9"/>
<path d="M581.80,309.19 L585.65,308.19 L589.50,307.09 L593.35,305.87 L597.20,304.54 L601.06,303.07 L604.91,301.45 L608.76,299.67 L612.61,297.73 L616.46,295.60 L620.31,293.26 L624.16,290.72 L628.01,287.94 L631.86,284.93 L635.71,281.65 L639.57,278.10 L643.42,274.27 L647.27,270.14 L651.12,265.70 L654.97,260.95 L658.82,255.87 L662.67,250.47 L666.52,244.74 L670.37,238.70 L674.23,232.34 L678.08,225.69 L681.93,218.76 L685.78,211.57 L689.63,204.15 L693.48,196.53 L697.33,188.75 L701.18,180.84 L705.03,172.86 L708.88,164.83 L712.74,156.81 L716.59,148.85 L720.44,140.97 L724.29,133.23 L728.14,125.66 L731.99,118.30 L735.84,111.17" fill="none" stroke="#00BFC4" stroke-opacity="0.13" stroke-width="0.9"/>
<path d="M581.80,266.23 L585.65,263.39 L589.50,260.42 L593.35,257.33 L597.20,254.12 L601.06,250.79 L604.91,247.34 L608.76,243.77 L612.61,240.07 L616.46,236.26 L620.31,232.34 L624.16,228.30 L628.01,224.16 L631.86,219.91 L635.71,215.57 L639.57,211.13 L643.42,206.61 L647.27,202.01 L651.12,197.34 L654.97,192.61 L658.82,187.82 L662.67,182.99 L666.52,178.13 L670.37,173.23 L674.23,168.33 L678.08,163.42 L681.93,158.51 L685.78,153.62 L689.63,148.76 L693.48,143.92 L697.33,139.14 L701.18,134.41 L705.03,129.74 L708.88,125.14 L712.74,120.62 L716.59,116.18 L720.44,111.84 L724.29,107.59 L728.14,103.45 L731.99,99.42 L735.84,95.49" fill="none" stroke="#00BFC4" stroke-opacity="0.13" stroke-width="0.9"/>
<path d="M581.80,294.39 L585.65,292.32 L589.50,290.09 L593.35,287.69 L597.20,285.12 L601.06,282.35 L604.91,279.40 L608.76,276.23 L612.61,272.86 L616.46,269.26 L620.31,265.44 L624.16,261.40 L628.01,257.11 L631.86,252.59 L635.71,247.84 L639.57,242.85 L643.42,237.63 L647.27,232.18 L651.12,226.52 L654.97,220.65 L658.82,214.59 L662.67,208.36 L666.52,201.96 L670.37,195.43 L674.23,188.79 L678.08,182.06 L681.93,175.26 L685.78,168.42 L689.63,161.58 L693.48,154.75 L697.33,147.96 L701.18,141.25 L705.03,134.64 L708.88,128.14 L712.74,121.79 L716.59,115.60 L720.44,109.59 L724.29,103.77 L728.14,98.17 L731.99,92.78 L735.84,87.62" fill="none" stroke="#00BFC4" stroke-opacity="0.13" stroke-width="0.9"/>
<path d="M581.80,277.47 L585.65,274.57 L589.50,271.50 L593.35,268.26 L597.20,264.83 L601.06,261.23 L604.91,257.44 L608.76,253.47 L612.61,249.32 L616.46,244.98 L620.31,240.45 L624.16,235.75 L628.01,230.88 L631.86,225.83 L635.71,220.63 L639.57,215.28 L643.42,209.79 L647.27,204.17 L651.12,198.43 L654.97,192.60 L658.82,186.69 L662.67,180.72 L666.52,174.70 L670.37,168.65 L674.23,162.59 L678.08,156.54 L681.93,150.52 L685.78,144.55 L689.63,138.65 L693.48,132.83 L697.33,127.10 L701.18,121.50 L705.03,116.02 L708.88,110.68 L712.74,105.49 L716.59,100.46 L720.44,95.60 L724.29,90.92 L728.14,86.41 L731.99,82.09 L735.84,77.95" fill="none" stroke="#00BFC4" stroke-opacity="0.13" stroke-width="0.9"/>
<path d="M581.80,309.93 L585.65,308.90 L589.50,307.75 L593.35,306.46 L597.20,305.03 L601.06,303.44 L604.91,301.68 L608.76,299.71 L612.61,297.54 L616.46,295.13 L620.31,292.48 L624.16,289.55 L628.01,286.33 L631.86,282.80 L635.71,278.94 L639.57,274.73 L643.42,270.15 L647.27,265.19 L651.12,259.84 L654.97,254.09 L658.82,247.93 L662.67,241.38 L666.52,234.43 L670.37,227.11 L674.23,219.44 L678.08,211.45 L681.93,203.17 L685.78,194.66 L689.63,185.95 L693.48,177.11 L697.33,168.19 L701.18,159.26 L705.03,150.37 L708.88,141.59 L712.74,132.97 L716.59,124.56 L720.44,116.42 L724.29,108.58 L728.14,101.07 L731.99,93.94 L735.84,87.18" fill="none" stroke="#00BFC4" stroke-opacity="0.13" stroke-width="0.9"/>
<path d="M581.80,262.74 L585.65,259.60 L589.50,256.33 L593.35,252.92 L597.20,249.38 L601.06,245.70 L604.91,241.90 L608.76,237.96 L612.61,233.89 L616.46,229.71 L620.31,225.40 L624.16,220.97 L628.01,216.44 L631.86,211.81 L635.71,207.08 L639.57,202.26 L643.42,197.37 L647.27,192.40 L651.12,187.38 L654.97,182.31 L658.82,177.20 L662.67,172.07 L666.52,166.93 L670.37,161.78 L674.23,156.64 L678.08,151.52 L681.93,146.43 L685.78,141.39 L689.63,136.40 L693.48,131.48 L697.33,126.63 L701.18,121.87 L705.03,117.19 L708.88,112.62 L712.74,108.15 L716.59,103.80 L720.44,99.56 L724.29,95.45 L728.14,91.46 L731.99,87.60 L735.84,83.87" fill="none" stroke="#00BFC4" stroke-opacity="0.13" stroke-width="0.9"/>
<path d="M581.80,308.02 L585.65,306.84 L589.50,305.53 L593.35,304.09 L597.20,302.48 L601.06,300.71 L604.91,298.76 L608.76,296.62 L612.61,294.25 L616.46,291.66 L620.31,288.82 L624.16,285.71 L628.01,282.32 L631.86,278.63 L635.71,274.63 L639.57,270.30 L643.42,265.63 L647.27,260.60 L651.12,255.22 L654.97,249.48 L658.82,243.37 L662.67,236.92 L666.52,230.12 L670.37,223.00 L674.23,215.58 L678.08,207.88 L681.93,199.95 L685.78,191.82 L689.63,183.53 L693.48,175.14 L697.33,166.69 L701.18,158.23 L705.03,149.83 L708.88,141.52 L712.74,133.35 L716.59,125.38 L720.44,117.64 L724.29,110.16 L728.14,102.98 L731.99,96.12 L735.84,89.60" fill="none" stroke="#00BFC4" stroke-opacity="0.13" stroke-width="0.9"/>
<path d="M581.80,307.87 L585.65,306.65 L589.50,305.30 L593.35,303.80 L597.20,302.14 L601.06,300.31 L604.91,298.28 L608.76,296.05 L612.61,293.59 L616.46,290.89 L620.31,287.93 L624.16,284.69 L628.01,281.15 L631.86,277.30 L635.71,273.11 L639.57,268.59 L643.42,263.70 L647.27,258.46 L651.12,252.84 L654.97,246.84 L658.82,240.48 L662.67,233.76 L666.52,226.70 L670.37,219.31 L674.23,211.62 L678.08,203.67 L681.93,195.50 L685.78,187.15 L689.63,178.66 L693.48,170.09 L697.33,161.50 L701.18,152.93 L705.03,144.45 L708.88,136.10 L712.74,127.93 L716.59,119.99 L720.44,112.31 L724.29,104.93 L728.14,97.87 L731.99,91.16 L735.84,84.81" fill="none" stroke="#00BFC4" stroke-opacity="0.13" stroke-width="0.9"/>
<path d="M581.80,282.06 L585.65,279.67 L589.50,277.15 L593.35,274.50 L597.20,271.71 L601.06,268.77 L604.91,265.69 L608.76,262.45 L612.61,259.07 L616.46,255.53 L620.31,251.84 L624.16,247.99 L628.01,244.00 L631.86,239.85 L635.71,235.55 L639.57,231.11 L643.42,226.54 L647.27,221.82 L651.12,216.99 L654.97,212.03 L658.82,206.96 L662.67,201.80 L666.52,196.54 L670.37,191.21 L674.23,185.81 L678.08,180.37 L681.93,174.88 L685.78,169.37 L689.63,163.86 L693.48,158.34 L697.33,152.85 L701.18,147.39 L705.03,141.98 L708.88,136.63 L712.74,131.36 L716.59,126.17 L720.44,121.07 L724.29,116.09 L728.14,111.22 L731.99,106.47 L735.84,101.86" fill="none" stroke="#00BFC4" stroke-opacity="0.13" stroke-width="0.9"/>
<path d="M581.80,293.34 L585.65,291.31 L589.50,289.15 L593.35,286.83 L597.20,284.35 L601.06,281.70 L604.91,278.88 L608.76,275.87 L612.61,272.68 L616.46,269.29 L620.31,265.70 L624.16,261.91 L628.01,257.91 L631.86,253.70 L635.71,249.28 L639.57,244.66 L643.42,239.83 L647.27,234.79 L651.12,229.56 L654.97,224.15 L658.82,218.55 L662.67,212.79 L666.52,206.88 L670.37,200.83 L674.23,194.67 L678.08,188.40 L681.93,182.06 L685.78,175.66 L689.63,169.23 L693.48,162.78 L697.33,156.34 L701.18,149.94 L705.03,143.60 L708.88,137.33 L712.74,131.16 L716.59,125.11 L720.44,119.20 L724.29,113.43 L728.14,107.83 L731.99,102.41 L735.84,97.17" fill="none" stroke="#00BFC4" stroke-opacity="0.13" stroke-width="0.9"/>
<path d="M581.80,280.85 L585.65,278.32 L589.50,275.65 L593.35,272.83 L597.20,269.86 L601.06,266.74 L604.91,263.46 L608.76,260.02 L612.61,256.42 L616.46,252.65 L620.31,248.72 L624.16,244.64 L628.01,240.39 L631.86,235.98 L635.71,231.42 L639.57,226.71 L643.42,221.86 L647.27,216.88 L651.12,211.77 L654.97,206.54 L658.82,201.21 L662.67,195.79 L666.52,190.28 L670.37,184.72 L674.23,179.10 L678.08,173.44 L681.93,167.76 L685.78,162.08 L689.63,156.41 L693.48,150.76 L697.33,145.16 L701.18,139.61 L705.03,134.14 L708.88,128.74 L712.74,123.45 L716.59,118.26 L720.44,113.19 L724.29,108.26 L728.14,103.45 L731.99,98.80 L735.84,94.29" fill="none" stroke="#00BFC4" stroke-opacity="0.13" stroke-width="0.9"/>
<path d="M581.80,297.10 L585.65,295.19 L589.50,293.13 L593.35,290.90 L597.20,288.49 L601.06,285.90 L604.91,283.12 L608.76,280.13 L612.61,276.92 L616.46,273.50 L620.31,269.84 L624.16,265.95 L628.01,261.81 L631.86,257.43 L635.71,252.80 L639.57,247.92 L643.42,242.79 L647.27,237.42 L651.12,231.81 L654.97,225.97 L658.82,219.92 L662.67,213.67 L666.52,207.23 L670.37,200.63 L674.23,193.89 L678.08,187.03 L681.93,180.09 L685.78,173.09 L689.63,166.05 L693.48,159.02 L697.33,152.02 L701.18,145.07 L705.03,138.21 L708.88,131.47 L712.74,124.86 L716.59,118.41 L720.44,112.15 L724.29,106.09 L728.14,100.24 L731.99,94.62 L735.84,89.24" fill="none" stroke="#00BFC4" stroke-opacity="0.13" stroke-width="0.9"/>
<path d="M581.80,297.52 L585.65,295.59 L589.50,293.50 L593.35,291.23 L597.20,288.78 L601.06,286.13 L604.91,283.28 L608.76,280.21 L612.61,276.92 L616.46,273.39 L620.31,269.62 L624.16,265.60 L628.01,261.31 L631.86,256.77 L635.71,251.96 L639.57,246.89 L643.42,241.56 L647.27,235.97 L651.12,230.13 L654.97,224.05 L658.82,217.75 L662.67,211.25 L666.52,204.55 L670.37,197.70 L674.23,190.70 L678.08,183.60 L681.93,176.42 L685.78,169.19 L689.63,161.95 L693.48,154.73 L697.33,147.55 L701.18,140.46 L705.03,133.48 L708.88,126.64 L712.74,119.96 L716.59,113.47 L720.44,107.19 L724.29,101.13 L728.14,95.31 L731.99,89.75 L735.84,84.44" fill="none" stroke="#00BFC4" stroke-opacity="0.13" stroke-width="0.9"/>
<path d="M581.80,292.38 L585.65,290.39 L589.50,288.27 L593.35,286.00 L597.20,283.59 L601.06,281.02 L604.91,278.29 L608.76,275.40 L612.61,272.33 L616.46,269.09 L620.31,265.66 L624.16,262.05 L628.01,258.25 L631.86,254.26 L635.71,250.08 L639.57,245.71 L643.42,241.15 L647.27,236.41 L651.12,231.49 L654.97,226.40 L658.82,221.14 L662.67,215.72 L666.52,210.16 L670.37,204.47 L674.23,198.66 L678.08,192.76 L681.93,186.76 L685.78,180.70 L689.63,174.60 L693.48,168.46 L697.33,162.32 L701.18,156.19 L705.03,150.09 L708.88,144.04 L712.74,138.06 L716.59,132.16 L720.44,126.37 L724.29,120.70 L728.14,115.17 L731.99,109.78 L735.84,104.55" fill="none" stroke="#00BFC4" stroke-opacity="0.13" stroke-width="0.9"/>
<path d="M581.80,284.09 L585.65,281.37 L589.50,278.47 L593.35,275.38 L597.20,272.09 L601.06,268.59 L604.91,264.89 L608.76,260.98 L612.61,256.85 L616.46,252.51 L620.31,247.95 L624.16,243.17 L628.01,238.18 L631.86,232.98 L635.71,227.58 L639.57,221.98 L643.42,216.21 L647.27,210.28 L651.12,204.19 L654.97,197.97 L658.82,191.63 L662.67,185.21 L666.52,178.71 L670.37,172.17 L674.23,165.60 L678.08,159.03 L681.93,152.49 L685.78,146.00 L689.63,139.58 L693.48,133.26 L697.33,127.05 L701.18,120.97 L705.03,115.05 L708.88,109.30 L712.74,103.72 L716.59,98.34 L720.44,93.16 L724.29,88.19 L728.14,83.43 L731.99,78.88 L735.84,74.56" fill="none" stroke="#00BFC4" stroke-opacity="0.13" stroke-width="0.9"/>
<path d="M581.80,283.16 L585.65,280.71 L589.50,278.12 L593.35,275.39 L597.20,272.49 L601.06,269.45 L604.91,266.24 L608.76,262.86 L612.61,259.32 L616.46,255.61 L620.31,251.73 L624.16,247.68 L628.01,243.46 L631.86,239.08 L635.71,234.53 L639.57,229.83 L643.42,224.97 L647.27,219.97 L651.12,214.83 L654.97,209.57 L658.82,204.19 L662.67,198.71 L666.52,193.13 L670.37,187.48 L674.23,181.77 L678.08,176.02 L681.93,170.23 L685.78,164.43 L689.63,158.64 L693.48,152.87 L697.33,147.13 L701.18,141.45 L705.03,135.84 L708.88,130.31 L712.74,124.87 L716.59,119.55 L720.44,114.35 L724.29,109.28 L728.14,104.35 L731.99,99.57 L735.84,94.95" fill="none" stroke="#00BFC4" stroke-opacity="0.13" stroke-width="0.9"/>
<path d="M581.80,290.29 L585.65,288.07 L589.50,285.70 L593.35,283.16 L597.20,280.46 L601.06,277.59 L604.91,274.53 L608.76,271.28 L612.61,267.84 L616.46,264.20 L620.31,260.37 L624.16,256.32 L628.01,252.07 L631.86,247.62 L635.71,242.96 L639.57,238.10 L643.42,233.04 L647.27,227.80 L651.12,222.37 L654.97,216.77 L658.82,211.02 L662.67,205.12 L666.52,199.09 L670.37,192.95 L674.23,186.72 L678.08,180.42 L681.93,174.06 L685.78,167.68 L689.63,161.29 L693.48,154.92 L697.33,148.59 L701.18,142.32 L705.03,136.12 L708.88,130.03 L712.74,124.06 L716.59,118.22 L720.44,112.53 L724.29,107.01 L728.14,101.66 L731.99,96.50 L735.84,91.53" fill="none" stroke="#00BFC4" stroke-opacity="0.13" stroke-width="0.9"/>
<path d="M581.80,291.54 L585.65,289.37 L589.50,287.04 L593.35,284.55 L597.20,281.89 L601.06,279.05 L604.91,276.02 L608.76,272.80 L612.61,269.38 L616.46,265.76 L620.31,261.93 L624.16,257.89 L628.01,253.64 L631.86,249.17 L635.71,244.49 L639.57,239.60 L643.42,234.51 L647.27,229.21 L651.12,223.72 L654.97,218.06 L658.82,212.22 L662.67,206.24 L666.52,200.11 L670.37,193.87 L674.23,187.53 L678.08,181.11 L681.93,174.64 L685.78,168.13 L689.63,161.62 L693.48,155.12 L697.33,148.67 L701.18,142.27 L705.03,135.96 L708.88,129.75 L712.74,123.67 L716.59,117.73 L720.44,111.94 L724.29,106.33 L728.14,100.90 L731.99,95.67 L735.84,90.64" fill="none" stroke="#00BFC4" stroke-opacity="0.13" stroke-width="0.9"/>
<path d="M581.80,277.92 L585.65,274.90 L589.50,271.69 L593.35,268.29 L597.20,264.69 L601.06,260.90 L604.91,256.90 L608.76,252.70 L612.61,248.30 L616.46,243.69 L620.31,238.88 L624.16,233.88 L628.01,228.69 L631.86,223.31 L635.71,217.77 L639.57,212.07 L643.42,206.22 L647.27,200.24 L651.12,194.14 L654.97,187.96 L658.82,181.70 L662.67,175.38 L666.52,169.03 L670.37,162.67 L674.23,156.32 L678.08,150.01 L681.93,143.74 L685.78,137.56 L689.63,131.47 L693.48,125.49 L697.33,119.64 L701.18,113.94 L705.03,108.40 L708.88,103.03 L712.74,97.84 L716.59,92.84 L720.44,88.04 L724.29,83.43 L728.14,79.03 L731.99,74.83 L735.84,70.84" fill="none" stroke="#00BFC4" stroke-opacity="0.13" stroke-width="0.9"/>
<path d="M581.80,300.66 L585.65,299.06 L589.50,297.32 L593.35,295.44 L597.20,293.41 L601.06,291.21 L604.91,288.84 L608.76,286.30 L612.61,283.56 L616.46,280.62 L620.31,277.47 L624.16,274.11 L628.01,270.51 L631.86,266.69 L635.71,262.62 L639.57,258.32 L643.42,253.76 L647.27,248.96 L651.12,243.92 L654.97,238.63 L658.82,233.11 L662.67,227.35 L666.52,221.39 L670.37,215.22 L674.23,208.86 L678.08,202.34 L681.93,195.68 L685.78,188.89 L689.63,182.01 L693.48,175.06 L697.33,168.08 L701.18,161.09 L705.03,154.11 L708.88,147.19 L712.74,140.34 L716.59,133.60 L720.44,126.98 L724.29,120.52 L728.14,114.23 L731.99,108.14 L735.84,102.25" fill="none" stroke="#00BFC4" stroke-opacity="0.13" stroke-width="0.9"/>
<path d="M581.80,293.09 L585.65,290.87 L589.50,288.47 L593.35,285.89 L597.20,283.12 L601.06,280.14 L604.91,276.95 L608.76,273.54 L612.61,269.90 L616.46,266.03 L620.31,261.91 L624.16,257.56 L628.01,252.95 L631.86,248.10 L635.71,243.00 L639.57,237.66 L643.42,232.08 L647.27,226.27 L651.12,220.25 L654.97,214.04 L658.82,207.63 L662.67,201.07 L666.52,194.36 L670.37,187.54 L674.23,180.63 L678.08,173.66 L681.93,166.66 L685.78,159.65 L689.63,152.67 L693.48,145.74 L697.33,138.90 L701.18,132.17 L705.03,125.57 L708.88,119.13 L712.74,112.87 L716.59,106.81 L720.44,100.96 L724.29,95.33 L728.14,89.94 L731.99,84.78 L735.84,79.88" fill="none" stroke="#00BFC4" stroke-opacity="0.13" stroke-width="0.9"/>
<path d="M581.80,287.00 L585.65,284.30 L589.50,281.40 L593.35,278.29 L597.20,274.97 L601.06,271.42 L604.91,267.64 L608.76,263.61 L612.61,259.35 L616.46,254.83 L620.31,250.07 L624.16,245.06 L628.01,239.80 L631.86,234.30 L635.71,228.58 L639.57,222.63 L643.42,216.47 L647.27,210.13 L651.12,203.61 L654.97,196.95 L658.82,190.15 L662.67,183.26 L666.52,176.30 L670.37,169.29 L674.23,162.26 L678.08,155.25 L681.93,148.29 L685.78,141.40 L689.63,134.61 L693.48,127.95 L697.33,121.44 L701.18,115.10 L705.03,108.95 L708.88,103.01 L712.74,97.29 L716.59,91.81 L720.44,86.56 L724.29,81.56 L728.14,76.80 L731.99,72.30 L735.84,68.04" fill="none" stroke="#00BFC4" stroke-opacity="0.13" stroke-width="0.9"/>
<path d="M581.80,264.42 L585.65,261.84 L589.50,259.16 L593.35,256.39 L597.20,253.53 L601.06,250.56 L604.91,247.51 L608.76,244.36 L612.61,241.11 L616.46,237.77 L620.31,234.35 L624.16,230.83 L628.01,227.23 L631.86,223.54 L635.71,219.77 L639.57,215.93 L643.42,212.01 L647.27,208.03 L651.12,203.98 L654.97,199.88 L658.82,195.72 L662.67,191.52 L666.52,187.28 L670.37,183.00 L674.23,178.69 L678.08,174.37 L681.93,170.03 L685.78,165.68 L689.63,161.33 L693.48,157.00 L697.33,152.67 L701.18,148.37 L705.03,144.09 L708.88,139.85 L712.74,135.65 L716.59,131.50 L720.44,127.40 L724.29,123.36 L728.14,119.39 L731.99,115.48 L735.84,111.64" fill="none" stroke="#00BFC4" stroke-opacity="0.13" stroke-width="0.9"/>
<path d="M581.80,284.90 L585.65,282.70 L589.50,280.38 L593.35,277.93 L597.20,275.35 L601.06,272.64 L604.91,269.78 L608.76,266.79 L612.61,263.64 L616.46,260.36 L620.31,256.92 L624.16,253.33 L628.01,249.60 L631.86,245.71 L635.71,241.68 L639.57,237.50 L643.42,233.18 L647.27,228.72 L651.12,224.12 L654.97,219.40 L658.82,214.56 L662.67,209.61 L666.52,204.56 L670.37,199.41 L674.23,194.19 L678.08,188.89 L681.93,183.54 L685.78,178.14 L689.63,172.71 L693.48,167.26 L697.33,161.81 L701.18,156.37 L705.03,150.96 L708.88,145.58 L712.74,140.25 L716.59,134.99 L720.44,129.80 L724.29,124.70 L728.14,119.70 L731.99,114.80 L735.84,110.02" fill="none" stroke="#00BFC4" stroke-opacity="0.13" stroke-width="0.9"/>
<path d="M581.80,289.13 L585.65,287.22 L589.50,285.21 L593.35,283.08 L597.20,280.84 L601.06,278.47 L604.91,275.98 L608.76,273.36 L612.61,270.61 L616.46,267.72 L620.31,264.70 L624.16,261.53 L628.01,258.23 L631.86,254.78 L635.71,251.19 L639.57,247.45 L643.42,243.58 L647.27,239.56 L651.12,235.41 L654.97,231.12 L658.82,226.70 L662.67,222.16 L666.52,217.50 L670.37,212.73 L674.23,207.86 L678.08,202.89 L681.93,197.83 L685.78,192.70 L689.63,187.51 L693.48,182.27 L697.33,176.99 L701.18,171.68 L705.03,166.35 L708.88,161.03 L712.74,155.72 L716.59,150.43 L720.44,145.18 L724.29,139.98 L728.14,134.84 L731.99,129.77 L735.84,124.78" fill="none" stroke="#00BFC4" stroke-opacity="0.13" stroke-width="0.9"/>
<path d="M581.80,273.77 L585.65,270.64 L589.50,267.34 L593.35,263.86 L597.20,260.19 L601.06,256.34 L604.91,252.30 L608.76,248.08 L612.61,243.67 L616.46,239.08 L620.31,234.32 L624.16,229.37 L628.01,224.26 L631.86,219.00 L635.71,213.58 L639.57,208.03 L643.42,202.36 L647.27,196.58 L651.12,190.70 L654.97,184.75 L658.82,178.74 L662.67,172.68 L666.52,166.61 L670.37,160.53 L674.23,154.48 L678.08,148.45 L681.93,142.48 L685.78,136.59 L689.63,130.78 L693.48,125.08 L697.33,119.50 L701.18,114.05 L705.03,108.75 L708.88,103.61 L712.74,98.62 L716.59,93.81 L720.44,89.18 L724.29,84.73 L728.14,80.47 L731.99,76.39 L735.84,72.49" fill="none" stroke="#00BFC4" stroke-opacity="0.13" stroke-width="0.9"/>
<path d="M581.80,285.44 L585.65,283.20 L589.50,280.83 L593.35,278.32 L597.20,275.66 L601.06,272.87 L604.91,269.92 L608.76,266.83 L612.61,263.57 L616.46,260.16 L620.31,256.60 L624.16,252.87 L628.01,248.98 L631.86,244.93 L635.71,240.72 L639.57,236.36 L643.42,231.84 L647.27,227.18 L651.12,222.38 L654.97,217.45 L658.82,212.39 L662.67,207.21 L666.52,201.93 L670.37,196.56 L674.23,191.11 L678.08,185.59 L681.93,180.02 L685.78,174.41 L689.63,168.78 L693.48,163.13 L697.33,157.50 L701.18,151.89 L705.03,146.32 L708.88,140.80 L712.74,135.34 L716.59,129.97 L720.44,124.69 L724.29,119.51 L728.14,114.45 L731.99,109.51 L735.84,104.71" fill="none" stroke="#00BFC4" stroke-opacity="0.13" stroke-width="0.9"/>
<path d="M581.80,296.15 L585.65,294.15 L589.50,291.99 L593.35,289.66 L597.20,287.14 L601.06,284.43 L604.91,281.52 L608.76,278.39 L612.61,275.05 L616.46,271.47 L620.31,267.66 L624.16,263.60 L628.01,259.30 L631.86,254.74 L635.71,249.94 L639.57,244.88 L643.42,239.57 L647.27,234.01 L651.12,228.23 L654.97,222.22 L658.82,216.00 L662.67,209.59 L666.52,203.00 L670.37,196.27 L674.23,189.41 L678.08,182.45 L681.93,175.42 L685.78,168.35 L689.63,161.27 L693.48,154.21 L697.33,147.20 L701.18,140.26 L705.03,133.44 L708.88,126.75 L712.74,120.22 L716.59,113.86 L720.44,107.70 L724.29,101.76 L728.14,96.05 L731.99,90.57 L735.84,85.34" fill="none" stroke="#00BFC4" stroke-opacity="0.13" stroke-width="0.9"/>
<path d="M581.80,305.78 L585.65,304.40 L589.50,302.88 L593.35,301.21 L597.20,299.37 L601.06,297.35 L604.91,295.13 L608.76,292.70 L612.61,290.04 L616.46,287.14 L620.31,283.98 L624.16,280.54 L628.01,276.82 L631.86,272.79 L635.71,268.45 L639.57,263.78 L643.42,258.78 L647.27,253.45 L651.12,247.77 L654.97,241.75 L658.82,235.41 L662.67,228.74 L666.52,221.78 L670.37,214.53 L674.23,207.04 L678.08,199.32 L681.93,191.42 L685.78,183.37 L689.63,175.23 L693.48,167.03 L697.33,158.82 L701.18,150.66 L705.03,142.58 L708.88,134.64 L712.74,126.86 L716.59,119.30 L720.44,111.98 L724.29,104.94 L728.14,98.19 L731.99,91.76 L735.84,85.65" fill="none" stroke="#00BFC4" stroke-opacity="0.13" stroke-width="0.9"/>
<path d="M581.80,294.19 L585.65,292.21 L589.50,290.10 L593.35,287.83 L597.20,285.40 L601.06,282.81 L604.91,280.04 L608.76,277.09 L612.61,273.95 L616.46,270.61 L620.31,267.07 L624.16,263.33 L628.01,259.38 L631.86,255.22 L635.71,250.85 L639.57,246.27 L643.42,241.47 L647.27,236.47 L651.12,231.27 L654.97,225.87 L658.82,220.30 L662.67,214.55 L666.52,208.64 L670.37,202.59 L674.23,196.42 L678.08,190.14 L681.93,183.77 L685.78,177.34 L689.63,170.87 L693.48,164.38 L697.33,157.90 L701.18,151.44 L705.03,145.04 L708.88,138.71 L712.74,132.48 L716.59,126.36 L720.44,120.38 L724.29,114.54 L728.14,108.87 L731.99,103.38 L735.84,98.07" fill="none" stroke="#00BFC4" stroke-opacity="0.13" stroke-width="0.9"/>
<path d="M581.80,307.73 L585.65,306.53 L589.50,305.19 L593.35,303.72 L597.20,302.09 L601.06,300.29 L604.91,298.31 L608.76,296.13 L612.61,293.74 L616.46,291.12 L620.31,288.24 L624.16,285.11 L628.01,281.69 L631.86,277.97 L635.71,273.94 L639.57,269.58 L643.42,264.88 L647.27,259.84 L651.12,254.44 L654.97,248.69 L658.82,242.58 L662.67,236.12 L666.52,229.33 L670.37,222.22 L674.23,214.82 L678.08,207.15 L681.93,199.25 L685.78,191.16 L689.63,182.92 L693.48,174.57 L697.33,166.18 L701.18,157.78 L705.03,149.43 L708.88,141.18 L712.74,133.08 L716.59,125.16 L720.44,117.48 L724.29,110.05 L728.14,102.93 L731.99,96.11 L735.84,89.64" fill="none" stroke="#00BFC4" stroke-opacity="0.13" stroke-width="0.9"/>
<path d="M581.80,291.32 L585.65,288.72 L589.50,285.90 L593.35,282.85 L597.20,279.55 L601.06,276.00 L604.91,272.18 L608.76,268.08 L612.61,263.70 L616.46,259.02 L620.31,254.05 L624.16,248.78 L628.01,243.22 L631.86,237.36 L635.71,231.22 L639.57,224.82 L643.42,218.15 L647.27,211.26 L651.12,204.15 L654.97,196.86 L658.82,189.42 L662.67,181.87 L666.52,174.24 L670.37,166.56 L674.23,158.88 L678.08,151.24 L681.93,143.67 L685.78,136.21 L689.63,128.89 L693.48,121.75 L697.33,114.82 L701.18,108.11 L705.03,101.66 L708.88,95.47 L712.74,89.57 L716.59,83.95 L720.44,78.63 L724.29,73.61 L728.14,68.88 L731.99,64.45 L735.84,60.30" fill="none" stroke="#00BFC4" stroke-opacity="0.13" stroke-width="0.9"/>
<path d="M581.80,293.79 L585.65,291.84 L589.50,289.74 L593.35,287.50 L597.20,285.11 L601.06,282.56 L604.91,279.83 L608.76,276.94 L612.61,273.86 L616.46,270.60 L620.31,267.14 L624.16,263.49 L628.01,259.64 L631.86,255.59 L635.71,251.34 L639.57,246.88 L643.42,242.22 L647.27,237.37 L651.12,232.32 L654.97,227.08 L658.82,221.67 L662.67,216.09 L666.52,210.36 L670.37,204.49 L674.23,198.49 L678.08,192.38 L681.93,186.19 L685.78,179.92 L689.63,173.61 L693.48,167.27 L697.33,160.93 L701.18,154.60 L705.03,148.32 L708.88,142.09 L712.74,135.94 L716.59,129.90 L720.44,123.97 L724.29,118.17 L728.14,112.52 L731.99,107.04 L735.84,101.72" fill="none" stroke="#00BFC4" stroke-opacity="0.13" stroke-width="0.9"/>
<path d="M581.80,294.42 L585.65,292.57 L589.50,290.58 L593.35,288.46 L597.20,286.19 L601.06,283.78 L604.91,281.21 L608.76,278.48 L612.61,275.58 L616.46,272.50 L620.31,269.25 L624.16,265.82 L628.01,262.20 L631.86,258.38 L635.71,254.38 L639.57,250.18 L643.42,245.80 L647.27,241.22 L651.12,236.46 L654.97,231.51 L658.82,226.39 L662.67,221.10 L666.52,215.66 L670.37,210.07 L674.23,204.35 L678.08,198.51 L681.93,192.57 L685.78,186.54 L689.63,180.45 L693.48,174.31 L697.33,168.14 L701.18,161.97 L705.03,155.80 L708.88,149.68 L712.74,143.60 L716.59,137.59 L720.44,131.68 L724.29,125.87 L728.14,120.18 L731.99,114.63 L735.84,109.23" fill="none" stroke="#00BFC4" stroke-opacity="0.13" stroke-width="0.9"/>
<path d="M581.80,301.21 L585.65,299.60 L589.50,297.86 L593.35,295.97 L597.20,293.92 L601.06,291.70 L604.91,289.31 L608.76,286.72 L612.61,283.93 L616.46,280.93 L620.31,277.72 L624.16,274.27 L628.01,270.58 L631.86,266.64 L635.71,262.46 L639.57,258.01 L643.42,253.31 L647.27,248.34 L651.12,243.12 L654.97,237.64 L658.82,231.91 L662.67,225.94 L666.52,219.75 L670.37,213.35 L674.23,206.76 L678.08,200.00 L681.93,193.09 L685.78,186.07 L689.63,178.96 L693.48,171.80 L697.33,164.60 L701.18,157.42 L705.03,150.27 L708.88,143.18 L712.74,136.20 L716.59,129.35 L720.44,122.64 L724.29,116.12 L728.14,109.79 L731.99,103.68 L735.84,97.80" fill="none" stroke="#00BFC4" stroke-opacity="0.13" stroke-width="0.9"/>
<path d="M581.80,302.68 L585.65,301.40 L589.50,300.02 L593.35,298.55 L597.20,296.96 L601.06,295.25 L604.91,293.42 L608.76,291.47 L612.61,289.37 L616.46,287.13 L620.31,284.74 L624.16,282.19 L628.01,279.48 L631.86,276.60 L635.71,273.54 L639.57,270.29 L643.42,266.86 L647.27,263.24 L651.12,259.42 L654.97,255.40 L658.82,251.19 L662.67,246.78 L666.52,242.17 L670.37,237.37 L674.23,232.38 L678.08,227.21 L681.93,221.87 L685.78,216.36 L689.63,210.70 L693.48,204.90 L697.33,198.98 L701.18,192.95 L705.03,186.84 L708.88,180.65 L712.74,174.42 L716.59,168.16 L720.44,161.89 L724.29,155.63 L728.14,149.41 L731.99,143.24 L735.84,137.15" fill="none" stroke="#00BFC4" stroke-opacity="0.13" stroke-width="0.9"/>
<path d="M581.80,299.37 L585.65,297.42 L589.50,295.28 L593.35,292.95 L597.20,290.41 L601.06,287.64 L604.91,284.64 L608.76,281.38 L612.61,277.85 L616.46,274.05 L620.31,269.96 L624.16,265.56 L628.01,260.86 L631.86,255.84 L635.71,250.50 L639.57,244.85 L643.42,238.89 L647.27,232.62 L651.12,226.06 L654.97,219.23 L658.82,212.14 L662.67,204.83 L666.52,197.32 L670.37,189.65 L674.23,181.86 L678.08,173.98 L681.93,166.05 L685.78,158.13 L689.63,150.25 L693.48,142.45 L697.33,134.77 L701.18,127.26 L705.03,119.94 L708.88,112.84 L712.74,106.00 L716.59,99.43 L720.44,93.15 L724.29,87.17 L728.14,81.51 L731.99,76.16 L735.84,71.13" fill="none" stroke="#00BFC4" stroke-opacity="0.13" stroke-width="0.9"/>
<path d="M581.80,305.11 L585.65,303.95 L589.50,302.70 L593.35,301.35 L597.20,299.89 L601.06,298.31 L604.91,296.62 L608.76,294.79 L612.61,292.82 L616.46,290.71 L620.31,288.44 L624.16,286.00 L628.01,283.40 L631.86,280.61 L635.71,277.64 L639.57,274.47 L643.42,271.10 L647.27,267.52 L651.12,263.73 L654.97,259.72 L658.82,255.50 L662.67,251.05 L666.52,246.38 L670.37,241.50 L674.23,236.40 L678.08,231.09 L681.93,225.58 L685.78,219.88 L689.63,214.00 L693.48,207.96 L697.33,201.78 L701.18,195.47 L705.03,189.05 L708.88,182.54 L712.74,175.98 L716.59,169.37 L720.44,162.76 L724.29,156.15 L728.14,149.58 L731.99,143.07 L735.84,136.65" fill="none" stroke="#00BFC4" stroke-opacity="0.13" stroke-width="0.9"/>
<path d="M581.80,292.73 L585.65,290.77 L589.50,288.68 L593.35,286.45 L597.20,284.07 L601.06,281.55 L604.91,278.86 L608.76,276.01 L612.61,272.99 L616.46,269.79 L620.31,266.42 L624.16,262.86 L628.01,259.12 L631.86,255.18 L635.71,251.06 L639.57,246.75 L643.42,242.26 L647.27,237.58 L651.12,232.72 L654.97,227.68 L658.82,222.48 L662.67,217.12 L666.52,211.62 L670.37,205.98 L674.23,200.23 L678.08,194.36 L681.93,188.41 L685.78,182.39 L689.63,176.32 L693.48,170.21 L697.33,164.09 L701.18,157.97 L705.03,151.89 L708.88,145.84 L712.74,139.86 L716.59,133.96 L720.44,128.16 L724.29,122.47 L728.14,116.91 L731.99,111.49 L735.84,106.22" fill="none" stroke="#00BFC4" stroke-opacity="0.13" stroke-width="0.9"/>
<path d="M581.80,298.89 L585.65,296.98 L589.50,294.89 L593.35,292.61 L597.20,290.14 L601.06,287.46 L604.91,284.56 L608.76,281.42 L612.61,278.03 L616.46,274.39 L620.31,270.48 L624.16,266.29 L628.01,261.81 L631.86,257.05 L635.71,251.99 L639.57,246.64 L643.42,241.00 L647.27,235.07 L651.12,228.87 L654.97,222.41 L658.82,215.70 L662.67,208.77 L666.52,201.64 L670.37,194.35 L674.23,186.92 L678.08,179.38 L681.93,171.78 L685.78,164.15 L689.63,156.52 L693.48,148.95 L697.33,141.45 L701.18,134.08 L705.03,126.86 L708.88,119.82 L712.74,112.99 L716.59,106.39 L720.44,100.05 L724.29,93.97 L728.14,88.17 L731.99,82.66 L735.84,77.45" fill="none" stroke="#00BFC4" stroke-opacity="0.13" stroke-width="0.9"/>
<path d="M581.80,277.36 L585.65,274.88 L589.50,272.28 L593.35,269.55 L597.20,266.70 L601.06,263.71 L604.91,260.59 L608.76,257.34 L612.61,253.95 L616.46,250.43 L620.31,246.77 L624.16,242.98 L628.01,239.06 L631.86,235.00 L635.71,230.82 L639.57,226.52 L643.42,222.10 L647.27,217.56 L651.12,212.93 L654.97,208.19 L658.82,203.36 L662.67,198.46 L666.52,193.48 L670.37,188.44 L674.23,183.35 L678.08,178.21 L681.93,173.06 L685.78,167.88 L689.63,162.70 L693.48,157.53 L697.33,152.37 L701.18,147.25 L705.03,142.17 L708.88,137.15 L712.74,132.18 L716.59,127.29 L720.44,122.49 L724.29,117.77 L728.14,113.16 L731.99,108.65 L735.84,104.26" fill="none" stroke="#00BFC4" stroke-opacity="0.13" stroke-width="0.9"/>
<path d="M581.80,300.58 L585.65,298.98 L589.50,297.26 L593.35,295.39 L597.20,293.38 L601.06,291.21 L604.91,288.87 L608.76,286.35 L612.61,283.64 L616.46,280.74 L620.31,277.63 L624.16,274.31 L628.01,270.77 L631.86,267.00 L635.71,263.00 L639.57,258.75 L643.42,254.27 L647.27,249.55 L651.12,244.59 L654.97,239.38 L658.82,233.95 L662.67,228.29 L666.52,222.42 L670.37,216.34 L674.23,210.09 L678.08,203.66 L681.93,197.09 L685.78,190.40 L689.63,183.61 L693.48,176.74 L697.33,169.84 L701.18,162.91 L705.03,156.00 L708.88,149.13 L712.74,142.33 L716.59,135.62 L720.44,129.03 L724.29,122.58 L728.14,116.30 L731.99,110.20 L735.84,104.30" fill="none" stroke="#00BFC4" stroke-opacity="0.13" stroke-width="0.9"/>
<path d="M581.80,297.50 L585.65,295.52 L589.50,293.37 L593.35,291.04 L597.20,288.52 L601.06,285.79 L604.91,282.84 L608.76,279.67 L612.61,276.26 L616.46,272.60 L620.31,268.68 L624.16,264.50 L628.01,260.05 L631.86,255.32 L635.71,250.31 L639.57,245.04 L643.42,239.48 L647.27,233.67 L651.12,227.59 L654.97,221.27 L658.82,214.73 L662.67,207.98 L666.52,201.05 L670.37,193.96 L674.23,186.74 L678.08,179.43 L681.93,172.05 L685.78,164.64 L689.63,157.24 L693.48,149.88 L697.33,142.60 L701.18,135.42 L705.03,128.38 L708.88,121.51 L712.74,114.83 L716.59,108.36 L720.44,102.12 L724.29,96.13 L728.14,90.40 L731.99,84.94 L735.84,79.76" fill="none" stroke="#00BFC4" stroke-opacity="0.13" stroke-width="0.9"/>
<path d="M581.80,301.09 L585.65,299.40 L589.50,297.57 L593.35,295.57 L597.20,293.40 L601.06,291.04 L604.91,288.49 L608.76,285.73 L612.61,282.74 L616.46,279.53 L620.31,276.06 L624.16,272.35 L628.01,268.37 L631.86,264.12 L635.71,259.60 L639.57,254.79 L643.42,249.70 L647.27,244.33 L651.12,238.68 L654.97,232.76 L658.82,226.58 L662.67,220.15 L666.52,213.50 L670.37,206.64 L674.23,199.59 L678.08,192.40 L681.93,185.08 L685.78,177.66 L689.63,170.20 L693.48,162.71 L697.33,155.23 L701.18,147.81 L705.03,140.48 L708.88,133.26 L712.74,126.19 L716.59,119.30 L720.44,112.62 L724.29,106.16 L728.14,99.94 L731.99,93.98 L735.84,88.29" fill="none" stroke="#00BFC4" stroke-opacity="0.13" stroke-width="0.9"/>
<path d="M581.80,292.71 L585.65,290.55 L589.50,288.22 L593.35,285.72 L597.20,283.04 L601.06,280.17 L604.91,277.10 L608.76,273.83 L612.61,270.35 L616.46,266.66 L620.31,262.74 L624.16,258.59 L628.01,254.22 L631.86,249.62 L635.71,244.78 L639.57,239.72 L643.42,234.44 L647.27,228.95 L651.12,223.25 L654.97,217.36 L658.82,211.29 L662.67,205.06 L666.52,198.69 L670.37,192.19 L674.23,185.60 L678.08,178.93 L681.93,172.21 L685.78,165.46 L689.63,158.72 L693.48,152.00 L697.33,145.34 L701.18,138.75 L705.03,132.27 L708.88,125.92 L712.74,119.70 L716.59,113.66 L720.44,107.79 L724.29,102.12 L728.14,96.65 L731.99,91.40 L735.84,86.37" fill="none" stroke="#00BFC4" stroke-opacity="0.13" stroke-width="0.9"/>
<path d="M581.80,292.55 L585.65,290.54 L589.50,288.39 L593.35,286.10 L597.20,283.66 L601.06,281.06 L604.91,278.29 L608.76,275.35 L612.61,272.23 L616.46,268.93 L620.31,265.44 L624.16,261.76 L628.01,257.89 L631.86,253.82 L635.71,249.56 L639.57,245.10 L643.42,240.44 L647.27,235.60 L651.12,230.57 L654.97,225.37 L658.82,220.00 L662.67,214.47 L666.52,208.79 L670.37,202.99 L674.23,197.06 L678.08,191.04 L681.93,184.94 L685.78,178.77 L689.63,172.56 L693.48,166.33 L697.33,160.09 L701.18,153.88 L705.03,147.71 L708.88,141.59 L712.74,135.56 L716.59,129.62 L720.44,123.79 L724.29,118.10 L728.14,112.55 L731.99,107.16 L735.84,101.93" fill="none" stroke="#00BFC4" stroke-opacity="0.13" stroke-width="0.9"/>
<path d="M581.80,271.89 L585.65,269.07 L589.50,266.12 L593.35,263.03 L597.20,259.81 L601.06,256.44 L604.91,252.92 L608.76,249.27 L612.61,245.47 L616.46,241.54 L620.31,237.47 L624.16,233.26 L628.01,228.92 L631.86,224.45 L635.71,219.86 L639.57,215.16 L643.42,210.35 L647.27,205.45 L651.12,200.45 L654.97,195.37 L658.82,190.23 L662.67,185.03 L666.52,179.78 L670.37,174.50 L674.23,169.20 L678.08,163.89 L681.93,158.59 L685.78,153.30 L689.63,148.05 L693.48,142.83 L697.33,137.67 L701.18,132.58 L705.03,127.56 L708.88,122.63 L712.74,117.80 L716.59,113.07 L720.44,108.46 L724.29,103.96 L728.14,99.59 L731.99,95.35 L735.84,91.24" fill="none" stroke="#00BFC4" stroke-opacity="0.13" stroke-width="0.9"/>
<path d="M581.80,277.48 L585.65,274.35 L589.50,271.03 L593.35,267.50 L597.20,263.76 L601.06,259.82 L604.91,255.66 L608.76,251.29 L612.61,246.71 L616.46,241.91 L620.31,236.90 L624.16,231.69 L628.01,226.29 L631.86,220.70 L635.71,214.94 L639.57,209.01 L643.42,202.94 L647.27,196.75 L651.12,190.44 L654.97,184.05 L658.82,177.59 L662.67,171.09 L666.52,164.58 L670.37,158.06 L674.23,151.58 L678.08,145.15 L681.93,138.79 L685.78,132.52 L689.63,126.38 L693.48,120.36 L697.33,114.50 L701.18,108.81 L705.03,103.29 L708.88,97.97 L712.74,92.84 L716.59,87.92 L720.44,83.21 L724.29,78.71 L728.14,74.42 L731.99,70.35 L735.84,66.49" fill="none" stroke="#00BFC4" stroke-opacity="0.13" stroke-width="0.9"/>
<path d="M581.80,266.09 L585.65,262.57 L589.50,258.88 L593.35,255.01 L597.20,250.95 L601.06,246.71 L604.91,242.30 L608.76,237.70 L612.61,232.93 L616.46,227.99 L620.31,222.89 L624.16,217.64 L628.01,212.25 L631.86,206.72 L635.71,201.08 L639.57,195.33 L643.42,189.50 L647.27,183.59 L651.12,177.63 L654.97,171.64 L658.82,165.62 L662.67,159.61 L666.52,153.62 L670.37,147.66 L674.23,141.76 L678.08,135.94 L681.93,130.20 L685.78,124.57 L689.63,119.06 L693.48,113.67 L697.33,108.44 L701.18,103.35 L705.03,98.43 L708.88,93.67 L712.74,89.09 L716.59,84.69 L720.44,80.47 L724.29,76.43 L728.14,72.57 L731.99,68.90 L735.84,65.40" fill="none" stroke="#00BFC4" stroke-opacity="0.13" stroke-width="0.9"/>
<path d="M581.80,286.79 L585.65,284.59 L589.50,282.26 L593.35,279.79 L597.20,277.17 L601.06,274.41 L604.91,271.50 L608.76,268.44 L612.61,265.21 L616.46,261.83 L620.31,258.28 L624.16,254.56 L628.01,250.68 L631.86,246.63 L635.71,242.42 L639.57,238.05 L643.42,233.52 L647.27,228.83 L651.12,224.00 L654.97,219.03 L658.82,213.93 L662.67,208.70 L666.52,203.37 L670.37,197.93 L674.23,192.41 L678.08,186.81 L681.93,181.16 L685.78,175.47 L689.63,169.74 L693.48,164.01 L697.33,158.28 L701.18,152.58 L705.03,146.91 L708.88,141.29 L712.74,135.74 L716.59,130.28 L720.44,124.90 L724.29,119.64 L728.14,114.49 L731.99,109.48 L735.84,104.60" fill="none" stroke="#00BFC4" stroke-opacity="0.13" stroke-width="0.9"/>
<path d="M581.80,295.20 L585.65,293.10 L589.50,290.83 L593.35,288.38 L597.20,285.73 L601.06,282.88 L604.91,279.82 L608.76,276.54 L612.61,273.02 L616.46,269.27 L620.31,265.27 L624.16,261.02 L628.01,256.51 L631.86,251.75 L635.71,246.72 L639.57,241.44 L643.42,235.91 L647.27,230.14 L651.12,224.13 L654.97,217.90 L658.82,211.47 L662.67,204.86 L666.52,198.09 L670.37,191.19 L674.23,184.17 L678.08,177.08 L681.93,169.94 L685.78,162.78 L689.63,155.63 L693.48,148.53 L697.33,141.50 L701.18,134.58 L705.03,127.79 L708.88,121.16 L712.74,114.71 L716.59,108.45 L720.44,102.42 L724.29,96.61 L728.14,91.05 L731.99,85.74 L735.84,80.68" fill="none" stroke="#00BFC4" stroke-opacity="0.13" stroke-width="0.9"/>
<path d="M581.80,275.14 L585.65,272.01 L589.50,268.69 L593.35,265.18 L597.20,261.48 L601.06,257.58 L604.91,253.49 L608.76,249.20 L612.61,244.71 L616.46,240.04 L620.31,235.17 L624.16,230.12 L628.01,224.89 L631.86,219.49 L635.71,213.93 L639.57,208.23 L643.42,202.40 L647.27,196.45 L651.12,190.41 L654.97,184.29 L658.82,178.10 L662.67,171.87 L666.52,165.63 L670.37,159.38 L674.23,153.16 L678.08,146.98 L681.93,140.86 L685.78,134.82 L689.63,128.89 L693.48,123.07 L697.33,117.38 L701.18,111.84 L705.03,106.45 L708.88,101.24 L712.74,96.20 L716.59,91.35 L720.44,86.69 L724.29,82.22 L728.14,77.95 L731.99,73.87 L735.84,69.99" fill="none" stroke="#00BFC4" stroke-opacity="0.13" stroke-width="0.9"/>
<path d="M581.80,306.69 L585.65,305.34 L589.50,303.85 L593.35,302.19 L597.20,300.36 L601.06,298.34 L604.91,296.11 L608.76,293.66 L612.61,290.96 L616.46,288.00 L620.31,284.76 L624.16,281.23 L628.01,277.38 L631.86,273.20 L635.71,268.67 L639.57,263.79 L643.42,258.55 L647.27,252.93 L651.12,246.94 L654.97,240.57 L658.82,233.85 L662.67,226.79 L666.52,219.39 L670.37,211.70 L674.23,203.75 L678.08,195.57 L681.93,187.21 L685.78,178.71 L689.63,170.14 L693.48,161.54 L697.33,152.97 L701.18,144.47 L705.03,136.12 L708.88,127.94 L712.74,119.99 L716.59,112.30 L720.44,104.91 L724.29,97.85 L728.14,91.13 L731.99,84.78 L735.84,78.79" fill="none" stroke="#00BFC4" stroke-opacity="0.13" stroke-width="0.9"/>
<path d="M581.80,293.54 L585.65,291.10 L589.50,288.46 L593.35,285.58 L597.20,282.47 L601.06,279.11 L604.91,275.49 L608.76,271.59 L612.61,267.41 L616.46,262.93 L620.31,258.15 L624.16,253.08 L628.01,247.69 L631.86,242.01 L635.71,236.03 L639.57,229.77 L643.42,223.23 L647.27,216.44 L651.12,209.41 L654.97,202.18 L658.82,194.77 L662.67,187.22 L666.52,179.56 L670.37,171.83 L674.23,164.07 L678.08,156.32 L681.93,148.61 L685.78,141.00 L689.63,133.51 L693.48,126.18 L697.33,119.05 L701.18,112.13 L705.03,105.45 L708.88,99.04 L712.74,92.91 L716.59,87.07 L720.44,81.53 L724.29,76.29 L728.14,71.35 L731.99,66.72 L735.84,62.38" fill="none" stroke="#00BFC4" stroke-opacity="0.13" stroke-width="0.9"/>
<path d="M581.80,271.40 L585.65,268.02 L589.50,264.44 L593.35,260.67 L597.20,256.70 L601.06,252.53 L604.91,248.16 L608.76,243.58 L612.61,238.82 L616.46,233.86 L620.31,228.72 L624.16,223.39 L628.01,217.90 L631.86,212.26 L635.71,206.47 L639.57,200.55 L643.42,194.52 L647.27,188.39 L651.12,182.19 L654.97,175.94 L658.82,169.65 L662.67,163.34 L666.52,157.05 L670.37,150.79 L674.23,144.58 L678.08,138.44 L681.93,132.39 L685.78,126.44 L689.63,120.63 L693.48,114.95 L697.33,109.43 L701.18,104.08 L705.03,98.90 L708.88,93.91 L712.74,89.10 L716.59,84.49 L720.44,80.08 L724.29,75.88 L728.14,71.87 L731.99,68.06 L735.84,64.44" fill="none" stroke="#00BFC4" stroke-opacity="0.13" stroke-width="0.9"/>
<path d="M581.80,302.63 L585.65,301.11 L589.50,299.45 L593.35,297.64 L597.20,295.67 L601.06,293.53 L604.91,291.22 L608.76,288.71 L612.61,285.99 L616.46,283.06 L620.31,279.91 L624.16,276.51 L628.01,272.87 L631.86,268.98 L635.71,264.82 L639.57,260.39 L643.42,255.68 L647.27,250.70 L651.12,245.45 L654.97,239.92 L658.82,234.12 L662.67,228.07 L666.52,221.77 L670.37,215.25 L674.23,208.51 L678.08,201.60 L681.93,194.52 L685.78,187.31 L689.63,180.01 L693.48,172.64 L697.33,165.24 L701.18,157.84 L705.03,150.48 L708.88,143.19 L712.74,136.00 L716.59,128.95 L720.44,122.07 L724.29,115.37 L728.14,108.89 L731.99,102.63 L735.84,96.62" fill="none" stroke="#00BFC4" stroke-opacity="0.13" stroke-width="0.9"/>
<path d="M581.80,263.43 L585.65,260.82 L589.50,258.10 L593.35,255.30 L597.20,252.40 L601.06,249.40 L604.91,246.31 L608.76,243.12 L612.61,239.84 L616.46,236.47 L620.31,233.01 L624.16,229.46 L628.01,225.83 L631.86,222.11 L635.71,218.31 L639.57,214.44 L643.42,210.50 L647.27,206.50 L651.12,202.43 L654.97,198.31 L658.82,194.13 L662.67,189.91 L666.52,185.66 L670.37,181.37 L674.23,177.06 L678.08,172.73 L681.93,168.38 L685.78,164.04 L689.63,159.70 L693.48,155.36 L697.33,151.05 L701.18,146.76 L705.03,142.50 L708.88,138.27 L712.74,134.09 L716.59,129.96 L720.44,125.88 L724.29,121.87 L728.14,117.92 L731.99,114.04 L735.84,110.23" fill="none" stroke="#00BFC4" stroke-opacity="0.13" stroke-width="0.9"/>
<path d="M581.80,281.19 L585.65,277.97 L589.50,274.52 L593.35,270.83 L597.20,266.89 L601.06,262.69 L604.91,258.24 L608.76,253.52 L612.61,248.54 L616.46,243.29 L620.31,237.79 L624.16,232.04 L628.01,226.04 L631.86,219.82 L635.71,213.39 L639.57,206.76 L643.42,199.96 L647.27,193.02 L651.12,185.96 L654.97,178.81 L658.82,171.61 L662.67,164.37 L666.52,157.15 L670.37,149.96 L674.23,142.85 L678.08,135.83 L681.93,128.95 L685.78,122.22 L689.63,115.67 L693.48,109.32 L697.33,103.20 L701.18,97.30 L705.03,91.65 L708.88,86.26 L712.74,81.13 L716.59,76.26 L720.44,71.65 L724.29,67.31 L728.14,63.22 L731.99,59.39 L735.84,55.80" fill="none" stroke="#00BFC4" stroke-opacity="0.13" stroke-width="0.9"/>
<path d="M581.80,270.20 L585.65,267.03 L589.50,263.70 L593.35,260.20 L597.20,256.53 L601.06,252.70 L604.91,248.69 L608.76,244.52 L612.61,240.18 L616.46,235.68 L620.31,231.01 L624.16,226.20 L628.01,221.24 L631.86,216.14 L635.71,210.91 L639.57,205.56 L643.42,200.10 L647.27,194.55 L651.12,188.93 L654.97,183.23 L658.82,177.49 L662.67,171.71 L666.52,165.92 L670.37,160.13 L674.23,154.35 L678.08,148.61 L681.93,142.92 L685.78,137.29 L689.63,131.74 L693.48,126.28 L697.33,120.93 L701.18,115.70 L705.03,110.60 L708.88,105.64 L712.74,100.82 L716.59,96.16 L720.44,91.65 L724.29,87.31 L728.14,83.14 L731.99,79.13 L735.84,75.29" fill="none" stroke="#00BFC4" stroke-opacity="0.13" stroke-width="0.9"/>
<path d="M581.80,292.38 L585.65,290.26 L589.50,287.98 L593.35,285.54 L597.20,282.93 L601.06,280.14 L604.91,277.17 L608.76,274.00 L612.61,270.64 L616.46,267.07 L620.31,263.29 L624.16,259.30 L628.01,255.10 L631.86,250.68 L635.71,246.04 L639.57,241.19 L643.42,236.13 L647.27,230.87 L651.12,225.41 L654.97,219.76 L658.82,213.94 L662.67,207.97 L666.52,201.84 L670.37,195.60 L674.23,189.25 L678.08,182.81 L681.93,176.31 L685.78,169.78 L689.63,163.23 L693.48,156.69 L697.33,150.18 L701.18,143.74 L705.03,137.37 L708.88,131.10 L712.74,124.95 L716.59,118.95 L720.44,113.10 L724.29,107.42 L728.14,101.92 L731.99,96.62 L735.84,91.53" fill="none" stroke="#00BFC4" stroke-opacity="0.13" stroke-width="0.9"/>
<path d="M581.80,300.38 L585.65,298.70 L589.50,296.87 L593.35,294.88 L597.20,292.73 L601.06,290.40 L604.91,287.88 L608.76,285.17 L612.61,282.25 L616.46,279.10 L620.31,275.73 L624.16,272.12 L628.01,268.27 L631.86,264.16 L635.71,259.79 L639.57,255.16 L643.42,250.27 L647.27,245.11 L651.12,239.69 L654.97,234.02 L658.82,228.10 L662.67,221.95 L666.52,215.58 L670.37,209.01 L674.23,202.27 L678.08,195.37 L681.93,188.34 L685.78,181.21 L689.63,174.02 L693.48,166.78 L697.33,159.55 L701.18,152.34 L705.03,145.20 L708.88,138.14 L712.74,131.21 L716.59,124.42 L720.44,117.81 L724.29,111.39 L728.14,105.18 L731.99,99.21 L735.84,93.47" fill="none" stroke="#00BFC4" stroke-opacity="0.13" stroke-width="0.9"/>
<path d="M581.80,307.75 L585.65,306.58 L589.50,305.28 L593.35,303.84 L597.20,302.26 L601.06,300.52 L604.91,298.61 L608.76,296.50 L612.61,294.20 L616.46,291.67 L620.31,288.91 L624.16,285.90 L628.01,282.63 L631.86,279.07 L635.71,275.21 L639.57,271.05 L643.42,266.56 L647.27,261.75 L651.12,256.59 L654.97,251.10 L658.82,245.26 L662.67,239.09 L666.52,232.59 L670.37,225.77 L674.23,218.67 L678.08,211.29 L681.93,203.67 L685.78,195.85 L689.63,187.85 L693.48,179.74 L697.33,171.54 L701.18,163.31 L705.03,155.10 L708.88,146.95 L712.74,138.90 L716.59,131.01 L720.44,123.31 L724.29,115.84 L728.14,108.63 L731.99,101.71 L735.84,95.09" fill="none" stroke="#00BFC4" stroke-opacity="0.13" stroke-width="0.9"/>
<path d="M581.80,269.15 L585.65,266.37 L589.50,263.47 L593.35,260.44 L597.20,257.29 L601.06,254.01 L604.91,250.60 L608.76,247.07 L612.61,243.41 L616.46,239.63 L620.31,235.73 L624.16,231.70 L628.01,227.56 L631.86,223.31 L635.71,218.95 L639.57,214.49 L643.42,209.94 L647.27,205.30 L651.12,200.58 L654.97,195.79 L658.82,190.94 L662.67,186.04 L666.52,181.09 L670.37,176.11 L674.23,171.11 L678.08,166.09 L681.93,161.08 L685.78,156.08 L689.63,151.10 L693.48,146.15 L697.33,141.24 L701.18,136.38 L705.03,131.59 L708.88,126.86 L712.74,122.21 L716.59,117.65 L720.44,113.19 L724.29,108.82 L728.14,104.56 L731.99,100.42 L735.84,96.38" fill="none" stroke="#00BFC4" stroke-opacity="0.13" stroke-width="0.9"/>
<path d="M581.80,267.48 L585.65,264.46 L589.50,261.30 L593.35,258.00 L597.20,254.56 L601.06,250.98 L604.91,247.25 L608.76,243.38 L612.61,239.38 L616.46,235.24 L620.31,230.97 L624.16,226.56 L628.01,222.04 L631.86,217.39 L635.71,212.64 L639.57,207.79 L643.42,202.84 L647.27,197.81 L651.12,192.70 L654.97,187.53 L658.82,182.31 L662.67,177.05 L666.52,171.77 L670.37,166.47 L674.23,161.17 L678.08,155.88 L681.93,150.61 L685.78,145.38 L689.63,140.20 L693.48,135.08 L697.33,130.03 L701.18,125.06 L705.03,120.19 L708.88,115.41 L712.74,110.75 L716.59,106.20 L720.44,101.77 L724.29,97.46 L728.14,93.30 L731.99,89.26 L735.84,85.37" fill="none" stroke="#00BFC4" stroke-opacity="0.13" stroke-width="0.9"/>
<path d="M581.80,289.47 L585.65,287.18 L589.50,284.74 L593.35,282.13 L597.20,279.34 L601.06,276.38 L604.91,273.23 L608.76,269.89 L612.61,266.35 L616.46,262.61 L620.31,258.66 L624.16,254.51 L628.01,250.15 L631.86,245.58 L635.71,240.81 L639.57,235.83 L643.42,230.67 L647.27,225.31 L651.12,219.77 L654.97,214.07 L658.82,208.21 L662.67,202.22 L666.52,196.10 L670.37,189.89 L674.23,183.59 L678.08,177.22 L681.93,170.82 L685.78,164.40 L689.63,157.99 L693.48,151.60 L697.33,145.26 L701.18,139.00 L705.03,132.83 L708.88,126.77 L712.74,120.83 L716.59,115.05 L720.44,109.42 L724.29,103.97 L728.14,98.70 L731.99,93.62 L735.84,88.74" fill="none" stroke="#00BFC4" stroke-opacity="0.13" stroke-width="0.9"/>
<path d="M581.80,281.56 L585.65,278.44 L589.50,275.10 L593.35,271.53 L597.20,267.73 L601.06,263.68 L604.91,259.39 L608.76,254.84 L612.61,250.04 L616.46,244.99 L620.31,239.69 L624.16,234.15 L628.01,228.38 L631.86,222.38 L635.71,216.17 L639.57,209.77 L643.42,203.20 L647.27,196.48 L651.12,189.63 L654.97,182.68 L658.82,175.66 L662.67,168.60 L666.52,161.52 L670.37,154.47 L674.23,147.46 L678.08,140.54 L681.93,133.71 L685.78,127.02 L689.63,120.49 L693.48,114.13 L697.33,107.97 L701.18,102.03 L705.03,96.31 L708.88,90.82 L712.74,85.58 L716.59,80.60 L720.44,75.86 L724.29,71.37 L728.14,67.14 L731.99,63.15 L735.84,59.40" fill="none" stroke="#00BFC4" stroke-opacity="0.13" stroke-width="0.9"/>
<path d="M581.80,274.56 L585.65,271.98 L589.50,269.29 L593.35,266.46 L597.20,263.51 L601.06,260.44 L604.91,257.23 L608.76,253.89 L612.61,250.42 L616.46,246.82 L620.31,243.09 L624.16,239.23 L628.01,235.25 L631.86,231.14 L635.71,226.91 L639.57,222.57 L643.42,218.12 L647.27,213.57 L651.12,208.92 L654.97,204.18 L658.82,199.36 L662.67,194.47 L666.52,189.52 L670.37,184.52 L674.23,179.48 L678.08,174.41 L681.93,169.32 L685.78,164.22 L689.63,159.12 L693.48,154.04 L697.33,148.99 L701.18,143.97 L705.03,139.00 L708.88,134.09 L712.74,129.25 L716.59,124.48 L720.44,119.80 L724.29,115.22 L728.14,110.73 L731.99,106.35 L735.84,102.08" fill="none" stroke="#00BFC4" stroke-opacity="0.13" stroke-width="0.9"/>
<path d="M581.80,285.71 L585.65,283.22 L589.50,280.56 L593.35,277.74 L597.20,274.74 L601.06,271.56 L604.91,268.19 L608.76,264.64 L612.61,260.88 L616.46,256.93 L620.31,252.78 L624.16,248.44 L628.01,243.89 L631.86,239.15 L635.71,234.22 L639.57,229.10 L643.42,223.80 L647.27,218.34 L651.12,212.72 L654.97,206.95 L658.82,201.06 L662.67,195.05 L666.52,188.95 L670.37,182.77 L674.23,176.54 L678.08,170.27 L681.93,163.99 L685.78,157.71 L689.63,151.46 L693.48,145.25 L697.33,139.12 L701.18,133.07 L705.03,127.13 L708.88,121.32 L712.74,115.64 L716.59,110.11 L720.44,104.75 L724.29,99.56 L728.14,94.56 L731.99,89.74 L735.84,85.12" fill="none" stroke="#00BFC4" stroke-opacity="0.13" stroke-width="0.9"/>
<path d="M581.80,283.43 L585.65,280.72 L589.50,277.83 L593.35,274.76 L597.20,271.50 L601.06,268.05 L604.91,264.39 L608.76,260.53 L612.61,256.46 L616.46,252.18 L620.31,247.70 L624.16,243.00 L628.01,238.10 L631.86,233.00 L635.71,227.71 L639.57,222.24 L643.42,216.59 L647.27,210.78 L651.12,204.82 L654.97,198.74 L658.82,192.54 L662.67,186.25 L666.52,179.90 L670.37,173.49 L674.23,167.05 L678.08,160.61 L681.93,154.19 L685.78,147.81 L689.63,141.49 L693.48,135.26 L697.33,129.13 L701.18,123.13 L705.03,117.27 L708.88,111.56 L712.74,106.02 L716.59,100.66 L720.44,95.50 L724.29,90.52 L728.14,85.76 L731.99,81.19 L735.84,76.84" fill="none" stroke="#00BFC4" stroke-opacity="0.13" stroke-width="0.9"/>
<path d="M581.80,298.91 L585.65,297.08 L589.50,295.09 L593.35,292.93 L597.20,290.59 L601.06,288.06 L604.91,285.33 L608.76,282.39 L612.61,279.22 L616.46,275.82 L620.31,272.18 L624.16,268.28 L628.01,264.13 L631.86,259.71 L635.71,255.03 L639.57,250.07 L643.42,244.85 L647.27,239.36 L651.12,233.61 L654.97,227.61 L658.82,221.37 L662.67,214.92 L666.52,208.26 L670.37,201.42 L674.23,194.43 L678.08,187.31 L681.93,180.10 L685.78,172.82 L689.63,165.51 L693.48,158.20 L697.33,150.92 L701.18,143.72 L705.03,136.61 L708.88,129.63 L712.74,122.81 L716.59,116.18 L720.44,109.74 L724.29,103.53 L728.14,97.56 L731.99,91.84 L735.84,86.38" fill="none" stroke="#00BFC4" stroke-opacity="0.13" stroke-width="0.9"/>
<path d="M581.80,283.92 L585.65,281.26 L589.50,278.42 L593.35,275.40 L597.20,272.20 L601.06,268.80 L604.91,265.20 L608.76,261.40 L612.61,257.40 L616.46,253.18 L620.31,248.76 L624.16,244.14 L628.01,239.31 L631.86,234.28 L635.71,229.06 L639.57,223.65 L643.42,218.07 L647.27,212.33 L651.12,206.44 L654.97,200.41 L658.82,194.27 L662.67,188.03 L666.52,181.72 L670.37,175.35 L674.23,168.95 L678.08,162.53 L681.93,156.13 L685.78,149.77 L689.63,143.46 L693.48,137.22 L697.33,131.09 L701.18,125.07 L705.03,119.18 L708.88,113.45 L712.74,107.87 L716.59,102.48 L720.44,97.27 L724.29,92.25 L728.14,87.43 L731.99,82.81 L735.84,78.40" fill="none" stroke="#00BFC4" stroke-opacity="0.13" stroke-width="0.9"/>
<path d="M581.80,260.61 L585.65,256.63 L589.50,252.44 L593.35,248.06 L597.20,243.47 L601.06,238.69 L604.91,233.72 L608.76,228.56 L612.61,223.22 L616.46,217.71 L620.31,212.05 L624.16,206.24 L628.01,200.31 L631.86,194.26 L635.71,188.12 L639.57,181.91 L643.42,175.64 L647.27,169.33 L651.12,163.02 L654.97,156.71 L658.82,150.44 L662.67,144.22 L666.52,138.07 L670.37,132.02 L674.23,126.07 L678.08,120.25 L681.93,114.57 L685.78,109.05 L689.63,103.70 L693.48,98.52 L697.33,93.53 L701.18,88.74 L705.03,84.13 L708.88,79.73 L712.74,75.53 L716.59,71.53 L720.44,67.73 L724.29,64.13 L728.14,60.72 L731.99,57.50 L735.84,54.46" fill="none" stroke="#00BFC4" stroke-opacity="0.13" stroke-width="0.9"/>
<path d="M581.80,278.77 L585.65,276.27 L589.50,273.63 L593.35,270.85 L597.20,267.94 L601.06,264.89 L604.91,261.69 L608.76,258.35 L612.61,254.87 L616.46,251.23 L620.31,247.46 L624.16,243.53 L628.01,239.46 L631.86,235.25 L635.71,230.90 L639.57,226.42 L643.42,221.82 L647.27,217.09 L651.12,212.25 L654.97,207.30 L658.82,202.26 L662.67,197.13 L666.52,191.93 L670.37,186.66 L674.23,181.35 L678.08,175.99 L681.93,170.61 L685.78,165.22 L689.63,159.83 L693.48,154.46 L697.33,149.11 L701.18,143.81 L705.03,138.56 L708.88,133.37 L712.74,128.26 L716.59,123.25 L720.44,118.32 L724.29,113.51 L728.14,108.81 L731.99,104.24 L735.84,99.79" fill="none" stroke="#00BFC4" stroke-opacity="0.13" stroke-width="0.9"/>
<path d="M581.80,272.29 L585.65,269.77 L589.50,267.14 L593.35,264.40 L597.20,261.54 L601.06,258.57 L604.91,255.49 L608.76,252.29 L612.61,248.97 L616.46,245.54 L620.31,241.99 L624.16,238.33 L628.01,234.56 L631.86,230.69 L635.71,226.70 L639.57,222.62 L643.42,218.44 L647.27,214.17 L651.12,209.81 L654.97,205.37 L658.82,200.86 L662.67,196.29 L666.52,191.66 L670.37,186.97 L674.23,182.25 L678.08,177.50 L681.93,172.72 L685.78,167.93 L689.63,163.13 L693.48,158.34 L697.33,153.57 L701.18,148.82 L705.03,144.10 L708.88,139.43 L712.74,134.80 L716.59,130.24 L720.44,125.74 L724.29,121.31 L728.14,116.97 L731.99,112.71 L735.84,108.54" fill="none" stroke="#00BFC4" stroke-opacity="0.13" stroke-width="0.9"/>
<path d="M566.89,314.33 L570.26,313.87 L573.63,313.37 L577.00,312.81 L580.37,312.18 L583.74,311.50 L587.11,310.74 L590.48,309.90 L593.85,308.97 L597.22,307.95 L600.59,306.82 L603.96,305.58 L607.33,304.21 L610.70,302.70 L614.07,301.04 L617.44,299.22 L620.81,297.22 L624.19,295.04 L627.56,292.65 L630.93,290.04 L634.30,287.20 L637.67,284.11 L641.04,280.76 L644.41,277.13 L647.78,273.21 L651.15,268.98 L654.52,264.45 L657.89,259.60 L661.26,254.42 L664.63,248.91 L668.00,243.09 L671.37,236.94 L674.74,230.48 L678.11,223.73 L681.48,216.70 L684.85,209.42 L688.22,201.92 L691.59,194.23 L694.96,186.39 L698.33,178.44 L701.70,170.41" fill="none" stroke="#C77CFF" stroke-opacity="0.14" stroke-width="0.9"/>
<path d="M566.89,317.62 L570.26,317.50 L573.63,317.35 L577.00,317.19 L580.37,317.00 L583.74,316.79 L587.11,316.55 L590.48,316.27 L593.85,315.96 L597.22,315.60 L600.59,315.19 L603.96,314.72 L607.33,314.19 L610.70,313.58 L614.07,312.89 L617.44,312.11 L620.81,311.22 L624.19,310.21 L627.56,309.06 L630.93,307.76 L634.30,306.29 L637.67,304.62 L641.04,302.74 L644.41,300.63 L647.78,298.24 L651.15,295.57 L654.52,292.57 L657.89,289.23 L661.26,285.50 L664.63,281.36 L668.00,276.79 L671.37,271.74 L674.74,266.21 L678.11,260.18 L681.48,253.62 L684.85,246.54 L688.22,238.95 L691.59,230.85 L694.96,222.29 L698.33,213.29 L701.70,203.91" fill="none" stroke="#C77CFF" stroke-opacity="0.14" stroke-width="0.9"/>
<path d="M566.89,314.82 L570.26,314.38 L573.63,313.89 L577.00,313.35 L580.37,312.73 L583.74,312.05 L587.11,311.29 L590.48,310.45 L593.85,309.50 L597.22,308.46 L600.59,307.29 L603.96,305.99 L607.33,304.55 L610.70,302.95 L614.07,301.18 L617.44,299.22 L620.81,297.06 L624.19,294.68 L627.56,292.05 L630.93,289.17 L634.30,286.00 L637.67,282.54 L641.04,278.77 L644.41,274.67 L647.78,270.21 L651.15,265.40 L654.52,260.22 L657.89,254.65 L661.26,248.71 L664.63,242.39 L668.00,235.70 L671.37,228.65 L674.74,221.26 L678.11,213.56 L681.48,205.58 L684.85,197.37 L688.22,188.95 L691.59,180.40 L694.96,171.74 L698.33,163.05 L701.70,154.38" fill="none" stroke="#C77CFF" stroke-opacity="0.14" stroke-width="0.9"/>
<path d="M566.89,315.29 L570.26,314.92 L573.63,314.51 L577.00,314.06 L580.37,313.55 L583.74,312.99 L587.11,312.36 L590.48,311.67 L593.85,310.90 L597.22,310.04 L600.59,309.09 L603.96,308.03 L607.33,306.87 L610.70,305.58 L614.07,304.15 L617.44,302.57 L620.81,300.83 L624.19,298.91 L627.56,296.81 L630.93,294.49 L634.30,291.95 L637.67,289.16 L641.04,286.12 L644.41,282.81 L647.78,279.21 L651.15,275.30 L654.52,271.07 L657.89,266.50 L661.26,261.60 L664.63,256.35 L668.00,250.74 L671.37,244.79 L674.74,238.48 L678.11,231.84 L681.48,224.88 L684.85,217.61 L688.22,210.07 L691.59,202.29 L694.96,194.30 L698.33,186.14 L701.70,177.87" fill="none" stroke="#C77CFF" stroke-opacity="0.14" stroke-width="0.9"/>
<path d="M566.89,317.86 L570.26,317.76 L573.63,317.64 L577.00,317.51 L580.37,317.35 L583.74,317.18 L587.11,316.97 L590.48,316.74 L593.85,316.47 L597.22,316.15 L600.59,315.79 L603.96,315.38 L607.33,314.90 L610.70,314.35 L614.07,313.71 L617.44,312.98 L620.81,312.14 L624.19,311.18 L627.56,310.08 L630.93,308.81 L634.30,307.37 L637.67,305.71 L641.04,303.82 L644.41,301.67 L647.78,299.22 L651.15,296.45 L654.52,293.31 L657.89,289.77 L661.26,285.79 L664.63,281.33 L668.00,276.36 L671.37,270.84 L674.74,264.75 L678.11,258.06 L681.48,250.77 L684.85,242.86 L688.22,234.36 L691.59,225.30 L694.96,215.70 L698.33,205.65 L701.70,195.22" fill="none" stroke="#C77CFF" stroke-opacity="0.14" stroke-width="0.9"/>
<path d="M566.89,312.64 L570.26,312.03 L573.63,311.36 L577.00,310.62 L580.37,309.81 L583.74,308.92 L587.11,307.94 L590.48,306.86 L593.85,305.68 L597.22,304.39 L600.59,302.97 L603.96,301.42 L607.33,299.72 L610.70,297.86 L614.07,295.84 L617.44,293.64 L620.81,291.24 L624.19,288.63 L627.56,285.81 L630.93,282.75 L634.30,279.45 L637.67,275.89 L641.04,272.06 L644.41,267.96 L647.78,263.57 L651.15,258.89 L654.52,253.91 L657.89,248.63 L661.26,243.06 L664.63,237.20 L668.00,231.06 L671.37,224.64 L674.74,217.98 L678.11,211.08 L681.48,203.97 L684.85,196.68 L688.22,189.24 L691.59,181.69 L694.96,174.05 L698.33,166.38 L701.70,158.70" fill="none" stroke="#C77CFF" stroke-opacity="0.14" stroke-width="0.9"/>
<path d="M566.89,303.39 L570.26,302.33 L573.63,301.20 L577.00,299.99 L580.37,298.71 L583.74,297.34 L587.11,295.88 L590.48,294.34 L593.85,292.69 L597.22,290.95 L600.59,289.10 L603.96,287.14 L607.33,285.07 L610.70,282.88 L614.07,280.56 L617.44,278.12 L620.81,275.54 L624.19,272.83 L627.56,269.98 L630.93,266.98 L634.30,263.84 L637.67,260.55 L641.04,257.12 L644.41,253.53 L647.78,249.79 L651.15,245.90 L654.52,241.86 L657.89,237.68 L661.26,233.35 L664.63,228.89 L668.00,224.29 L671.37,219.56 L674.74,214.71 L678.11,209.75 L681.48,204.69 L684.85,199.53 L688.22,194.29 L691.59,188.98 L694.96,183.61 L698.33,178.20 L701.70,172.76" fill="none" stroke="#C77CFF" stroke-opacity="0.14" stroke-width="0.9"/>
<path d="M566.89,313.21 L570.26,312.68 L573.63,312.11 L577.00,311.48 L580.37,310.79 L583.74,310.03 L587.11,309.21 L590.48,308.30 L593.85,307.31 L597.22,306.23 L600.59,305.05 L603.96,303.75 L607.33,302.35 L610.70,300.81 L614.07,299.14 L617.44,297.33 L620.81,295.35 L624.19,293.21 L627.56,290.90 L630.93,288.39 L634.30,285.68 L637.67,282.76 L641.04,279.61 L644.41,276.24 L647.78,272.62 L651.15,268.75 L654.52,264.62 L657.89,260.22 L661.26,255.56 L664.63,250.63 L668.00,245.42 L671.37,239.95 L674.74,234.22 L678.11,228.24 L681.48,222.01 L684.85,215.57 L688.22,208.92 L691.59,202.09 L694.96,195.10 L698.33,187.98 L701.70,180.76" fill="none" stroke="#C77CFF" stroke-opacity="0.14" stroke-width="0.9"/>
<path d="M566.89,317.22 L570.26,317.03 L573.63,316.82 L577.00,316.57 L580.37,316.29 L583.74,315.98 L587.11,315.61 L590.48,315.19 L593.85,314.72 L597.22,314.18 L600.59,313.56 L603.96,312.85 L607.33,312.05 L610.70,311.13 L614.07,310.09 L617.44,308.90 L620.81,307.55 L624.19,306.02 L627.56,304.29 L630.93,302.33 L634.30,300.12 L637.67,297.62 L641.04,294.82 L644.41,291.68 L647.78,288.16 L651.15,284.24 L654.52,279.88 L657.89,275.06 L661.26,269.74 L664.63,263.91 L668.00,257.55 L671.37,250.65 L674.74,243.21 L678.11,235.24 L681.48,226.76 L684.85,217.81 L688.22,208.43 L691.59,198.70 L694.96,188.67 L698.33,178.45 L701.70,168.10" fill="none" stroke="#C77CFF" stroke-opacity="0.14" stroke-width="0.9"/>
<path d="M566.89,318.43 L570.26,318.41 L573.63,318.39 L577.00,318.37 L580.37,318.34 L583.74,318.30 L587.11,318.26 L590.48,318.20 L593.85,318.13 L597.22,318.05 L600.59,317.95 L603.96,317.82 L607.33,317.67 L610.70,317.47 L614.07,317.24 L617.44,316.95 L620.81,316.60 L624.19,316.17 L627.56,315.64 L630.93,314.98 L634.30,314.19 L637.67,313.22 L641.04,312.03 L644.41,310.58 L647.78,308.82 L651.15,306.68 L654.52,304.09 L657.89,300.97 L661.26,297.23 L664.63,292.76 L668.00,287.45 L671.37,281.19 L674.74,273.87 L678.11,265.40 L681.48,255.71 L684.85,244.78 L688.22,232.61 L691.59,219.29 L694.96,204.98 L698.33,189.90 L701.70,174.32" fill="none" stroke="#C77CFF" stroke-opacity="0.14" stroke-width="0.9"/>
<path d="M566.89,318.12 L570.26,318.05 L573.63,317.97 L577.00,317.88 L580.37,317.78 L583.74,317.65 L587.11,317.51 L590.48,317.34 L593.85,317.14 L597.22,316.91 L600.59,316.64 L603.96,316.32 L607.33,315.95 L610.70,315.51 L614.07,315.00 L617.44,314.41 L620.81,313.72 L624.19,312.91 L627.56,311.97 L630.93,310.87 L634.30,309.60 L637.67,308.12 L641.04,306.41 L644.41,304.42 L647.78,302.13 L651.15,299.49 L654.52,296.46 L657.89,292.99 L661.26,289.03 L664.63,284.52 L668.00,279.43 L671.37,273.69 L674.74,267.28 L678.11,260.16 L681.48,252.30 L684.85,243.71 L688.22,234.39 L691.59,224.39 L694.96,213.76 L698.33,202.59 L701.70,190.98" fill="none" stroke="#C77CFF" stroke-opacity="0.14" stroke-width="0.9"/>
<path d="M566.89,310.76 L570.26,310.09 L573.63,309.36 L577.00,308.56 L580.37,307.71 L583.74,306.78 L587.11,305.77 L590.48,304.68 L593.85,303.50 L597.22,302.23 L600.59,300.86 L603.96,299.38 L607.33,297.78 L610.70,296.06 L614.07,294.21 L617.44,292.22 L620.81,290.09 L624.19,287.80 L627.56,285.35 L630.93,282.72 L634.30,279.92 L637.67,276.94 L641.04,273.76 L644.41,270.38 L647.78,266.80 L651.15,263.01 L654.52,259.01 L657.89,254.80 L661.26,250.36 L664.63,245.71 L668.00,240.85 L671.37,235.78 L674.74,230.51 L678.11,225.04 L681.48,219.38 L684.85,213.56 L688.22,207.57 L691.59,201.45 L694.96,195.20 L698.33,188.84 L701.70,182.41" fill="none" stroke="#C77CFF" stroke-opacity="0.14" stroke-width="0.9"/>
<path d="M566.89,318.20 L570.26,318.16 L573.63,318.11 L577.00,318.05 L580.37,317.98 L583.74,317.91 L587.11,317.82 L590.48,317.72 L593.85,317.60 L597.22,317.46 L600.59,317.31 L603.96,317.13 L607.33,316.93 L610.70,316.70 L614.07,316.43 L617.44,316.13 L620.81,315.78 L624.19,315.37 L627.56,314.91 L630.93,314.38 L634.30,313.78 L637.67,313.09 L641.04,312.30 L644.41,311.39 L647.78,310.36 L651.15,309.18 L654.52,307.84 L657.89,306.32 L661.26,304.58 L664.63,302.61 L668.00,300.39 L671.37,297.87 L674.74,295.03 L678.11,291.83 L681.48,288.25 L684.85,284.24 L688.22,279.78 L691.59,274.83 L694.96,269.36 L698.33,263.35 L701.70,256.79" fill="none" stroke="#C77CFF" stroke-opacity="0.14" stroke-width="0.9"/>
<path d="M566.89,317.67 L570.26,317.56 L573.63,317.43 L577.00,317.29 L580.37,317.12 L583.74,316.94 L587.11,316.73 L590.48,316.49 L593.85,316.21 L597.22,315.90 L600.59,315.55 L603.96,315.15 L607.33,314.70 L610.70,314.19 L614.07,313.61 L617.44,312.95 L620.81,312.21 L624.19,311.37 L627.56,310.43 L630.93,309.36 L634.30,308.15 L637.67,306.79 L641.04,305.26 L644.41,303.54 L647.78,301.61 L651.15,299.45 L654.52,297.03 L657.89,294.33 L661.26,291.32 L664.63,287.98 L668.00,284.27 L671.37,280.19 L674.74,275.69 L678.11,270.75 L681.48,265.37 L684.85,259.51 L688.22,253.18 L691.59,246.36 L694.96,239.08 L698.33,231.33 L701.70,223.14" fill="none" stroke="#C77CFF" stroke-opacity="0.14" stroke-width="0.9"/>
<path d="M566.89,318.06 L570.26,317.99 L573.63,317.91 L577.00,317.82 L580.37,317.72 L583.74,317.60 L587.11,317.45 L590.48,317.29 L593.85,317.10 L597.22,316.89 L600.59,316.63 L603.96,316.34 L607.33,316.01 L610.70,315.62 L614.07,315.18 L617.44,314.66 L620.81,314.07 L624.19,313.39 L627.56,312.60 L630.93,311.70 L634.30,310.66 L637.67,309.47 L641.04,308.11 L644.41,306.54 L647.78,304.75 L651.15,302.71 L654.52,300.39 L657.89,297.74 L661.26,294.75 L664.63,291.36 L668.00,287.54 L671.37,283.25 L674.74,278.45 L678.11,273.11 L681.48,267.20 L684.85,260.69 L688.22,253.56 L691.59,245.81 L694.96,237.45 L698.33,228.50 L701.70,219.00" fill="none" stroke="#C77CFF" stroke-opacity="0.14" stroke-width="0.9"/>
<path d="M566.89,317.34 L570.26,317.17 L573.63,316.98 L577.00,316.76 L580.37,316.51 L583.74,316.22 L587.11,315.89 L590.48,315.52 L593.85,315.09 L597.22,314.61 L600.59,314.05 L603.96,313.41 L607.33,312.69 L610.70,311.87 L614.07,310.93 L617.44,309.86 L620.81,308.65 L624.19,307.28 L627.56,305.72 L630.93,303.95 L634.30,301.96 L637.67,299.70 L641.04,297.17 L644.41,294.32 L647.78,291.13 L651.15,287.56 L654.52,283.59 L657.89,279.18 L661.26,274.30 L664.63,268.94 L668.00,263.06 L671.37,256.64 L674.74,249.70 L678.11,242.21 L681.48,234.21 L684.85,225.70 L688.22,216.73 L691.59,207.35 L694.96,197.62 L698.33,187.60 L701.70,177.40" fill="none" stroke="#C77CFF" stroke-opacity="0.14" stroke-width="0.9"/>
<path d="M566.89,317.85 L570.26,317.76 L573.63,317.66 L577.00,317.55 L580.37,317.43 L583.74,317.28 L587.11,317.12 L590.48,316.94 L593.85,316.73 L597.22,316.50 L600.59,316.23 L603.96,315.93 L607.33,315.59 L610.70,315.21 L614.07,314.78 L617.44,314.29 L620.81,313.74 L624.19,313.11 L627.56,312.41 L630.93,311.62 L634.30,310.72 L637.67,309.71 L641.04,308.58 L644.41,307.31 L647.78,305.88 L651.15,304.27 L654.52,302.47 L657.89,300.46 L661.26,298.22 L664.63,295.72 L668.00,292.93 L671.37,289.84 L674.74,286.43 L678.11,282.65 L681.48,278.50 L684.85,273.94 L688.22,268.97 L691.59,263.55 L694.96,257.69 L698.33,251.36 L701.70,244.58" fill="none" stroke="#C77CFF" stroke-opacity="0.14" stroke-width="0.9"/>
<path d="M566.89,314.97 L570.26,314.57 L573.63,314.14 L577.00,313.66 L580.37,313.12 L583.74,312.53 L587.11,311.87 L590.48,311.15 L593.85,310.34 L597.22,309.45 L600.59,308.47 L603.96,307.38 L607.33,306.18 L610.70,304.85 L614.07,303.40 L617.44,301.79 L620.81,300.03 L624.19,298.09 L627.56,295.96 L630.93,293.63 L634.30,291.09 L637.67,288.31 L641.04,285.29 L644.41,282.00 L647.78,278.43 L651.15,274.57 L654.52,270.41 L657.89,265.94 L661.26,261.14 L664.63,256.01 L668.00,250.54 L671.37,244.75 L674.74,238.63 L678.11,232.18 L681.48,225.44 L684.85,218.40 L688.22,211.11 L691.59,203.58 L694.96,195.85 L698.33,187.96 L701.70,179.94" fill="none" stroke="#C77CFF" stroke-opacity="0.14" stroke-width="0.9"/>
<path d="M566.89,318.13 L570.26,318.07 L573.63,318.00 L577.00,317.91 L580.37,317.80 L583.74,317.68 L587.11,317.54 L590.48,317.37 L593.85,317.18 L597.22,316.95 L600.59,316.68 L603.96,316.36 L607.33,315.99 L610.70,315.56 L614.07,315.05 L617.44,314.45 L620.81,313.76 L624.19,312.94 L627.56,311.99 L630.93,310.89 L634.30,309.59 L637.67,308.09 L641.04,306.34 L644.41,304.32 L647.78,301.97 L651.15,299.26 L654.52,296.15 L657.89,292.57 L661.26,288.49 L664.63,283.84 L668.00,278.57 L671.37,272.64 L674.74,266.01 L678.11,258.63 L681.48,250.50 L684.85,241.61 L688.22,231.98 L691.59,221.65 L694.96,210.70 L698.33,199.22 L701.70,187.34" fill="none" stroke="#C77CFF" stroke-opacity="0.14" stroke-width="0.9"/>
<path d="M566.89,310.05 L570.26,309.33 L573.63,308.56 L577.00,307.72 L580.37,306.82 L583.74,305.85 L587.11,304.79 L590.48,303.65 L593.85,302.43 L597.22,301.11 L600.59,299.68 L603.96,298.15 L607.33,296.51 L610.70,294.74 L614.07,292.84 L617.44,290.81 L620.81,288.63 L624.19,286.30 L627.56,283.81 L630.93,281.16 L634.30,278.33 L637.67,275.32 L641.04,272.13 L644.41,268.75 L647.78,265.17 L651.15,261.39 L654.52,257.40 L657.89,253.22 L661.26,248.82 L664.63,244.23 L668.00,239.43 L671.37,234.44 L674.74,229.25 L678.11,223.88 L681.48,218.34 L684.85,212.63 L688.22,206.78 L691.59,200.80 L694.96,194.70 L698.33,188.50 L701.70,182.23" fill="none" stroke="#C77CFF" stroke-opacity="0.14" stroke-width="0.9"/>
<path d="M566.89,317.82 L570.26,317.72 L573.63,317.60 L577.00,317.47 L580.37,317.32 L583.74,317.15 L587.11,316.95 L590.48,316.72 L593.85,316.45 L597.22,316.15 L600.59,315.81 L603.96,315.41 L607.33,314.96 L610.70,314.44 L614.07,313.85 L617.44,313.17 L620.81,312.40 L624.19,311.52 L627.56,310.51 L630.93,309.36 L634.30,308.05 L637.67,306.56 L641.04,304.87 L644.41,302.96 L647.78,300.78 L651.15,298.33 L654.52,295.57 L657.89,292.46 L661.26,288.97 L664.63,285.07 L668.00,280.73 L671.37,275.91 L674.74,270.59 L678.11,264.73 L681.48,258.33 L684.85,251.38 L688.22,243.86 L691.59,235.79 L694.96,227.20 L698.33,218.11 L701.70,208.59" fill="none" stroke="#C77CFF" stroke-opacity="0.14" stroke-width="0.9"/>
<path d="M566.89,313.34 L570.26,312.89 L573.63,312.41 L577.00,311.88 L580.37,311.30 L583.74,310.68 L587.11,310.01 L590.48,309.28 L593.85,308.49 L597.22,307.63 L600.59,306.70 L603.96,305.70 L607.33,304.62 L610.70,303.45 L614.07,302.18 L617.44,300.82 L620.81,299.35 L624.19,297.77 L627.56,296.06 L630.93,294.23 L634.30,292.26 L637.67,290.15 L641.04,287.89 L644.41,285.47 L647.78,282.88 L651.15,280.12 L654.52,277.18 L657.89,274.05 L661.26,270.72 L664.63,267.20 L668.00,263.47 L671.37,259.53 L674.74,255.38 L678.11,251.02 L681.48,246.45 L684.85,241.67 L688.22,236.68 L691.59,231.50 L694.96,226.12 L698.33,220.55 L701.70,214.82" fill="none" stroke="#C77CFF" stroke-opacity="0.14" stroke-width="0.9"/>
<path d="M566.89,318.34 L570.26,318.31 L573.63,318.27 L577.00,318.22 L580.37,318.17 L583.74,318.10 L587.11,318.02 L590.48,317.93 L593.85,317.82 L597.22,317.68 L600.59,317.52 L603.96,317.33 L607.33,317.10 L610.70,316.82 L614.07,316.49 L617.44,316.09 L620.81,315.62 L624.19,315.06 L627.56,314.38 L630.93,313.58 L634.30,312.62 L637.67,311.48 L641.04,310.13 L644.41,308.53 L647.78,306.62 L651.15,304.38 L654.52,301.73 L657.89,298.62 L661.26,294.99 L664.63,290.75 L668.00,285.83 L671.37,280.17 L674.74,273.69 L678.11,266.32 L681.48,258.02 L684.85,248.77 L688.22,238.57 L691.59,227.44 L694.96,215.48 L698.33,202.80 L701.70,189.55" fill="none" stroke="#C77CFF" stroke-opacity="0.14" stroke-width="0.9"/>
<path d="M566.89,316.57 L570.26,316.31 L573.63,316.02 L577.00,315.69 L580.37,315.32 L583.74,314.90 L587.11,314.42 L590.48,313.88 L593.85,313.27 L597.22,312.58 L600.59,311.80 L603.96,310.93 L607.33,309.94 L610.70,308.83 L614.07,307.58 L617.44,306.17 L620.81,304.59 L624.19,302.82 L627.56,300.84 L630.93,298.62 L634.30,296.15 L637.67,293.40 L641.04,290.34 L644.41,286.95 L647.78,283.21 L651.15,279.09 L654.52,274.56 L657.89,269.61 L661.26,264.21 L664.63,258.37 L668.00,252.05 L671.37,245.28 L674.74,238.04 L678.11,230.36 L681.48,222.26 L684.85,213.78 L688.22,204.96 L691.59,195.85 L694.96,186.51 L698.33,177.01 L701.70,167.42" fill="none" stroke="#C77CFF" stroke-opacity="0.14" stroke-width="0.9"/>
<path d="M566.89,318.12 L570.26,318.05 L573.63,317.97 L577.00,317.87 L580.37,317.76 L583.74,317.62 L587.11,317.46 L590.48,317.26 L593.85,317.03 L597.22,316.76 L600.59,316.44 L603.96,316.05 L607.33,315.60 L610.70,315.07 L614.07,314.44 L617.44,313.69 L620.81,312.81 L624.19,311.78 L627.56,310.56 L630.93,309.12 L634.30,307.43 L637.67,305.46 L641.04,303.15 L644.41,300.46 L647.78,297.33 L651.15,293.70 L654.52,289.52 L657.89,284.71 L661.26,279.22 L664.63,272.99 L668.00,265.96 L671.37,258.11 L674.74,249.40 L678.11,239.83 L681.48,229.45 L684.85,218.30 L688.22,206.47 L691.59,194.10 L694.96,181.33 L698.33,168.34 L701.70,155.31" fill="none" stroke="#C77CFF" stroke-opacity="0.14" stroke-width="0.9"/>
<path d="M566.89,317.45 L570.26,317.29 L573.63,317.11 L577.00,316.90 L580.37,316.66 L583.74,316.38 L587.11,316.06 L590.48,315.69 L593.85,315.27 L597.22,314.78 L600.59,314.22 L603.96,313.58 L607.33,312.84 L610.70,312.00 L614.07,311.03 L617.44,309.92 L620.81,308.66 L624.19,307.21 L627.56,305.57 L630.93,303.69 L634.30,301.56 L637.67,299.14 L641.04,296.40 L644.41,293.31 L647.78,289.83 L651.15,285.93 L654.52,281.57 L657.89,276.71 L661.26,271.33 L664.63,265.39 L668.00,258.87 L671.37,251.77 L674.74,244.08 L678.11,235.81 L681.48,226.99 L684.85,217.65 L688.22,207.85 L691.59,197.66 L694.96,187.17 L698.33,176.47 L701.70,165.66" fill="none" stroke="#C77CFF" stroke-opacity="0.14" stroke-width="0.9"/>
<path d="M566.89,312.39 L570.26,311.84 L573.63,311.24 L577.00,310.59 L580.37,309.89 L583.74,309.12 L587.11,308.28 L590.48,307.38 L593.85,306.39 L597.22,305.33 L600.59,304.17 L603.96,302.92 L607.33,301.57 L610.70,300.10 L614.07,298.52 L617.44,296.81 L620.81,294.97 L624.19,292.98 L627.56,290.84 L630.93,288.55 L634.30,286.08 L637.67,283.44 L641.04,280.62 L644.41,277.60 L647.78,274.38 L651.15,270.95 L654.52,267.30 L657.89,263.44 L661.26,259.35 L664.63,255.04 L668.00,250.50 L671.37,245.73 L674.74,240.74 L678.11,235.53 L681.48,230.10 L684.85,224.47 L688.22,218.65 L691.59,212.65 L694.96,206.48 L698.33,200.17 L701.70,193.73" fill="none" stroke="#C77CFF" stroke-opacity="0.14" stroke-width="0.9"/>
<path d="M566.89,318.22 L570.26,318.17 L573.63,318.11 L577.00,318.03 L580.37,317.95 L583.74,317.85 L587.11,317.73 L590.48,317.59 L593.85,317.42 L597.22,317.23 L600.59,317.00 L603.96,316.72 L607.33,316.40 L610.70,316.02 L614.07,315.57 L617.44,315.04 L620.81,314.42 L624.19,313.68 L627.56,312.82 L630.93,311.80 L634.30,310.61 L637.67,309.21 L641.04,307.58 L644.41,305.66 L647.78,303.44 L651.15,300.84 L654.52,297.83 L657.89,294.36 L661.26,290.35 L664.63,285.76 L668.00,280.53 L671.37,274.59 L674.74,267.89 L678.11,260.41 L681.48,252.10 L684.85,242.97 L688.22,233.04 L691.59,222.34 L694.96,210.97 L698.33,199.01 L701.70,186.61" fill="none" stroke="#C77CFF" stroke-opacity="0.14" stroke-width="0.9"/>
<path d="M566.89,312.73 L570.26,312.20 L573.63,311.63 L577.00,311.01 L580.37,310.34 L583.74,309.60 L587.11,308.80 L590.48,307.93 L593.85,306.99 L597.22,305.97 L600.59,304.85 L603.96,303.65 L607.33,302.35 L610.70,300.93 L614.07,299.41 L617.44,297.76 L620.81,295.97 L624.19,294.05 L627.56,291.98 L630.93,289.75 L634.30,287.36 L637.67,284.79 L641.04,282.03 L644.41,279.09 L647.78,275.94 L651.15,272.59 L654.52,269.02 L657.89,265.23 L661.26,261.21 L664.63,256.97 L668.00,252.50 L671.37,247.79 L674.74,242.86 L678.11,237.70 L681.48,232.32 L684.85,226.73 L688.22,220.94 L691.59,214.96 L694.96,208.81 L698.33,202.50 L701.70,196.05" fill="none" stroke="#C77CFF" stroke-opacity="0.14" stroke-width="0.9"/>
<path d="M566.89,316.13 L570.26,315.84 L573.63,315.53 L577.00,315.17 L580.37,314.78 L583.74,314.34 L587.11,313.85 L590.48,313.30 L593.85,312.69 L597.22,312.00 L600.59,311.24 L603.96,310.39 L607.33,309.45 L610.70,308.40 L614.07,307.23 L617.44,305.93 L620.81,304.49 L624.19,302.89 L627.56,301.12 L630.93,299.17 L634.30,297.01 L637.67,294.63 L641.04,292.02 L644.41,289.14 L647.78,285.99 L651.15,282.55 L654.52,278.79 L657.89,274.71 L661.26,270.28 L664.63,265.50 L668.00,260.34 L671.37,254.82 L674.74,248.91 L678.11,242.64 L681.48,235.99 L684.85,228.99 L688.22,221.65 L691.59,214.00 L694.96,206.07 L698.33,197.91 L701.70,189.54" fill="none" stroke="#C77CFF" stroke-opacity="0.14" stroke-width="0.9"/>
<path d="M566.89,318.40 L570.26,318.38 L573.63,318.35 L577.00,318.33 L580.37,318.29 L583.74,318.25 L587.11,318.21 L590.48,318.15 L593.85,318.08 L597.22,318.00 L600.59,317.91 L603.96,317.80 L607.33,317.66 L610.70,317.50 L614.07,317.31 L617.44,317.08 L620.81,316.82 L624.19,316.49 L627.56,316.11 L630.93,315.66 L634.30,315.12 L637.67,314.48 L641.04,313.73 L644.41,312.83 L647.78,311.77 L651.15,310.51 L654.52,309.03 L657.89,307.28 L661.26,305.23 L664.63,302.82 L668.00,300.00 L671.37,296.71 L674.74,292.88 L678.11,288.46 L681.48,283.37 L684.85,277.54 L688.22,270.92 L691.59,263.45 L694.96,255.10 L698.33,245.85 L701.70,235.71" fill="none" stroke="#C77CFF" stroke-opacity="0.14" stroke-width="0.9"/>
<path d="M566.89,315.79 L570.26,315.52 L573.63,315.23 L577.00,314.91 L580.37,314.56 L583.74,314.17 L587.11,313.75 L590.48,313.28 L593.85,312.77 L597.22,312.21 L600.59,311.60 L603.96,310.93 L607.33,310.20 L610.70,309.39 L614.07,308.52 L617.44,307.56 L620.81,306.51 L624.19,305.37 L627.56,304.13 L630.93,302.77 L634.30,301.29 L637.67,299.68 L641.04,297.94 L644.41,296.04 L647.78,293.98 L651.15,291.76 L654.52,289.35 L657.89,286.75 L661.26,283.94 L664.63,280.93 L668.00,277.69 L671.37,274.21 L674.74,270.50 L678.11,266.53 L681.48,262.31 L684.85,257.83 L688.22,253.08 L691.59,248.07 L694.96,242.80 L698.33,237.27 L701.70,231.49" fill="none" stroke="#C77CFF" stroke-opacity="0.14" stroke-width="0.9"/>
<path d="M566.89,316.71 L570.26,316.49 L573.63,316.24 L577.00,315.97 L580.37,315.66 L583.74,315.32 L587.11,314.93 L590.48,314.50 L593.85,314.02 L597.22,313.48 L600.59,312.88 L603.96,312.20 L607.33,311.45 L610.70,310.61 L614.07,309.67 L617.44,308.62 L620.81,307.46 L624.19,306.16 L627.56,304.72 L630.93,303.12 L634.30,301.34 L637.67,299.37 L641.04,297.20 L644.41,294.79 L647.78,292.14 L651.15,289.22 L654.52,286.02 L657.89,282.51 L661.26,278.68 L664.63,274.51 L668.00,269.98 L671.37,265.08 L674.74,259.80 L678.11,254.13 L681.48,248.06 L684.85,241.61 L688.22,234.78 L691.59,227.59 L694.96,220.05 L698.33,212.19 L701.70,204.06" fill="none" stroke="#C77CFF" stroke-opacity="0.14" stroke-width="0.9"/>
<path d="M566.89,311.36 L570.26,310.70 L573.63,309.99 L577.00,309.21 L580.37,308.37 L583.74,307.45 L587.11,306.45 L590.48,305.37 L593.85,304.19 L597.22,302.91 L600.59,301.53 L603.96,300.03 L607.33,298.41 L610.70,296.65 L614.07,294.76 L617.44,292.71 L620.81,290.51 L624.19,288.14 L627.56,285.59 L630.93,282.86 L634.30,279.93 L637.67,276.80 L641.04,273.45 L644.41,269.89 L647.78,266.10 L651.15,262.08 L654.52,257.83 L657.89,253.34 L661.26,248.62 L664.63,243.66 L668.00,238.47 L671.37,233.04 L674.74,227.41 L678.11,221.56 L681.48,215.52 L684.85,209.30 L688.22,202.92 L691.59,196.39 L694.96,189.75 L698.33,183.02 L701.70,176.22" fill="none" stroke="#C77CFF" stroke-opacity="0.14" stroke-width="0.9"/>
<path d="M566.89,292.83 L570.26,291.64 L573.63,290.39 L577.00,289.10 L580.37,287.75 L583.74,286.34 L587.11,284.88 L590.48,283.36 L593.85,281.78 L597.22,280.14 L600.59,278.44 L603.96,276.67 L607.33,274.84 L610.70,272.95 L614.07,270.98 L617.44,268.95 L620.81,266.85 L624.19,264.67 L627.56,262.43 L630.93,260.11 L634.30,257.73 L637.67,255.26 L641.04,252.73 L644.41,250.12 L647.78,247.45 L651.15,244.69 L654.52,241.87 L657.89,238.98 L661.26,236.01 L664.63,232.98 L668.00,229.88 L671.37,226.72 L674.74,223.49 L678.11,220.20 L681.48,216.85 L684.85,213.45 L688.22,209.99 L691.59,206.48 L694.96,202.93 L698.33,199.33 L701.70,195.69" fill="none" stroke="#C77CFF" stroke-opacity="0.14" stroke-width="0.9"/>
<path d="M566.89,318.03 L570.26,317.95 L573.63,317.85 L577.00,317.74 L580.37,317.60 L583.74,317.44 L587.11,317.26 L590.48,317.04 L593.85,316.79 L597.22,316.49 L600.59,316.14 L603.96,315.73 L607.33,315.25 L610.70,314.69 L614.07,314.03 L617.44,313.26 L620.81,312.36 L624.19,311.31 L627.56,310.08 L630.93,308.66 L634.30,306.99 L637.67,305.06 L641.04,302.83 L644.41,300.25 L647.78,297.27 L651.15,293.84 L654.52,289.92 L657.89,285.46 L661.26,280.38 L664.63,274.66 L668.00,268.24 L671.37,261.08 L674.74,253.17 L678.11,244.49 L681.48,235.06 L684.85,224.91 L688.22,214.11 L691.59,202.75 L694.96,190.93 L698.33,178.80 L701.70,166.50" fill="none" stroke="#C77CFF" stroke-opacity="0.14" stroke-width="0.9"/>
<path d="M566.89,315.41 L570.26,315.04 L573.63,314.64 L577.00,314.18 L580.37,313.67 L583.74,313.11 L587.11,312.47 L590.48,311.77 L593.85,310.98 L597.22,310.11 L600.59,309.14 L603.96,308.05 L607.33,306.85 L610.70,305.52 L614.07,304.04 L617.44,302.40 L620.81,300.59 L624.19,298.59 L627.56,296.38 L630.93,293.95 L634.30,291.27 L637.67,288.34 L641.04,285.12 L644.41,281.61 L647.78,277.79 L651.15,273.64 L654.52,269.14 L657.89,264.28 L661.26,259.06 L664.63,253.47 L668.00,247.50 L671.37,241.16 L674.74,234.46 L678.11,227.41 L681.48,220.03 L684.85,212.35 L688.22,204.40 L691.59,196.22 L694.96,187.85 L698.33,179.35 L701.70,170.77" fill="none" stroke="#C77CFF" stroke-opacity="0.14" stroke-width="0.9"/>
<path d="M566.89,313.92 L570.26,313.40 L573.63,312.81 L577.00,312.16 L580.37,311.43 L583.74,310.63 L587.11,309.74 L590.48,308.74 L593.85,307.64 L597.22,306.42 L600.59,305.07 L603.96,303.58 L607.33,301.93 L610.70,300.11 L614.07,298.10 L617.44,295.90 L620.81,293.47 L624.19,290.81 L627.56,287.89 L630.93,284.71 L634.30,281.24 L637.67,277.47 L641.04,273.38 L644.41,268.96 L647.78,264.20 L651.15,259.09 L654.52,253.62 L657.89,247.79 L661.26,241.60 L664.63,235.07 L668.00,228.20 L671.37,221.01 L674.74,213.54 L678.11,205.79 L681.48,197.83 L684.85,189.67 L688.22,181.38 L691.59,172.99 L694.96,164.55 L698.33,156.13 L701.70,147.76" fill="none" stroke="#C77CFF" stroke-opacity="0.14" stroke-width="0.9"/>
<path d="M566.89,316.04 L570.26,315.74 L573.63,315.42 L577.00,315.06 L580.37,314.65 L583.74,314.20 L587.11,313.70 L590.48,313.13 L593.85,312.51 L597.22,311.81 L600.59,311.03 L603.96,310.17 L607.33,309.20 L610.70,308.13 L614.07,306.95 L617.44,305.63 L620.81,304.17 L624.19,302.55 L627.56,300.76 L630.93,298.78 L634.30,296.60 L637.67,294.20 L641.04,291.56 L644.41,288.67 L647.78,285.50 L651.15,282.04 L654.52,278.26 L657.89,274.17 L661.26,269.73 L664.63,264.94 L668.00,259.79 L671.37,254.27 L674.74,248.37 L678.11,242.11 L681.48,235.49 L684.85,228.51 L688.22,221.21 L691.59,213.61 L694.96,205.73 L698.33,197.62 L701.70,189.31" fill="none" stroke="#C77CFF" stroke-opacity="0.14" stroke-width="0.9"/>
<path d="M566.89,317.21 L570.26,317.03 L573.63,316.82 L577.00,316.58 L580.37,316.31 L583.74,316.00 L587.11,315.64 L590.48,315.24 L593.85,314.77 L597.22,314.25 L600.59,313.65 L603.96,312.97 L607.33,312.19 L610.70,311.31 L614.07,310.31 L617.44,309.17 L620.81,307.89 L624.19,306.43 L627.56,304.78 L630.93,302.91 L634.30,300.81 L637.67,298.45 L641.04,295.79 L644.41,292.82 L647.78,289.49 L651.15,285.78 L654.52,281.67 L657.89,277.11 L661.26,272.09 L664.63,266.58 L668.00,260.56 L671.37,254.02 L674.74,246.95 L678.11,239.37 L681.48,231.28 L684.85,222.72 L688.22,213.72 L691.59,204.33 L694.96,194.63 L698.33,184.68 L701.70,174.56" fill="none" stroke="#C77CFF" stroke-opacity="0.14" stroke-width="0.9"/>
<path d="M566.89,308.35 L570.26,307.54 L573.63,306.67 L577.00,305.72 L580.37,304.71 L583.74,303.62 L587.11,302.45 L590.48,301.19 L593.85,299.84 L597.22,298.39 L600.59,296.84 L603.96,295.18 L607.33,293.40 L610.70,291.50 L614.07,289.47 L617.44,287.30 L620.81,285.00 L624.19,282.54 L627.56,279.93 L630.93,277.16 L634.30,274.22 L637.67,271.12 L641.04,267.83 L644.41,264.37 L647.78,260.72 L651.15,256.89 L654.52,252.87 L657.89,248.67 L661.26,244.28 L664.63,239.70 L668.00,234.95 L671.37,230.02 L674.74,224.92 L678.11,219.67 L681.48,214.26 L684.85,208.71 L688.22,203.04 L691.59,197.26 L694.96,191.38 L698.33,185.43 L701.70,179.41" fill="none" stroke="#C77CFF" stroke-opacity="0.14" stroke-width="0.9"/>
<path d="M566.89,315.28 L570.26,314.96 L573.63,314.61 L577.00,314.22 L580.37,313.79 L583.74,313.33 L587.11,312.81 L590.48,312.25 L593.85,311.63 L597.22,310.95 L600.59,310.21 L603.96,309.40 L607.33,308.51 L610.70,307.54 L614.07,306.47 L617.44,305.31 L620.81,304.04 L624.19,302.65 L627.56,301.14 L630.93,299.50 L634.30,297.71 L637.67,295.76 L641.04,293.65 L644.41,291.36 L647.78,288.88 L651.15,286.21 L654.52,283.32 L657.89,280.21 L661.26,276.87 L664.63,273.28 L668.00,269.45 L671.37,265.35 L674.74,260.99 L678.11,256.36 L681.48,251.46 L684.85,246.29 L688.22,240.84 L691.59,235.14 L694.96,229.18 L698.33,222.98 L701.70,216.55" fill="none" stroke="#C77CFF" stroke-opacity="0.14" stroke-width="0.9"/>
<path d="M566.89,317.75 L570.26,317.63 L573.63,317.50 L577.00,317.34 L580.37,317.16 L583.74,316.95 L587.11,316.71 L590.48,316.43 L593.85,316.11 L597.22,315.74 L600.59,315.31 L603.96,314.81 L607.33,314.24 L610.70,313.59 L614.07,312.83 L617.44,311.96 L620.81,310.96 L624.19,309.82 L627.56,308.50 L630.93,306.99 L634.30,305.27 L637.67,303.30 L641.04,301.05 L644.41,298.50 L647.78,295.60 L651.15,292.32 L654.52,288.62 L657.89,284.46 L661.26,279.81 L664.63,274.62 L668.00,268.86 L671.37,262.51 L674.74,255.54 L678.11,247.96 L681.48,239.76 L684.85,230.96 L688.22,221.60 L691.59,211.73 L694.96,201.42 L698.33,190.76 L701.70,179.84" fill="none" stroke="#C77CFF" stroke-opacity="0.14" stroke-width="0.9"/>
<path d="M566.89,311.79 L570.26,311.12 L573.63,310.39 L577.00,309.59 L580.37,308.72 L583.74,307.76 L587.11,306.71 L590.48,305.56 L593.85,304.30 L597.22,302.93 L600.59,301.44 L603.96,299.81 L607.33,298.04 L610.70,296.11 L614.07,294.02 L617.44,291.75 L620.81,289.29 L624.19,286.63 L627.56,283.76 L630.93,280.66 L634.30,277.34 L637.67,273.76 L641.04,269.94 L644.41,265.85 L647.78,261.50 L651.15,256.88 L654.52,251.98 L657.89,246.80 L661.26,241.36 L664.63,235.64 L668.00,229.67 L671.37,223.45 L674.74,217.00 L678.11,210.34 L681.48,203.49 L684.85,196.47 L688.22,189.32 L691.59,182.05 L694.96,174.72 L698.33,167.34 L701.70,159.95" fill="none" stroke="#C77CFF" stroke-opacity="0.14" stroke-width="0.9"/>
<path d="M566.89,306.23 L570.26,305.28 L573.63,304.25 L577.00,303.14 L580.37,301.95 L583.74,300.68 L587.11,299.32 L590.48,297.86 L593.85,296.29 L597.22,294.62 L600.59,292.84 L603.96,290.93 L607.33,288.90 L610.70,286.73 L614.07,284.43 L617.44,281.98 L620.81,279.38 L624.19,276.62 L627.56,273.71 L630.93,270.62 L634.30,267.37 L637.67,263.94 L641.04,260.33 L644.41,256.55 L647.78,252.58 L651.15,248.43 L654.52,244.10 L657.89,239.60 L661.26,234.92 L664.63,230.07 L668.00,225.06 L671.37,219.90 L674.74,214.59 L678.11,209.14 L681.48,203.58 L684.85,197.90 L688.22,192.13 L691.59,186.28 L694.96,180.37 L698.33,174.42 L701.70,168.44" fill="none" stroke="#C77CFF" stroke-opacity="0.14" stroke-width="0.9"/>
<path d="M566.89,317.28 L570.26,317.12 L573.63,316.93 L577.00,316.72 L580.37,316.48 L583.74,316.21 L587.11,315.90 L590.48,315.55 L593.85,315.16 L597.22,314.71 L600.59,314.21 L603.96,313.63 L607.33,312.99 L610.70,312.26 L614.07,311.43 L617.44,310.50 L620.81,309.45 L624.19,308.26 L627.56,306.93 L630.93,305.43 L634.30,303.75 L637.67,301.86 L641.04,299.74 L644.41,297.38 L647.78,294.75 L651.15,291.81 L654.52,288.55 L657.89,284.95 L661.26,280.96 L664.63,276.58 L668.00,271.77 L671.37,266.53 L674.74,260.82 L678.11,254.65 L681.48,248.00 L684.85,240.89 L688.22,233.31 L691.59,225.30 L694.96,216.89 L698.33,208.11 L701.70,199.02" fill="none" stroke="#C77CFF" stroke-opacity="0.14" stroke-width="0.9"/>
<path d="M566.89,318.14 L570.26,318.09 L573.63,318.03 L577.00,317.96 L580.37,317.88 L583.74,317.79 L587.11,317.69 L590.48,317.57 L593.85,317.43 L597.22,317.27 L600.59,317.09 L603.96,316.89 L607.33,316.65 L610.70,316.38 L614.07,316.07 L617.44,315.72 L620.81,315.31 L624.19,314.84 L627.56,314.31 L630.93,313.70 L634.30,313.00 L637.67,312.21 L641.04,311.30 L644.41,310.27 L647.78,309.09 L651.15,307.75 L654.52,306.23 L657.89,304.50 L661.26,302.54 L664.63,300.32 L668.00,297.82 L671.37,295.00 L674.74,291.84 L678.11,288.29 L681.48,284.33 L684.85,279.92 L688.22,275.04 L691.59,269.65 L694.96,263.73 L698.33,257.26 L701.70,250.24" fill="none" stroke="#C77CFF" stroke-opacity="0.14" stroke-width="0.9"/>
<path d="M566.89,310.81 L570.26,310.12 L573.63,309.38 L577.00,308.57 L580.37,307.69 L583.74,306.74 L587.11,305.71 L590.48,304.59 L593.85,303.38 L597.22,302.07 L600.59,300.65 L603.96,299.12 L607.33,297.47 L610.70,295.69 L614.07,293.77 L617.44,291.70 L620.81,289.48 L624.19,287.09 L627.56,284.54 L630.93,281.80 L634.30,278.87 L637.67,275.75 L641.04,272.43 L644.41,268.90 L647.78,265.15 L651.15,261.18 L654.52,256.99 L657.89,252.57 L661.26,247.93 L664.63,243.06 L668.00,237.98 L671.37,232.67 L674.74,227.17 L678.11,221.46 L681.48,215.57 L684.85,209.51 L688.22,203.30 L691.59,196.95 L694.96,190.48 L698.33,183.93 L701.70,177.31" fill="none" stroke="#C77CFF" stroke-opacity="0.14" stroke-width="0.9"/>
<path d="M566.89,313.05 L570.26,312.52 L573.63,311.94 L577.00,311.30 L580.37,310.61 L583.74,309.84 L587.11,309.01 L590.48,308.10 L593.85,307.10 L597.22,306.01 L600.59,304.83 L603.96,303.53 L607.33,302.12 L610.70,300.59 L614.07,298.92 L617.44,297.11 L620.81,295.14 L624.19,293.02 L627.56,290.71 L630.93,288.22 L634.30,285.53 L637.67,282.64 L641.04,279.53 L644.41,276.19 L647.78,272.61 L651.15,268.79 L654.52,264.71 L657.89,260.38 L661.26,255.79 L664.63,250.93 L668.00,245.81 L671.37,240.43 L674.74,234.79 L678.11,228.91 L681.48,222.79 L684.85,216.45 L688.22,209.91 L691.59,203.19 L694.96,196.31 L698.33,189.30 L701.70,182.19" fill="none" stroke="#C77CFF" stroke-opacity="0.14" stroke-width="0.9"/>
<path d="M566.89,316.88 L570.26,316.67 L573.63,316.44 L577.00,316.17 L580.37,315.87 L583.74,315.54 L587.11,315.16 L590.48,314.74 L593.85,314.26 L597.22,313.72 L600.59,313.11 L603.96,312.43 L607.33,311.66 L610.70,310.80 L614.07,309.84 L617.44,308.75 L620.81,307.54 L624.19,306.18 L627.56,304.66 L630.93,302.97 L634.30,301.08 L637.67,298.97 L641.04,296.63 L644.41,294.03 L647.78,291.16 L651.15,287.98 L654.52,284.48 L657.89,280.63 L661.26,276.42 L664.63,271.82 L668.00,266.81 L671.37,261.39 L674.74,255.54 L678.11,249.25 L681.48,242.54 L684.85,235.40 L688.22,227.86 L691.59,219.93 L694.96,211.66 L698.33,203.09 L701.70,194.25" fill="none" stroke="#C77CFF" stroke-opacity="0.14" stroke-width="0.9"/>
<path d="M566.89,315.31 L570.26,314.96 L573.63,314.57 L577.00,314.14 L580.37,313.66 L583.74,313.12 L587.11,312.54 L590.48,311.88 L593.85,311.16 L597.22,310.36 L600.59,309.48 L603.96,308.50 L607.33,307.43 L610.70,306.24 L614.07,304.93 L617.44,303.49 L620.81,301.90 L624.19,300.16 L627.56,298.24 L630.93,296.14 L634.30,293.85 L637.67,291.34 L641.04,288.60 L644.41,285.62 L647.78,282.37 L651.15,278.86 L654.52,275.06 L657.89,270.96 L661.26,266.55 L664.63,261.82 L668.00,256.77 L671.37,251.39 L674.74,245.67 L678.11,239.64 L681.48,233.28 L684.85,226.62 L688.22,219.68 L691.59,212.47 L694.96,205.03 L698.33,197.38 L701.70,189.56" fill="none" stroke="#C77CFF" stroke-opacity="0.14" stroke-width="0.9"/>
<path d="M566.89,316.84 L570.26,316.64 L573.63,316.41 L577.00,316.15 L580.37,315.86 L583.74,315.53 L587.11,315.17 L590.48,314.76 L593.85,314.30 L597.22,313.78 L600.59,313.20 L603.96,312.56 L607.33,311.83 L610.70,311.02 L614.07,310.11 L617.44,309.10 L620.81,307.97 L624.19,306.71 L627.56,305.31 L630.93,303.74 L634.30,302.00 L637.67,300.07 L641.04,297.93 L644.41,295.56 L647.78,292.94 L651.15,290.05 L654.52,286.87 L657.89,283.38 L661.26,279.57 L664.63,275.40 L668.00,270.87 L671.37,265.96 L674.74,260.65 L678.11,254.94 L681.48,248.83 L684.85,242.32 L688.22,235.41 L691.59,228.12 L694.96,220.48 L698.33,212.51 L701.70,204.24" fill="none" stroke="#C77CFF" stroke-opacity="0.14" stroke-width="0.9"/>
<path d="M566.89,314.74 L570.26,314.29 L573.63,313.78 L577.00,313.22 L580.37,312.58 L583.74,311.87 L587.11,311.09 L590.48,310.20 L593.85,309.22 L597.22,308.13 L600.59,306.91 L603.96,305.55 L607.33,304.04 L610.70,302.37 L614.07,300.52 L617.44,298.46 L620.81,296.19 L624.19,293.69 L627.56,290.93 L630.93,287.90 L634.30,284.58 L637.67,280.95 L641.04,276.98 L644.41,272.67 L647.78,268.00 L651.15,262.95 L654.52,257.52 L657.89,251.70 L661.26,245.50 L664.63,238.90 L668.00,231.94 L671.37,224.61 L674.74,216.96 L678.11,209.01 L681.48,200.79 L684.85,192.35 L688.22,183.74 L691.59,175.02 L694.96,166.24 L698.33,157.45 L701.70,148.72" fill="none" stroke="#C77CFF" stroke-opacity="0.14" stroke-width="0.9"/>
<path d="M566.89,307.20 L570.26,306.36 L573.63,305.46 L577.00,304.51 L580.37,303.48 L583.74,302.38 L587.11,301.21 L590.48,299.96 L593.85,298.62 L597.22,297.20 L600.59,295.68 L603.96,294.06 L607.33,292.34 L610.70,290.50 L614.07,288.56 L617.44,286.49 L620.81,284.30 L624.19,281.98 L627.56,279.52 L630.93,276.93 L634.30,274.19 L637.67,271.30 L641.04,268.26 L644.41,265.06 L647.78,261.71 L651.15,258.19 L654.52,254.52 L657.89,250.68 L661.26,246.68 L664.63,242.53 L668.00,238.21 L671.37,233.74 L674.74,229.12 L678.11,224.35 L681.48,219.45 L684.85,214.42 L688.22,209.26 L691.59,204.00 L694.96,198.64 L698.33,193.19 L701.70,187.67" fill="none" stroke="#C77CFF" stroke-opacity="0.14" stroke-width="0.9"/>
<path d="M566.89,312.69 L570.26,312.15 L573.63,311.57 L577.00,310.93 L580.37,310.24 L583.74,309.49 L587.11,308.67 L590.48,307.78 L593.85,306.81 L597.22,305.76 L600.59,304.61 L603.96,303.37 L607.33,302.03 L610.70,300.57 L614.07,298.99 L617.44,297.29 L620.81,295.45 L624.19,293.46 L627.56,291.32 L630.93,289.01 L634.30,286.53 L637.67,283.87 L641.04,281.01 L644.41,277.96 L647.78,274.70 L651.15,271.22 L654.52,267.52 L657.89,263.59 L661.26,259.43 L664.63,255.04 L668.00,250.40 L671.37,245.54 L674.74,240.43 L678.11,235.10 L681.48,229.55 L684.85,223.79 L688.22,217.83 L691.59,211.68 L694.96,205.36 L698.33,198.90 L701.70,192.31" fill="none" stroke="#C77CFF" stroke-opacity="0.14" stroke-width="0.9"/>
<path d="M566.89,317.87 L570.26,317.77 L573.63,317.66 L577.00,317.53 L580.37,317.38 L583.74,317.21 L587.11,317.01 L590.48,316.78 L593.85,316.51 L597.22,316.20 L600.59,315.85 L603.96,315.44 L607.33,314.97 L610.70,314.43 L614.07,313.80 L617.44,313.08 L620.81,312.26 L624.19,311.31 L627.56,310.22 L630.93,308.97 L634.30,307.54 L637.67,305.90 L641.04,304.03 L644.41,301.91 L647.78,299.48 L651.15,296.73 L654.52,293.62 L657.89,290.11 L661.26,286.16 L664.63,281.73 L668.00,276.79 L671.37,271.30 L674.74,265.23 L678.11,258.57 L681.48,251.30 L684.85,243.41 L688.22,234.92 L691.59,225.86 L694.96,216.27 L698.33,206.21 L701.70,195.76" fill="none" stroke="#C77CFF" stroke-opacity="0.14" stroke-width="0.9"/>
<path d="M566.89,317.36 L570.26,317.20 L573.63,317.01 L577.00,316.80 L580.37,316.55 L583.74,316.27 L587.11,315.95 L590.48,315.58 L593.85,315.17 L597.22,314.69 L600.59,314.15 L603.96,313.52 L607.33,312.82 L610.70,312.01 L614.07,311.09 L617.44,310.05 L620.81,308.86 L624.19,307.52 L627.56,305.99 L630.93,304.26 L634.30,302.31 L637.67,300.10 L641.04,297.62 L644.41,294.83 L647.78,291.70 L651.15,288.20 L654.52,284.30 L657.89,279.97 L661.26,275.18 L664.63,269.90 L668.00,264.12 L671.37,257.80 L674.74,250.95 L678.11,243.57 L681.48,235.66 L684.85,227.24 L688.22,218.36 L691.59,209.05 L694.96,199.38 L698.33,189.42 L701.70,179.25" fill="none" stroke="#C77CFF" stroke-opacity="0.14" stroke-width="0.9"/>
<path d="M566.89,295.15 L570.26,293.83 L573.63,292.43 L577.00,290.97 L580.37,289.43 L583.74,287.82 L587.11,286.12 L590.48,284.34 L593.85,282.48 L597.22,280.54 L600.59,278.50 L603.96,276.37 L607.33,274.14 L610.70,271.82 L614.07,269.40 L617.44,266.88 L620.81,264.26 L624.19,261.54 L627.56,258.71 L630.93,255.77 L634.30,252.73 L637.67,249.59 L641.04,246.34 L644.41,242.98 L647.78,239.53 L651.15,235.97 L654.52,232.31 L657.89,228.55 L661.26,224.70 L664.63,220.77 L668.00,216.74 L671.37,212.64 L674.74,208.45 L678.11,204.20 L681.48,199.89 L684.85,195.51 L688.22,191.09 L691.59,186.62 L694.96,182.11 L698.33,177.57 L701.70,173.02" fill="none" stroke="#C77CFF" stroke-opacity="0.14" stroke-width="0.9"/>
<path d="M566.89,316.99 L570.26,316.77 L573.63,316.53 L577.00,316.25 L580.37,315.93 L583.74,315.57 L587.11,315.16 L590.48,314.69 L593.85,314.15 L597.22,313.54 L600.59,312.85 L603.96,312.06 L607.33,311.16 L610.70,310.15 L614.07,308.99 L617.44,307.69 L620.81,306.21 L624.19,304.54 L627.56,302.65 L630.93,300.53 L634.30,298.14 L637.67,295.45 L641.04,292.45 L644.41,289.09 L647.78,285.36 L651.15,281.21 L654.52,276.63 L657.89,271.58 L661.26,266.04 L664.63,260.00 L668.00,253.44 L671.37,246.36 L674.74,238.77 L678.11,230.68 L681.48,222.12 L684.85,213.12 L688.22,203.75 L691.59,194.07 L694.96,184.14 L698.33,174.06 L701.70,163.90" fill="none" stroke="#C77CFF" stroke-opacity="0.14" stroke-width="0.9"/>
<path d="M566.89,316.32 L570.26,316.07 L573.63,315.79 L577.00,315.47 L580.37,315.11 L583.74,314.72 L587.11,314.28 L590.48,313.79 L593.85,313.25 L597.22,312.64 L600.59,311.96 L603.96,311.21 L607.33,310.37 L610.70,309.44 L614.07,308.41 L617.44,307.27 L620.81,306.00 L624.19,304.59 L627.56,303.03 L630.93,301.31 L634.30,299.41 L637.67,297.32 L641.04,295.02 L644.41,292.48 L647.78,289.71 L651.15,286.67 L654.52,283.34 L657.89,279.73 L661.26,275.80 L664.63,271.54 L668.00,266.94 L671.37,261.98 L674.74,256.67 L678.11,250.99 L681.48,244.95 L684.85,238.55 L688.22,231.81 L691.59,224.73 L694.96,217.34 L698.33,209.66 L701.70,201.74" fill="none" stroke="#C77CFF" stroke-opacity="0.14" stroke-width="0.9"/>
<line x1="522.6" y1="165.90" x2="737.7" y2="165.90" stroke="#BFBFBF" stroke-width="1"/>
<path d="M522.60,309.37 L524.60,308.94 L526.59,308.49 L528.59,308.03 L530.59,307.54 L532.59,307.02 L534.58,306.49 L536.58,305.93 L538.58,305.35 L540.58,304.74 L542.57,304.10 L544.57,303.44 L546.57,302.74 L548.56,302.02 L550.56,301.27 L552.56,300.48 L554.56,299.66 L556.55,298.80 L558.55,297.91 L560.55,296.98 L562.54,296.01 L564.54,295.01 L566.54,293.96 L568.54,292.87 L570.53,291.73 L572.53,290.55 L574.53,289.33 L576.53,288.05 L578.52,286.73 L580.52,285.35 L582.52,283.93 L584.51,282.45 L586.51,280.91 L588.51,279.33 L590.51,277.68 L592.50,275.97 L594.50,274.21 L596.50,272.38 L598.50,270.50 L600.49,268.55 L602.49,266.54 L604.49,264.46 L606.48,262.32 L608.48,260.12 L610.48,257.85 L612.48,255.51 L614.47,253.11 L616.47,250.65 L618.47,248.11 L620.46,245.51 L622.46,242.85 L624.46,240.12 L626.46,237.33 L628.45,234.47 L630.45,231.56 L632.45,228.58 L634.45,225.55 L636.44,222.46 L638.44,219.31 L640.44,216.11 L642.43,212.86 L644.43,209.57 L646.43,206.23 L648.43,202.84 L650.42,199.42 L652.42,195.96 L654.42,192.47 L656.41,188.95 L658.41,185.40 L660.41,181.84 L662.41,178.25 L664.40,174.66 L666.40,171.05 L668.40,167.43 L670.40,163.82 L672.39,160.21 L674.39,156.60 L676.39,153.00 L678.38,149.42 L680.38,145.86 L682.38,142.32" fill="none" stroke="#F8766D" stroke-width="1.9"/>
<path d="M581.80,292.77 L583.73,291.88 L585.65,290.95 L587.58,290.00 L589.50,289.02 L591.43,288.00 L593.35,286.96 L595.28,285.89 L597.20,284.78 L599.13,283.64 L601.06,282.47 L602.98,281.26 L604.91,280.02 L606.83,278.74 L608.76,277.43 L610.68,276.08 L612.61,274.69 L614.53,273.27 L616.46,271.81 L618.38,270.31 L620.31,268.77 L622.24,267.19 L624.16,265.57 L626.09,263.91 L628.01,262.21 L629.94,260.47 L631.86,258.69 L633.79,256.87 L635.71,255.01 L637.64,253.11 L639.57,251.16 L641.49,249.17 L643.42,247.15 L645.34,245.08 L647.27,242.97 L649.19,240.82 L651.12,238.64 L653.04,236.41 L654.97,234.14 L656.90,231.84 L658.82,229.49 L660.75,227.11 L662.67,224.70 L664.60,222.25 L666.52,219.76 L668.45,217.25 L670.37,214.70 L672.30,212.12 L674.23,209.51 L676.15,206.87 L678.08,204.21 L680.00,201.52 L681.93,198.80 L683.85,196.07 L685.78,193.31 L687.70,190.54 L689.63,187.75 L691.55,184.94 L693.48,182.12 L695.41,179.29 L697.33,176.45 L699.26,173.61 L701.18,170.75 L703.11,167.90 L705.03,165.04 L706.96,162.19 L708.88,159.33 L710.81,156.48 L712.74,153.64 L714.66,150.81 L716.59,147.98 L718.51,145.17 L720.44,142.37 L722.36,139.59 L724.29,136.83 L726.21,134.09 L728.14,131.36 L730.07,128.67 L731.99,125.99 L733.92,123.34 L735.84,120.72" fill="none" stroke="#7CAE00" stroke-width="1.9"/>
<path d="M581.80,289.83 L583.73,288.79 L585.65,287.70 L587.58,286.59 L589.50,285.44 L591.43,284.25 L593.35,283.02 L595.28,281.76 L597.20,280.46 L599.13,279.11 L601.06,277.73 L602.98,276.31 L604.91,274.85 L606.83,273.34 L608.76,271.79 L610.68,270.20 L612.61,268.56 L614.53,266.88 L616.46,265.16 L618.38,263.39 L620.31,261.57 L622.24,259.71 L624.16,257.81 L626.09,255.85 L628.01,253.85 L629.94,251.81 L631.86,249.72 L633.79,247.58 L635.71,245.39 L637.64,243.16 L639.57,240.89 L641.49,238.57 L643.42,236.21 L645.34,233.80 L647.27,231.35 L649.19,228.86 L651.12,226.32 L653.04,223.75 L654.97,221.14 L656.90,218.48 L658.82,215.80 L660.75,213.08 L662.67,210.32 L664.60,207.53 L666.52,204.71 L668.45,201.87 L670.37,198.99 L672.30,196.10 L674.23,193.17 L676.15,190.23 L678.08,187.27 L680.00,184.30 L681.93,181.30 L683.85,178.30 L685.78,175.29 L687.70,172.27 L689.63,169.24 L691.55,166.21 L693.48,163.18 L695.41,160.16 L697.33,157.14 L699.26,154.12 L701.18,151.12 L703.11,148.12 L705.03,145.14 L706.96,142.18 L708.88,139.23 L710.81,136.31 L712.74,133.40 L714.66,130.52 L716.59,127.67 L718.51,124.85 L720.44,122.05 L722.36,119.29 L724.29,116.56 L726.21,113.87 L728.14,111.21 L730.07,108.59 L731.99,106.01 L733.92,103.47 L735.84,100.96" fill="none" stroke="#00BFC4" stroke-width="1.9"/>
<path d="M566.89,317.33 L568.58,317.25 L570.26,317.16 L571.95,317.06 L573.63,316.95 L575.32,316.84 L577.00,316.72 L578.69,316.59 L580.37,316.45 L582.06,316.30 L583.74,316.13 L585.43,315.96 L587.11,315.78 L588.80,315.58 L590.48,315.36 L592.17,315.13 L593.85,314.89 L595.54,314.63 L597.22,314.34 L598.91,314.04 L600.59,313.72 L602.28,313.37 L603.96,313.00 L605.65,312.60 L607.33,312.17 L609.02,311.72 L610.70,311.23 L612.39,310.71 L614.07,310.15 L615.76,309.55 L617.44,308.91 L619.13,308.23 L620.81,307.50 L622.50,306.72 L624.19,305.88 L625.87,304.99 L627.56,304.04 L629.24,303.03 L630.93,301.95 L632.61,300.80 L634.30,299.58 L635.98,298.27 L637.67,296.89 L639.35,295.41 L641.04,293.85 L642.72,292.19 L644.41,290.42 L646.09,288.56 L647.78,286.58 L649.46,284.49 L651.15,282.27 L652.83,279.94 L654.52,277.48 L656.20,274.88 L657.89,272.15 L659.57,269.29 L661.26,266.28 L662.94,263.12 L664.63,259.82 L666.31,256.38 L668.00,252.78 L669.68,249.04 L671.37,245.14 L673.05,241.10 L674.74,236.92 L676.42,232.60 L678.11,228.13 L679.79,223.54 L681.48,218.82 L683.16,213.99 L684.85,209.04 L686.53,204.00 L688.22,198.86 L689.90,193.65 L691.59,188.37 L693.27,183.03 L694.96,177.64 L696.64,172.23 L698.33,166.81 L700.01,161.38 L701.70,155.96" fill="none" stroke="#C77CFF" stroke-width="1.9"/>
</g>
<text x="515.80" y="246.70" font-size="12.7" fill="#666666" text-anchor="end" font-weight="normal" font-style="normal" textLength="14.50" lengthAdjust="spacingAndGlyphs" >25</text>
<text x="515.80" y="170.40" font-size="12.7" fill="#666666" text-anchor="end" font-weight="normal" font-style="normal" textLength="14.50" lengthAdjust="spacingAndGlyphs" >50</text>
<text x="515.80" y="94.10" font-size="12.7" fill="#666666" text-anchor="end" font-weight="normal" font-style="normal" textLength="14.50" lengthAdjust="spacingAndGlyphs" >75</text>
<text x="511.50" y="337.90" font-size="12.7" fill="#666666" text-anchor="start" font-weight="normal" font-style="normal" textLength="24.90" lengthAdjust="spacingAndGlyphs" >0.01</text>
<text x="569.70" y="337.90" font-size="12.7" fill="#666666" text-anchor="start" font-weight="normal" font-style="normal" textLength="24.80" lengthAdjust="spacingAndGlyphs" >0.10</text>
<text x="627.90" y="337.90" font-size="12.7" fill="#666666" text-anchor="start" font-weight="normal" font-style="normal" textLength="25.10" lengthAdjust="spacingAndGlyphs" >1.00</text>
<text x="685.50" y="337.90" font-size="12.7" fill="#666666" text-anchor="start" font-weight="normal" font-style="normal" textLength="32.10" lengthAdjust="spacingAndGlyphs" >10.00</text>
<text x="0.00" y="0.00" font-size="16" fill="#111" text-anchor="start" font-weight="normal" font-style="normal" stroke="#111" stroke-width="0.1" textLength="94.80" lengthAdjust="spacingAndGlyphs" transform="translate(487.6,216.3) rotate(-90)">Inhibition (%)</text>
<text x="492.60" y="373.60" font-size="16" fill="#111" text-anchor="start" font-weight="normal" font-style="normal" stroke="#111" stroke-width="0.1" textLength="236.20" lengthAdjust="spacingAndGlyphs" >Concentration (µg/mL, log scale)</text>
<text x="476.90" y="14.60" font-size="18" fill="#000" text-anchor="start" font-weight="bold" font-style="normal" stroke="#000" stroke-width="0.3" textLength="10.60" lengthAdjust="spacingAndGlyphs" >B</text>
<text x="764.20" y="64.40" font-size="15.2" fill="#222" text-anchor="start" font-weight="normal" font-style="normal" stroke="#222" stroke-width="0.15" textLength="31.60" lengthAdjust="spacingAndGlyphs" >Drug</text>
<line x1="738.5" y1="89.8" x2="759.2" y2="89.8" stroke="#F8766D" stroke-width="3.2"/>
<text x="766.40" y="93.40" font-size="13.0" fill="#222" text-anchor="start" font-weight="normal" font-style="normal" stroke="#222" stroke-width="0.12" textLength="89.90" lengthAdjust="spacingAndGlyphs" >Amphotericin B</text>
<line x1="738.5" y1="115.5" x2="759.2" y2="115.5" stroke="#7CAE00" stroke-width="3.2"/>
<text x="766.40" y="118.80" font-size="13.0" fill="#222" text-anchor="start" font-weight="normal" font-style="normal" stroke="#222" stroke-width="0.12" textLength="64.10" lengthAdjust="spacingAndGlyphs" >Miltefosine</text>
<line x1="738.5" y1="141.2" x2="759.2" y2="141.2" stroke="#00BFC4" stroke-width="3.2"/>
<text x="766.40" y="145.00" font-size="13.0" fill="#222" text-anchor="start" font-weight="normal" font-style="normal" stroke="#222" stroke-width="0.12" textLength="27.20" lengthAdjust="spacingAndGlyphs" >OlPC</text>
<line x1="738.5" y1="167.2" x2="759.2" y2="167.2" stroke="#C77CFF" stroke-width="3.2"/>
<text x="766.40" y="170.60" font-size="13.0" fill="#222" text-anchor="start" font-weight="normal" font-style="normal" stroke="#222" stroke-width="0.12" textLength="13.60" lengthAdjust="spacingAndGlyphs" >Sb</text>
<text x="780.30" y="167.00" font-size="9.5" fill="#222" text-anchor="start" font-weight="normal" font-style="normal" stroke="#222" stroke-width="0.15" textLength="5.00" lengthAdjust="spacingAndGlyphs" >V</text></svg>
</body></html>
